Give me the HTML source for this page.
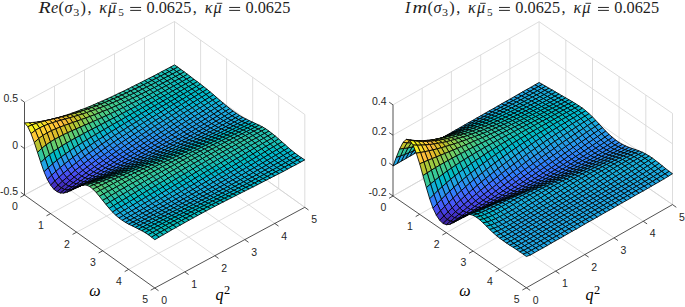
<!DOCTYPE html>
<html><head><meta charset="utf-8"><style>
html,body{margin:0;padding:0;background:#fff;}
svg{display:block;}
.t{font-family:"Liberation Sans",sans-serif;font-size:10.5px;fill:#262626;}
.m{font-family:"Liberation Serif",serif;font-size:16px;font-style:italic;fill:#000;}
.s{font-family:"Liberation Serif",serif;font-size:12.3px;fill:#000;}
.ti{font-family:"Liberation Serif",serif;font-size:16.3px;fill:#1e1e1e;}
</style></head><body>
<svg width="685" height="307" viewBox="0 0 685 307">
<rect width="685" height="307" fill="#fff"/>
<line x1="24.5" y1="195" x2="174.5" y2="114.3" stroke="#d4d4d4" stroke-width="0.8"/>
<line x1="50.6" y1="213.6" x2="200.6" y2="132.9" stroke="#d4d4d4" stroke-width="0.8"/>
<line x1="54.5" y1="178.9" x2="184.8" y2="271.9" stroke="#d4d4d4" stroke-width="0.8"/>
<line x1="76.6" y1="232.2" x2="226.6" y2="151.5" stroke="#d4d4d4" stroke-width="0.8"/>
<line x1="84.5" y1="162.7" x2="214.8" y2="255.7" stroke="#d4d4d4" stroke-width="0.8"/>
<line x1="102.7" y1="250.8" x2="252.7" y2="170.1" stroke="#d4d4d4" stroke-width="0.8"/>
<line x1="114.5" y1="146.6" x2="244.8" y2="239.6" stroke="#d4d4d4" stroke-width="0.8"/>
<line x1="128.7" y1="269.4" x2="278.7" y2="188.7" stroke="#d4d4d4" stroke-width="0.8"/>
<line x1="144.5" y1="130.4" x2="274.8" y2="223.4" stroke="#d4d4d4" stroke-width="0.8"/>
<line x1="174.5" y1="114.3" x2="304.8" y2="207.3" stroke="#d4d4d4" stroke-width="0.8"/>
<line x1="54.5" y1="178.9" x2="54.5" y2="86.1" stroke="#d4d4d4" stroke-width="0.8"/>
<line x1="84.5" y1="162.7" x2="84.5" y2="69.9" stroke="#d4d4d4" stroke-width="0.8"/>
<line x1="114.5" y1="146.6" x2="114.5" y2="53.8" stroke="#d4d4d4" stroke-width="0.8"/>
<line x1="144.5" y1="130.4" x2="144.5" y2="37.6" stroke="#d4d4d4" stroke-width="0.8"/>
<line x1="174.5" y1="114.3" x2="174.5" y2="21.5" stroke="#d4d4d4" stroke-width="0.8"/>
<line x1="24.5" y1="195" x2="174.5" y2="114.3" stroke="#d4d4d4" stroke-width="0.8"/>
<line x1="174.5" y1="114.3" x2="304.8" y2="207.3" stroke="#d4d4d4" stroke-width="0.8"/>
<line x1="24.5" y1="148.6" x2="174.5" y2="67.9" stroke="#d4d4d4" stroke-width="0.8"/>
<line x1="174.5" y1="67.9" x2="304.8" y2="160.9" stroke="#d4d4d4" stroke-width="0.8"/>
<line x1="24.5" y1="102.2" x2="174.5" y2="21.5" stroke="#d4d4d4" stroke-width="0.8"/>
<line x1="174.5" y1="21.5" x2="304.8" y2="114.5" stroke="#d4d4d4" stroke-width="0.8"/>
<line x1="200.6" y1="132.9" x2="200.6" y2="40.1" stroke="#d4d4d4" stroke-width="0.8"/>
<line x1="226.6" y1="151.5" x2="226.6" y2="58.7" stroke="#d4d4d4" stroke-width="0.8"/>
<line x1="252.7" y1="170.1" x2="252.7" y2="77.3" stroke="#d4d4d4" stroke-width="0.8"/>
<line x1="278.7" y1="188.7" x2="278.7" y2="95.9" stroke="#d4d4d4" stroke-width="0.8"/>
<line x1="304.8" y1="207.3" x2="304.8" y2="114.5" stroke="#d4d4d4" stroke-width="0.8"/>
<line x1="393" y1="196" x2="539.1" y2="112.9" stroke="#d4d4d4" stroke-width="0.8"/>
<line x1="419.7" y1="214.3" x2="565.8" y2="131.2" stroke="#d4d4d4" stroke-width="0.8"/>
<line x1="422.2" y1="179.4" x2="555.6" y2="271.1" stroke="#d4d4d4" stroke-width="0.8"/>
<line x1="446.4" y1="232.7" x2="592.5" y2="149.6" stroke="#d4d4d4" stroke-width="0.8"/>
<line x1="451.4" y1="162.8" x2="584.8" y2="254.5" stroke="#d4d4d4" stroke-width="0.8"/>
<line x1="473" y1="251.1" x2="619.1" y2="167.9" stroke="#d4d4d4" stroke-width="0.8"/>
<line x1="480.7" y1="146.1" x2="614.1" y2="237.9" stroke="#d4d4d4" stroke-width="0.8"/>
<line x1="499.7" y1="269.4" x2="645.8" y2="186.3" stroke="#d4d4d4" stroke-width="0.8"/>
<line x1="509.9" y1="129.5" x2="643.3" y2="221.3" stroke="#d4d4d4" stroke-width="0.8"/>
<line x1="539.1" y1="112.9" x2="672.5" y2="204.6" stroke="#d4d4d4" stroke-width="0.8"/>
<line x1="422.2" y1="179.4" x2="422.2" y2="88.2" stroke="#d4d4d4" stroke-width="0.8"/>
<line x1="451.4" y1="162.8" x2="451.4" y2="71.6" stroke="#d4d4d4" stroke-width="0.8"/>
<line x1="480.7" y1="146.1" x2="480.7" y2="54.9" stroke="#d4d4d4" stroke-width="0.8"/>
<line x1="509.9" y1="129.5" x2="509.9" y2="38.3" stroke="#d4d4d4" stroke-width="0.8"/>
<line x1="539.1" y1="112.9" x2="539.1" y2="21.7" stroke="#d4d4d4" stroke-width="0.8"/>
<line x1="393" y1="196" x2="539.1" y2="112.9" stroke="#d4d4d4" stroke-width="0.8"/>
<line x1="539.1" y1="112.9" x2="672.5" y2="204.6" stroke="#d4d4d4" stroke-width="0.8"/>
<line x1="393" y1="165.6" x2="539.1" y2="82.5" stroke="#d4d4d4" stroke-width="0.8"/>
<line x1="539.1" y1="82.5" x2="672.5" y2="174.2" stroke="#d4d4d4" stroke-width="0.8"/>
<line x1="393" y1="135.2" x2="539.1" y2="52.1" stroke="#d4d4d4" stroke-width="0.8"/>
<line x1="539.1" y1="52.1" x2="672.5" y2="143.8" stroke="#d4d4d4" stroke-width="0.8"/>
<line x1="393" y1="104.8" x2="539.1" y2="21.7" stroke="#d4d4d4" stroke-width="0.8"/>
<line x1="539.1" y1="21.7" x2="672.5" y2="113.4" stroke="#d4d4d4" stroke-width="0.8"/>
<line x1="565.8" y1="131.2" x2="565.8" y2="40" stroke="#d4d4d4" stroke-width="0.8"/>
<line x1="592.5" y1="149.6" x2="592.5" y2="58.4" stroke="#d4d4d4" stroke-width="0.8"/>
<line x1="619.1" y1="167.9" x2="619.1" y2="76.7" stroke="#d4d4d4" stroke-width="0.8"/>
<line x1="645.8" y1="186.3" x2="645.8" y2="95.1" stroke="#d4d4d4" stroke-width="0.8"/>
<line x1="672.5" y1="204.6" x2="672.5" y2="113.4" stroke="#d4d4d4" stroke-width="0.8"/>
<line x1="24.5" y1="195" x2="24.5" y2="102.2" stroke="#262626" stroke-width="0.8"/>
<line x1="24.5" y1="195" x2="154.8" y2="288" stroke="#262626" stroke-width="0.8"/>
<line x1="154.8" y1="288" x2="304.8" y2="207.3" stroke="#262626" stroke-width="0.8"/>
<line x1="24.5" y1="195" x2="20.8" y2="192.3" stroke="#262626" stroke-width="0.8"/>
<text x="18.1" y="195.1" text-anchor="end" class="t">-0.5</text>
<line x1="24.5" y1="148.6" x2="20.8" y2="145.9" stroke="#262626" stroke-width="0.8"/>
<text x="18.1" y="148.7" text-anchor="end" class="t">0</text>
<line x1="24.5" y1="102.2" x2="20.8" y2="99.5" stroke="#262626" stroke-width="0.8"/>
<text x="18.1" y="102.3" text-anchor="end" class="t">0.5</text>
<line x1="24.5" y1="195" x2="20.4" y2="197.2" stroke="#262626" stroke-width="0.8"/>
<text x="14.8" y="210.3" text-anchor="middle" class="t">0</text>
<line x1="154.8" y1="288" x2="158.5" y2="290.7" stroke="#262626" stroke-width="0.8"/>
<text x="164.1" y="304.1" text-anchor="middle" class="t">0</text>
<line x1="50.6" y1="213.6" x2="46.5" y2="215.8" stroke="#262626" stroke-width="0.8"/>
<text x="40.9" y="228.9" text-anchor="middle" class="t">1</text>
<line x1="184.8" y1="271.9" x2="188.5" y2="274.5" stroke="#262626" stroke-width="0.8"/>
<text x="194.1" y="288" text-anchor="middle" class="t">1</text>
<line x1="76.6" y1="232.2" x2="72.6" y2="234.4" stroke="#262626" stroke-width="0.8"/>
<text x="66.9" y="247.5" text-anchor="middle" class="t">2</text>
<line x1="214.8" y1="255.7" x2="218.5" y2="258.4" stroke="#262626" stroke-width="0.8"/>
<text x="224.1" y="271.8" text-anchor="middle" class="t">2</text>
<line x1="102.7" y1="250.8" x2="98.6" y2="253" stroke="#262626" stroke-width="0.8"/>
<text x="93" y="266.1" text-anchor="middle" class="t">3</text>
<line x1="244.8" y1="239.6" x2="248.5" y2="242.3" stroke="#262626" stroke-width="0.8"/>
<text x="254.1" y="255.7" text-anchor="middle" class="t">3</text>
<line x1="128.7" y1="269.4" x2="124.7" y2="271.6" stroke="#262626" stroke-width="0.8"/>
<text x="119" y="284.7" text-anchor="middle" class="t">4</text>
<line x1="274.8" y1="223.4" x2="278.5" y2="226.1" stroke="#262626" stroke-width="0.8"/>
<text x="284.1" y="239.5" text-anchor="middle" class="t">4</text>
<line x1="154.8" y1="288" x2="150.7" y2="290.2" stroke="#262626" stroke-width="0.8"/>
<text x="145.1" y="303.3" text-anchor="middle" class="t">5</text>
<line x1="304.8" y1="207.3" x2="308.5" y2="210" stroke="#262626" stroke-width="0.8"/>
<text x="314.1" y="223.4" text-anchor="middle" class="t">5</text>
<line x1="393" y1="196" x2="393" y2="104.8" stroke="#262626" stroke-width="0.8"/>
<line x1="393" y1="196" x2="526.4" y2="287.8" stroke="#262626" stroke-width="0.8"/>
<line x1="526.4" y1="287.8" x2="672.5" y2="204.6" stroke="#262626" stroke-width="0.8"/>
<line x1="393" y1="196" x2="389.2" y2="193.4" stroke="#262626" stroke-width="0.8"/>
<text x="386.6" y="196.1" text-anchor="end" class="t">-0.2</text>
<line x1="393" y1="165.6" x2="389.2" y2="163" stroke="#262626" stroke-width="0.8"/>
<text x="386.6" y="165.7" text-anchor="end" class="t">0</text>
<line x1="393" y1="135.2" x2="389.2" y2="132.6" stroke="#262626" stroke-width="0.8"/>
<text x="386.6" y="135.3" text-anchor="end" class="t">0.2</text>
<line x1="393" y1="104.8" x2="389.2" y2="102.2" stroke="#262626" stroke-width="0.8"/>
<text x="386.6" y="104.9" text-anchor="end" class="t">0.4</text>
<line x1="393" y1="196" x2="389" y2="198.3" stroke="#262626" stroke-width="0.8"/>
<text x="383.3" y="211.3" text-anchor="middle" class="t">0</text>
<line x1="526.4" y1="287.8" x2="530.2" y2="290.4" stroke="#262626" stroke-width="0.8"/>
<text x="535.7" y="303.9" text-anchor="middle" class="t">0</text>
<line x1="419.7" y1="214.3" x2="415.7" y2="216.6" stroke="#262626" stroke-width="0.8"/>
<text x="410" y="229.6" text-anchor="middle" class="t">1</text>
<line x1="555.6" y1="271.1" x2="559.4" y2="273.7" stroke="#262626" stroke-width="0.8"/>
<text x="564.9" y="287.2" text-anchor="middle" class="t">1</text>
<line x1="446.4" y1="232.7" x2="442.4" y2="235" stroke="#262626" stroke-width="0.8"/>
<text x="436.7" y="248" text-anchor="middle" class="t">2</text>
<line x1="584.8" y1="254.5" x2="588.6" y2="257.1" stroke="#262626" stroke-width="0.8"/>
<text x="594.1" y="270.6" text-anchor="middle" class="t">2</text>
<line x1="473" y1="251.1" x2="469" y2="253.3" stroke="#262626" stroke-width="0.8"/>
<text x="463.3" y="266.4" text-anchor="middle" class="t">3</text>
<line x1="614.1" y1="237.9" x2="617.9" y2="240.5" stroke="#262626" stroke-width="0.8"/>
<text x="623.4" y="254" text-anchor="middle" class="t">3</text>
<line x1="499.7" y1="269.4" x2="495.7" y2="271.7" stroke="#262626" stroke-width="0.8"/>
<text x="490" y="284.7" text-anchor="middle" class="t">4</text>
<line x1="643.3" y1="221.3" x2="647.1" y2="223.9" stroke="#262626" stroke-width="0.8"/>
<text x="652.6" y="237.4" text-anchor="middle" class="t">4</text>
<line x1="526.4" y1="287.8" x2="522.4" y2="290" stroke="#262626" stroke-width="0.8"/>
<text x="516.7" y="303.1" text-anchor="middle" class="t">5</text>
<line x1="672.5" y1="204.6" x2="676.3" y2="207.3" stroke="#262626" stroke-width="0.8"/>
<text x="681.8" y="220.7" text-anchor="middle" class="t">5</text>
<g stroke="#000" stroke-width="0.85" stroke-linejoin="round">
<path fill="#19bfb6" d="M170.2 67.2 174.5 64.9 177.8 67.1 173.5 69.4Z"/>
<path fill="#19bfb6" d="M165.9 69.5 170.2 67.2 173.5 69.4 169.2 71.7Z"/>
<path fill="#19bfb6" d="M173.5 69.4 177.8 67.1 181 69.5 176.7 71.7Z"/>
<path fill="#19bfb6" d="M161.6 71.7 165.9 69.5 169.2 71.7 164.9 73.9Z"/>
<path fill="#19bfb6" d="M169.2 71.7 173.5 69.4 176.7 71.7 172.4 74Z"/>
<path fill="#19bfb6" d="M176.7 71.7 181 69.5 184.3 71.9 180 74.2Z"/>
<path fill="#19bfb6" d="M157.4 74 161.6 71.7 164.9 73.9 160.6 76.1Z"/>
<path fill="#19bfb6" d="M164.9 73.9 169.2 71.7 172.4 74 168.2 76.2Z"/>
<path fill="#19bfb6" d="M172.4 74 176.7 71.7 180 74.2 175.7 76.4Z"/>
<path fill="#19bfb6" d="M180 74.2 184.3 71.9 187.5 74.3 183.2 76.7Z"/>
<path fill="#19bfb6" d="M153.1 76.2 157.4 74 160.6 76.1 156.3 78.3Z"/>
<path fill="#19bfb6" d="M160.6 76.1 164.9 73.9 168.2 76.2 163.9 78.4Z"/>
<path fill="#19bfb6" d="M168.2 76.2 172.4 74 175.7 76.4 171.4 78.7Z"/>
<path fill="#19bfb6" d="M175.7 76.4 180 74.2 183.2 76.7 179 78.9Z"/>
<path fill="#0bbdbd" d="M183.2 76.7 187.5 74.3 190.8 76.8 186.5 79.1Z"/>
<path fill="#19bfb6" d="M148.8 78.4 153.1 76.2 156.3 78.3 152 80.5Z"/>
<path fill="#19bfb6" d="M156.3 78.3 160.6 76.1 163.9 78.4 159.6 80.6Z"/>
<path fill="#19bfb6" d="M163.9 78.4 168.2 76.2 171.4 78.7 167.1 80.9Z"/>
<path fill="#19bfb6" d="M171.4 78.7 175.7 76.4 179 78.9 174.7 81.2Z"/>
<path fill="#0bbdbd" d="M179 78.9 183.2 76.7 186.5 79.1 182.2 81.5Z"/>
<path fill="#0bbdbd" d="M186.5 79.1 190.8 76.8 194 79.3 189.8 81.6Z"/>
<path fill="#19bfb6" d="M144.5 80.6 148.8 78.4 152 80.5 147.8 82.7Z"/>
<path fill="#19bfb6" d="M152 80.5 156.3 78.3 159.6 80.6 155.3 82.8Z"/>
<path fill="#19bfb6" d="M159.6 80.6 163.9 78.4 167.1 80.9 162.8 83.2Z"/>
<path fill="#19bfb6" d="M167.1 80.9 171.4 78.7 174.7 81.2 170.4 83.5Z"/>
<path fill="#0bbdbd" d="M174.7 81.2 179 78.9 182.2 81.5 177.9 83.8Z"/>
<path fill="#0bbdbd" d="M182.2 81.5 186.5 79.1 189.8 81.6 185.5 84Z"/>
<path fill="#0bbdbd" d="M189.8 81.6 194 79.3 197.3 81.7 193 84.1Z"/>
<path fill="#19bfb6" d="M140.2 82.8 144.5 80.6 147.8 82.7 143.5 84.8Z"/>
<path fill="#24c1ae" d="M147.8 82.7 152 80.5 155.3 82.8 151 85Z"/>
<path fill="#19bfb6" d="M155.3 82.8 159.6 80.6 162.8 83.2 158.6 85.4Z"/>
<path fill="#19bfb6" d="M162.8 83.2 167.1 80.9 170.4 83.5 166.1 85.8Z"/>
<path fill="#0bbdbd" d="M170.4 83.5 174.7 81.2 177.9 83.8 173.6 86.1Z"/>
<path fill="#0bbdbd" d="M177.9 83.8 182.2 81.5 185.5 84 181.2 86.4Z"/>
<path fill="#0bbdbd" d="M185.5 84 189.8 81.6 193 84.1 188.7 86.5Z"/>
<path fill="#0bbdbd" d="M193 84.1 197.3 81.7 200.6 84.2 196.3 86.6Z"/>
<path fill="#24c1ae" d="M135.9 84.9 140.2 82.8 143.5 84.8 139.2 86.9Z"/>
<path fill="#24c1ae" d="M143.5 84.8 147.8 82.7 151 85 146.7 87.1Z"/>
<path fill="#24c1ae" d="M151 85 155.3 82.8 158.6 85.4 154.3 87.6Z"/>
<path fill="#19bfb6" d="M158.6 85.4 162.8 83.2 166.1 85.8 161.8 88Z"/>
<path fill="#19bfb6" d="M166.1 85.8 170.4 83.5 173.6 86.1 169.4 88.4Z"/>
<path fill="#0bbdbd" d="M173.6 86.1 177.9 83.8 181.2 86.4 176.9 88.7Z"/>
<path fill="#0bbdbd" d="M181.2 86.4 185.5 84 188.7 86.5 184.4 88.9Z"/>
<path fill="#0bbdbd" d="M188.7 86.5 193 84.1 196.3 86.6 192 89Z"/>
<path fill="#02bac3" d="M196.3 86.6 200.6 84.2 203.8 86.7 199.5 89.2Z"/>
<path fill="#24c1ae" d="M131.6 87.1 135.9 84.9 139.2 86.9 134.9 89Z"/>
<path fill="#24c1ae" d="M139.2 86.9 143.5 84.8 146.7 87.1 142.4 89.2Z"/>
<path fill="#24c1ae" d="M146.7 87.1 151 85 154.3 87.6 150 89.7Z"/>
<path fill="#19bfb6" d="M154.3 87.6 158.6 85.4 161.8 88 157.5 90.3Z"/>
<path fill="#19bfb6" d="M161.8 88 166.1 85.8 169.4 88.4 165.1 90.8Z"/>
<path fill="#0bbdbd" d="M169.4 88.4 173.6 86.1 176.9 88.7 172.6 91.1Z"/>
<path fill="#0bbdbd" d="M176.9 88.7 181.2 86.4 184.4 88.9 180.2 91.3Z"/>
<path fill="#02bac3" d="M184.4 88.9 188.7 86.5 192 89 187.7 91.5Z"/>
<path fill="#02bac3" d="M192 89 196.3 86.6 199.5 89.2 195.2 91.6Z"/>
<path fill="#02bac3" d="M199.5 89.2 203.8 86.7 207.1 89.3 202.8 91.8Z"/>
<path fill="#24c1ae" d="M127.4 89.2 131.6 87.1 134.9 89 130.6 91Z"/>
<path fill="#24c1ae" d="M134.9 89 139.2 86.9 142.4 89.2 138.2 91.3Z"/>
<path fill="#24c1ae" d="M142.4 89.2 146.7 87.1 150 89.7 145.7 91.9Z"/>
<path fill="#19bfb6" d="M150 89.7 154.3 87.6 157.5 90.3 153.2 92.5Z"/>
<path fill="#19bfb6" d="M157.5 90.3 161.8 88 165.1 90.8 160.8 93.1Z"/>
<path fill="#0bbdbd" d="M165.1 90.8 169.4 88.4 172.6 91.1 168.3 93.5Z"/>
<path fill="#0bbdbd" d="M172.6 91.1 176.9 88.7 180.2 91.3 175.9 93.7Z"/>
<path fill="#02bac3" d="M180.2 91.3 184.4 88.9 187.7 91.5 183.4 94Z"/>
<path fill="#02bac3" d="M187.7 91.5 192 89 195.2 91.6 191 94.1Z"/>
<path fill="#02bac3" d="M195.2 91.6 199.5 89.2 202.8 91.8 198.5 94.3Z"/>
<path fill="#02bac3" d="M202.8 91.8 207.1 89.3 210.3 92 206 94.5Z"/>
<path fill="#24c1ae" d="M123.1 91.3 127.4 89.2 130.6 91 126.3 93Z"/>
<path fill="#2cc4a7" d="M130.6 91 134.9 89 138.2 91.3 133.9 93.3Z"/>
<path fill="#24c1ae" d="M138.2 91.3 142.4 89.2 145.7 91.9 141.4 94Z"/>
<path fill="#24c1ae" d="M145.7 91.9 150 89.7 153.2 92.5 149 94.7Z"/>
<path fill="#19bfb6" d="M153.2 92.5 157.5 90.3 160.8 93.1 156.5 95.4Z"/>
<path fill="#0bbdbd" d="M160.8 93.1 165.1 90.8 168.3 93.5 164 95.8Z"/>
<path fill="#0bbdbd" d="M168.3 93.5 172.6 91.1 175.9 93.7 171.6 96.2Z"/>
<path fill="#02bac3" d="M175.9 93.7 180.2 91.3 183.4 94 179.1 96.4Z"/>
<path fill="#02bac3" d="M183.4 94 187.7 91.5 191 94.1 186.7 96.6Z"/>
<path fill="#02bac3" d="M191 94.1 195.2 91.6 198.5 94.3 194.2 96.9Z"/>
<path fill="#01b8ca" d="M198.5 94.3 202.8 91.8 206 94.5 201.8 97.1Z"/>
<path fill="#01b8ca" d="M206 94.5 210.3 92 213.6 94.8 209.3 97.4Z"/>
<path fill="#2cc4a7" d="M118.8 93.3 123.1 91.3 126.3 93 122 95Z"/>
<path fill="#2cc4a7" d="M126.3 93 130.6 91 133.9 93.3 129.6 95.3Z"/>
<path fill="#2cc4a7" d="M133.9 93.3 138.2 91.3 141.4 94 137.1 96.1Z"/>
<path fill="#24c1ae" d="M141.4 94 145.7 91.9 149 94.7 144.7 96.9Z"/>
<path fill="#19bfb6" d="M149 94.7 153.2 92.5 156.5 95.4 152.2 97.7Z"/>
<path fill="#0bbdbd" d="M156.5 95.4 160.8 93.1 164 95.8 159.8 98.2Z"/>
<path fill="#02bac3" d="M164 95.8 168.3 93.5 171.6 96.2 167.3 98.6Z"/>
<path fill="#02bac3" d="M171.6 96.2 175.9 93.7 179.1 96.4 174.8 98.9Z"/>
<path fill="#02bac3" d="M179.1 96.4 183.4 94 186.7 96.6 182.4 99.2Z"/>
<path fill="#01b8ca" d="M186.7 96.6 191 94.1 194.2 96.9 189.9 99.4Z"/>
<path fill="#01b8ca" d="M194.2 96.9 198.5 94.3 201.8 97.1 197.5 99.7Z"/>
<path fill="#01b8ca" d="M201.8 97.1 206 94.5 209.3 97.4 205 100Z"/>
<path fill="#08b5d0" d="M209.3 97.4 213.6 94.8 216.8 97.6 212.6 100.2Z"/>
<path fill="#2cc4a7" d="M114.5 95.4 118.8 93.3 122 95 117.8 97Z"/>
<path fill="#31c69f" d="M122 95 126.3 93 129.6 95.3 125.3 97.3Z"/>
<path fill="#2cc4a7" d="M129.6 95.3 133.9 93.3 137.1 96.1 132.8 98.1Z"/>
<path fill="#24c1ae" d="M137.1 96.1 141.4 94 144.7 96.9 140.4 99.1Z"/>
<path fill="#19bfb6" d="M144.7 96.9 149 94.7 152.2 97.7 147.9 99.9Z"/>
<path fill="#0bbdbd" d="M152.2 97.7 156.5 95.4 159.8 98.2 155.5 100.6Z"/>
<path fill="#02bac3" d="M159.8 98.2 164 95.8 167.3 98.6 163 101Z"/>
<path fill="#02bac3" d="M167.3 98.6 171.6 96.2 174.8 98.9 170.6 101.4Z"/>
<path fill="#01b8ca" d="M174.8 98.9 179.1 96.4 182.4 99.2 178.1 101.7Z"/>
<path fill="#01b8ca" d="M182.4 99.2 186.7 96.6 189.9 99.4 185.6 102Z"/>
<path fill="#01b8ca" d="M189.9 99.4 194.2 96.9 197.5 99.7 193.2 102.3Z"/>
<path fill="#08b5d0" d="M197.5 99.7 201.8 97.1 205 100 200.7 102.6Z"/>
<path fill="#08b5d0" d="M205 100 209.3 97.4 212.6 100.2 208.3 102.8Z"/>
<path fill="#08b5d0" d="M212.6 100.2 216.8 97.6 220.1 100.5 215.8 103.1Z"/>
<path fill="#31c69f" d="M110.2 97.4 114.5 95.4 117.8 97 113.5 98.8Z"/>
<path fill="#31c69f" d="M117.8 97 122 95 125.3 97.3 121 99.2Z"/>
<path fill="#31c69f" d="M125.3 97.3 129.6 95.3 132.8 98.1 128.6 100.2Z"/>
<path fill="#2cc4a7" d="M132.8 98.1 137.1 96.1 140.4 99.1 136.1 101.3Z"/>
<path fill="#19bfb6" d="M140.4 99.1 144.7 96.9 147.9 99.9 143.6 102.2Z"/>
<path fill="#0bbdbd" d="M147.9 99.9 152.2 97.7 155.5 100.6 151.2 103Z"/>
<path fill="#02bac3" d="M155.5 100.6 159.8 98.2 163 101 158.7 103.5Z"/>
<path fill="#02bac3" d="M163 101 167.3 98.6 170.6 101.4 166.3 103.9Z"/>
<path fill="#01b8ca" d="M170.6 101.4 174.8 98.9 178.1 101.7 173.8 104.2Z"/>
<path fill="#01b8ca" d="M178.1 101.7 182.4 99.2 185.6 102 181.4 104.6Z"/>
<path fill="#08b5d0" d="M185.6 102 189.9 99.4 193.2 102.3 188.9 104.9Z"/>
<path fill="#08b5d0" d="M193.2 102.3 197.5 99.7 200.7 102.6 196.4 105.2Z"/>
<path fill="#08b5d0" d="M200.7 102.6 205 100 208.3 102.8 204 105.5Z"/>
<path fill="#12b1d6" d="M208.3 102.8 212.6 100.2 215.8 103.1 211.5 105.7Z"/>
<path fill="#12b1d6" d="M215.8 103.1 220.1 100.5 223.4 103.3 219.1 105.9Z"/>
<path fill="#31c69f" d="M105.9 99.3 110.2 97.4 113.5 98.8 109.2 100.7Z"/>
<path fill="#37c897" d="M113.5 98.8 117.8 97 121 99.2 116.7 101.1Z"/>
<path fill="#31c69f" d="M121 99.2 125.3 97.3 128.6 100.2 124.3 102.1Z"/>
<path fill="#2cc4a7" d="M128.6 100.2 132.8 98.1 136.1 101.3 131.8 103.4Z"/>
<path fill="#19bfb6" d="M136.1 101.3 140.4 99.1 143.6 102.2 139.4 104.5Z"/>
<path fill="#0bbdbd" d="M143.6 102.2 147.9 99.9 151.2 103 146.9 105.3Z"/>
<path fill="#02bac3" d="M151.2 103 155.5 100.6 158.7 103.5 154.4 106Z"/>
<path fill="#01b8ca" d="M158.7 103.5 163 101 166.3 103.9 162 106.4Z"/>
<path fill="#01b8ca" d="M166.3 103.9 170.6 101.4 173.8 104.2 169.5 106.8Z"/>
<path fill="#08b5d0" d="M173.8 104.2 178.1 101.7 181.4 104.6 177.1 107.2Z"/>
<path fill="#08b5d0" d="M181.4 104.6 185.6 102 188.9 104.9 184.6 107.5Z"/>
<path fill="#08b5d0" d="M188.9 104.9 193.2 102.3 196.4 105.2 192.2 107.8Z"/>
<path fill="#12b1d6" d="M196.4 105.2 200.7 102.6 204 105.5 199.7 108.1Z"/>
<path fill="#12b1d6" d="M204 105.5 208.3 102.8 211.5 105.7 207.2 108.4Z"/>
<path fill="#18addb" d="M211.5 105.7 215.8 103.1 219.1 105.9 214.8 108.5Z"/>
<path fill="#18addb" d="M219.1 105.9 223.4 103.3 226.6 106 222.3 108.6Z"/>
<path fill="#37c897" d="M101.6 101.3 105.9 99.3 109.2 100.7 104.9 102.5Z"/>
<path fill="#37c897" d="M109.2 100.7 113.5 98.8 116.7 101.1 112.4 102.9Z"/>
<path fill="#37c897" d="M116.7 101.1 121 99.2 124.3 102.1 120 104.1Z"/>
<path fill="#2cc4a7" d="M124.3 102.1 128.6 100.2 131.8 103.4 127.5 105.5Z"/>
<path fill="#24c1ae" d="M131.8 103.4 136.1 101.3 139.4 104.5 135.1 106.8Z"/>
<path fill="#0bbdbd" d="M139.4 104.5 143.6 102.2 146.9 105.3 142.6 107.7Z"/>
<path fill="#02bac3" d="M146.9 105.3 151.2 103 154.4 106 150.2 108.4Z"/>
<path fill="#01b8ca" d="M154.4 106 158.7 103.5 162 106.4 157.7 108.9Z"/>
<path fill="#01b8ca" d="M162 106.4 166.3 103.9 169.5 106.8 165.2 109.4Z"/>
<path fill="#08b5d0" d="M169.5 106.8 173.8 104.2 177.1 107.2 172.8 109.8Z"/>
<path fill="#08b5d0" d="M177.1 107.2 181.4 104.6 184.6 107.5 180.3 110.1Z"/>
<path fill="#12b1d6" d="M184.6 107.5 188.9 104.9 192.2 107.8 187.9 110.5Z"/>
<path fill="#12b1d6" d="M192.2 107.8 196.4 105.2 199.7 108.1 195.4 110.8Z"/>
<path fill="#18addb" d="M199.7 108.1 204 105.5 207.2 108.4 203 111Z"/>
<path fill="#18addb" d="M207.2 108.4 211.5 105.7 214.8 108.5 210.5 111.2Z"/>
<path fill="#18addb" d="M214.8 108.5 219.1 105.9 222.3 108.6 218 111.2Z"/>
<path fill="#18addb" d="M222.3 108.6 226.6 106 229.9 108.6 225.6 111.2Z"/>
<path fill="#37c897" d="M97.4 103.1 101.6 101.3 104.9 102.5 100.6 104.2Z"/>
<path fill="#3fca8e" d="M104.9 102.5 109.2 100.7 112.4 102.9 108.2 104.7Z"/>
<path fill="#3fca8e" d="M112.4 102.9 116.7 101.1 120 104.1 115.7 106Z"/>
<path fill="#31c69f" d="M120 104.1 124.3 102.1 127.5 105.5 123.2 107.6Z"/>
<path fill="#24c1ae" d="M127.5 105.5 131.8 103.4 135.1 106.8 130.8 109Z"/>
<path fill="#0bbdbd" d="M135.1 106.8 139.4 104.5 142.6 107.7 138.3 110.1Z"/>
<path fill="#02bac3" d="M142.6 107.7 146.9 105.3 150.2 108.4 145.9 110.9Z"/>
<path fill="#01b8ca" d="M150.2 108.4 154.4 106 157.7 108.9 153.4 111.5Z"/>
<path fill="#08b5d0" d="M157.7 108.9 162 106.4 165.2 109.4 161 112Z"/>
<path fill="#08b5d0" d="M165.2 109.4 169.5 106.8 172.8 109.8 168.5 112.4Z"/>
<path fill="#12b1d6" d="M172.8 109.8 177.1 107.2 180.3 110.1 176 112.8Z"/>
<path fill="#12b1d6" d="M180.3 110.1 184.6 107.5 187.9 110.5 183.6 113.1Z"/>
<path fill="#18addb" d="M187.9 110.5 192.2 107.8 195.4 110.8 191.1 113.4Z"/>
<path fill="#18addb" d="M195.4 110.8 199.7 108.1 203 111 198.7 113.7Z"/>
<path fill="#18addb" d="M203 111 207.2 108.4 210.5 111.2 206.2 113.8Z"/>
<path fill="#1ca9df" d="M210.5 111.2 214.8 108.5 218 111.2 213.8 113.9Z"/>
<path fill="#1ca9df" d="M218 111.2 222.3 108.6 225.6 111.2 221.3 113.8Z"/>
<path fill="#1ca9df" d="M225.6 111.2 229.9 108.6 233.1 111.1 228.8 113.6Z"/>
<path fill="#3fca8e" d="M93.1 105 97.4 103.1 100.6 104.2 96.3 105.9Z"/>
<path fill="#4acb84" d="M100.6 104.2 104.9 102.5 108.2 104.7 103.9 106.4Z"/>
<path fill="#3fca8e" d="M108.2 104.7 112.4 102.9 115.7 106 111.4 107.9Z"/>
<path fill="#31c69f" d="M115.7 106 120 104.1 123.2 107.6 119 109.7Z"/>
<path fill="#24c1ae" d="M123.2 107.6 127.5 105.5 130.8 109 126.5 111.3Z"/>
<path fill="#0bbdbd" d="M130.8 109 135.1 106.8 138.3 110.1 134 112.5Z"/>
<path fill="#02bac3" d="M138.3 110.1 142.6 107.7 145.9 110.9 141.6 113.4Z"/>
<path fill="#01b8ca" d="M145.9 110.9 150.2 108.4 153.4 111.5 149.1 114.1Z"/>
<path fill="#08b5d0" d="M153.4 111.5 157.7 108.9 161 112 156.7 114.6Z"/>
<path fill="#12b1d6" d="M161 112 165.2 109.4 168.5 112.4 164.2 115.1Z"/>
<path fill="#12b1d6" d="M168.5 112.4 172.8 109.8 176 112.8 171.8 115.5Z"/>
<path fill="#18addb" d="M176 112.8 180.3 110.1 183.6 113.1 179.3 115.8Z"/>
<path fill="#18addb" d="M183.6 113.1 187.9 110.5 191.1 113.4 186.8 116.1Z"/>
<path fill="#1ca9df" d="M191.1 113.4 195.4 110.8 198.7 113.7 194.4 116.3Z"/>
<path fill="#1ca9df" d="M198.7 113.7 203 111 206.2 113.8 201.9 116.4Z"/>
<path fill="#1ca9df" d="M206.2 113.8 210.5 111.2 213.8 113.9 209.5 116.5Z"/>
<path fill="#1ca9df" d="M213.8 113.9 218 111.2 221.3 113.8 217 116.4Z"/>
<path fill="#1ca9df" d="M221.3 113.8 225.6 111.2 228.8 113.6 224.6 116.2Z"/>
<path fill="#1ca9df" d="M228.8 113.6 233.1 111.1 236.4 113.4 232.1 115.9Z"/>
<path fill="#4acb84" d="M88.8 106.8 93.1 105 96.3 105.9 92 107.5Z"/>
<path fill="#57cc7a" d="M96.3 105.9 100.6 104.2 103.9 106.4 99.6 108Z"/>
<path fill="#4acb84" d="M103.9 106.4 108.2 104.7 111.4 107.9 107.1 109.7Z"/>
<path fill="#37c897" d="M111.4 107.9 115.7 106 119 109.7 114.7 111.7Z"/>
<path fill="#2cc4a7" d="M119 109.7 123.2 107.6 126.5 111.3 122.2 113.5Z"/>
<path fill="#0bbdbd" d="M126.5 111.3 130.8 109 134 112.5 129.8 114.9Z"/>
<path fill="#02bac3" d="M134 112.5 138.3 110.1 141.6 113.4 137.3 115.9Z"/>
<path fill="#08b5d0" d="M141.6 113.4 145.9 110.9 149.1 114.1 144.8 116.7Z"/>
<path fill="#08b5d0" d="M149.1 114.1 153.4 111.5 156.7 114.6 152.4 117.2Z"/>
<path fill="#12b1d6" d="M156.7 114.6 161 112 164.2 115.1 159.9 117.7Z"/>
<path fill="#18addb" d="M164.2 115.1 168.5 112.4 171.8 115.5 167.5 118.1Z"/>
<path fill="#18addb" d="M171.8 115.5 176 112.8 179.3 115.8 175 118.5Z"/>
<path fill="#1ca9df" d="M179.3 115.8 183.6 113.1 186.8 116.1 182.6 118.8Z"/>
<path fill="#1ca9df" d="M186.8 116.1 191.1 113.4 194.4 116.3 190.1 119Z"/>
<path fill="#1ca9df" d="M194.4 116.3 198.7 113.7 201.9 116.4 197.6 119.1Z"/>
<path fill="#20a5e3" d="M201.9 116.4 206.2 113.8 209.5 116.5 205.2 119.1Z"/>
<path fill="#20a5e3" d="M209.5 116.5 213.8 113.9 217 116.4 212.7 118.9Z"/>
<path fill="#1ca9df" d="M217 116.4 221.3 113.8 224.6 116.2 220.3 118.7Z"/>
<path fill="#1ca9df" d="M224.6 116.2 228.8 113.6 232.1 115.9 227.8 118.4Z"/>
<path fill="#1ca9df" d="M232.1 115.9 236.4 113.4 239.6 115.5 235.4 117.9Z"/>
<path fill="#4acb84" d="M84.5 108.5 88.8 106.8 92 107.5 87.8 109Z"/>
<path fill="#64cd6f" d="M92 107.5 96.3 105.9 99.6 108 95.3 109.6Z"/>
<path fill="#57cc7a" d="M99.6 108 103.9 106.4 107.1 109.7 102.8 111.4Z"/>
<path fill="#3fca8e" d="M107.1 109.7 111.4 107.9 114.7 111.7 110.4 113.7Z"/>
<path fill="#2cc4a7" d="M114.7 111.7 119 109.7 122.2 113.5 117.9 115.8Z"/>
<path fill="#0bbdbd" d="M122.2 113.5 126.5 111.3 129.8 114.9 125.5 117.3Z"/>
<path fill="#02bac3" d="M129.8 114.9 134 112.5 137.3 115.9 133 118.5Z"/>
<path fill="#08b5d0" d="M137.3 115.9 141.6 113.4 144.8 116.7 140.6 119.3Z"/>
<path fill="#12b1d6" d="M144.8 116.7 149.1 114.1 152.4 117.2 148.1 119.9Z"/>
<path fill="#18addb" d="M152.4 117.2 156.7 114.6 159.9 117.7 155.6 120.4Z"/>
<path fill="#18addb" d="M159.9 117.7 164.2 115.1 167.5 118.1 163.2 120.8Z"/>
<path fill="#1ca9df" d="M167.5 118.1 171.8 115.5 175 118.5 170.7 121.2Z"/>
<path fill="#1ca9df" d="M175 118.5 179.3 115.8 182.6 118.8 178.3 121.5Z"/>
<path fill="#20a5e3" d="M182.6 118.8 186.8 116.1 190.1 119 185.8 121.6Z"/>
<path fill="#20a5e3" d="M190.1 119 194.4 116.3 197.6 119.1 193.4 121.7Z"/>
<path fill="#20a5e3" d="M197.6 119.1 201.9 116.4 205.2 119.1 200.9 121.7Z"/>
<path fill="#20a5e3" d="M205.2 119.1 209.5 116.5 212.7 118.9 208.4 121.5Z"/>
<path fill="#20a5e3" d="M212.7 118.9 217 116.4 220.3 118.7 216 121.2Z"/>
<path fill="#1ca9df" d="M220.3 118.7 224.6 116.2 227.8 118.4 223.5 120.8Z"/>
<path fill="#1ca9df" d="M227.8 118.4 232.1 115.9 235.4 117.9 231.1 120.3Z"/>
<path fill="#18addb" d="M235.4 117.9 239.6 115.5 242.9 117.4 238.6 119.7Z"/>
<path fill="#57cc7a" d="M80.2 110.1 84.5 108.5 87.8 109 83.5 110.5Z"/>
<path fill="#72cd64" d="M87.8 109 92 107.5 95.3 109.6 91 111.1Z"/>
<path fill="#64cd6f" d="M95.3 109.6 99.6 108 102.8 111.4 98.6 113.2Z"/>
<path fill="#4acb84" d="M102.8 111.4 107.1 109.7 110.4 113.7 106.1 115.7Z"/>
<path fill="#2cc4a7" d="M110.4 113.7 114.7 111.7 117.9 115.8 113.6 118Z"/>
<path fill="#19bfb6" d="M117.9 115.8 122.2 113.5 125.5 117.3 121.2 119.8Z"/>
<path fill="#01b8ca" d="M125.5 117.3 129.8 114.9 133 118.5 128.7 121Z"/>
<path fill="#08b5d0" d="M133 118.5 137.3 115.9 140.6 119.3 136.3 121.9Z"/>
<path fill="#12b1d6" d="M140.6 119.3 144.8 116.7 148.1 119.9 143.8 122.6Z"/>
<path fill="#18addb" d="M148.1 119.9 152.4 117.2 155.6 120.4 151.4 123.1Z"/>
<path fill="#1ca9df" d="M155.6 120.4 159.9 117.7 163.2 120.8 158.9 123.5Z"/>
<path fill="#1ca9df" d="M163.2 120.8 167.5 118.1 170.7 121.2 166.4 123.9Z"/>
<path fill="#20a5e3" d="M170.7 121.2 175 118.5 178.3 121.5 174 124.1Z"/>
<path fill="#20a5e3" d="M178.3 121.5 182.6 118.8 185.8 121.6 181.5 124.3Z"/>
<path fill="#20a5e3" d="M185.8 121.6 190.1 119 193.4 121.7 189.1 124.3Z"/>
<path fill="#23a0e5" d="M193.4 121.7 197.6 119.1 200.9 121.7 196.6 124.3Z"/>
<path fill="#20a5e3" d="M200.9 121.7 205.2 119.1 208.4 121.5 204.2 124.1Z"/>
<path fill="#20a5e3" d="M208.4 121.5 212.7 118.9 216 121.2 211.7 123.7Z"/>
<path fill="#20a5e3" d="M216 121.2 220.3 118.7 223.5 120.8 219.2 123.3Z"/>
<path fill="#1ca9df" d="M223.5 120.8 227.8 118.4 231.1 120.3 226.8 122.7Z"/>
<path fill="#18addb" d="M231.1 120.3 235.4 117.9 238.6 119.7 234.3 122.1Z"/>
<path fill="#18addb" d="M238.6 119.7 242.9 117.4 246.2 119.1 241.9 121.4Z"/>
<path fill="#64cd6f" d="M75.9 111.7 80.2 110.1 83.5 110.5 79.2 111.9Z"/>
<path fill="#81cc59" d="M83.5 110.5 87.8 109 91 111.1 86.7 112.6Z"/>
<path fill="#72cd64" d="M91 111.1 95.3 109.6 98.6 113.2 94.3 114.8Z"/>
<path fill="#4acb84" d="M98.6 113.2 102.8 111.4 106.1 115.7 101.8 117.7Z"/>
<path fill="#31c69f" d="M106.1 115.7 110.4 113.7 113.6 118 109.4 120.2Z"/>
<path fill="#19bfb6" d="M113.6 118 117.9 115.8 121.2 119.8 116.9 122.2Z"/>
<path fill="#01b8ca" d="M121.2 119.8 125.5 117.3 128.7 121 124.4 123.6Z"/>
<path fill="#12b1d6" d="M128.7 121 133 118.5 136.3 121.9 132 124.6Z"/>
<path fill="#18addb" d="M136.3 121.9 140.6 119.3 143.8 122.6 139.5 125.3Z"/>
<path fill="#1ca9df" d="M143.8 122.6 148.1 119.9 151.4 123.1 147.1 125.8Z"/>
<path fill="#1ca9df" d="M151.4 123.1 155.6 120.4 158.9 123.5 154.6 126.3Z"/>
<path fill="#20a5e3" d="M158.9 123.5 163.2 120.8 166.4 123.9 162.2 126.6Z"/>
<path fill="#20a5e3" d="M166.4 123.9 170.7 121.2 174 124.1 169.7 126.9Z"/>
<path fill="#23a0e5" d="M174 124.1 178.3 121.5 181.5 124.3 177.2 127Z"/>
<path fill="#23a0e5" d="M181.5 124.3 185.8 121.6 189.1 124.3 184.8 127Z"/>
<path fill="#23a0e5" d="M189.1 124.3 193.4 121.7 196.6 124.3 192.3 126.9Z"/>
<path fill="#23a0e5" d="M196.6 124.3 200.9 121.7 204.2 124.1 199.9 126.6Z"/>
<path fill="#23a0e5" d="M204.2 124.1 208.4 121.5 211.7 123.7 207.4 126.2Z"/>
<path fill="#20a5e3" d="M211.7 123.7 216 121.2 219.2 123.3 215 125.7Z"/>
<path fill="#1ca9df" d="M219.2 123.3 223.5 120.8 226.8 122.7 222.5 125.1Z"/>
<path fill="#1ca9df" d="M226.8 122.7 231.1 120.3 234.3 122.1 230.1 124.4Z"/>
<path fill="#18addb" d="M234.3 122.1 238.6 119.7 241.9 121.4 237.6 123.7Z"/>
<path fill="#12b1d6" d="M241.9 121.4 246.2 119.1 249.4 120.7 245.1 122.9Z"/>
<path fill="#72cd64" d="M71.6 113.3 75.9 111.7 79.2 111.9 74.9 113.2Z"/>
<path fill="#8fcb4e" d="M79.2 111.9 83.5 110.5 86.7 112.6 82.4 114Z"/>
<path fill="#81cc59" d="M86.7 112.6 91 111.1 94.3 114.8 90 116.4Z"/>
<path fill="#57cc7a" d="M94.3 114.8 98.6 113.2 101.8 117.7 97.5 119.6Z"/>
<path fill="#31c69f" d="M101.8 117.7 106.1 115.7 109.4 120.2 105.1 122.4Z"/>
<path fill="#19bfb6" d="M109.4 120.2 113.6 118 116.9 122.2 112.6 124.6Z"/>
<path fill="#01b8ca" d="M116.9 122.2 121.2 119.8 124.4 123.6 120.2 126.2Z"/>
<path fill="#12b1d6" d="M124.4 123.6 128.7 121 132 124.6 127.7 127.2Z"/>
<path fill="#18addb" d="M132 124.6 136.3 121.9 139.5 125.3 135.2 128Z"/>
<path fill="#1ca9df" d="M139.5 125.3 143.8 122.6 147.1 125.8 142.8 128.6Z"/>
<path fill="#20a5e3" d="M147.1 125.8 151.4 123.1 154.6 126.3 150.3 129Z"/>
<path fill="#23a0e5" d="M154.6 126.3 158.9 123.5 162.2 126.6 157.9 129.3Z"/>
<path fill="#23a0e5" d="M162.2 126.6 166.4 123.9 169.7 126.9 165.4 129.6Z"/>
<path fill="#23a0e5" d="M169.7 126.9 174 124.1 177.2 127 173 129.7Z"/>
<path fill="#23a0e5" d="M177.2 127 181.5 124.3 184.8 127 180.5 129.6Z"/>
<path fill="#23a0e5" d="M184.8 127 189.1 124.3 192.3 126.9 188 129.5Z"/>
<path fill="#23a0e5" d="M192.3 126.9 196.6 124.3 199.9 126.6 195.6 129.1Z"/>
<path fill="#23a0e5" d="M199.9 126.6 204.2 124.1 207.4 126.2 203.1 128.7Z"/>
<path fill="#20a5e3" d="M207.4 126.2 211.7 123.7 215 125.7 210.7 128.1Z"/>
<path fill="#20a5e3" d="M215 125.7 219.2 123.3 222.5 125.1 218.2 127.5Z"/>
<path fill="#1ca9df" d="M222.5 125.1 226.8 122.7 230.1 124.4 225.8 126.7Z"/>
<path fill="#18addb" d="M230.1 124.4 234.3 122.1 237.6 123.7 233.3 125.9Z"/>
<path fill="#12b1d6" d="M237.6 123.7 241.9 121.4 245.1 122.9 240.9 125.1Z"/>
<path fill="#08b5d0" d="M245.1 122.9 249.4 120.7 252.7 122.2 248.4 124.4Z"/>
<path fill="#8fcb4e" d="M67.4 114.7 71.6 113.3 74.9 113.2 70.6 114.5Z"/>
<path fill="#abc739" d="M74.9 113.2 79.2 111.9 82.4 114 78.2 115.3Z"/>
<path fill="#9dc943" d="M82.4 114 86.7 112.6 90 116.4 85.7 118Z"/>
<path fill="#64cd6f" d="M90 116.4 94.3 114.8 97.5 119.6 93.2 121.5Z"/>
<path fill="#37c897" d="M97.5 119.6 101.8 117.7 105.1 122.4 100.8 124.7Z"/>
<path fill="#19bfb6" d="M105.1 122.4 109.4 120.2 112.6 124.6 108.3 127.1Z"/>
<path fill="#01b8ca" d="M112.6 124.6 116.9 122.2 120.2 126.2 115.9 128.8Z"/>
<path fill="#12b1d6" d="M120.2 126.2 124.4 123.6 127.7 127.2 123.4 130Z"/>
<path fill="#1ca9df" d="M127.7 127.2 132 124.6 135.2 128 131 130.8Z"/>
<path fill="#20a5e3" d="M135.2 128 139.5 125.3 142.8 128.6 138.5 131.4Z"/>
<path fill="#23a0e5" d="M142.8 128.6 147.1 125.8 150.3 129 146 131.8Z"/>
<path fill="#23a0e5" d="M150.3 129 154.6 126.3 157.9 129.3 153.6 132.1Z"/>
<path fill="#259be8" d="M157.9 129.3 162.2 126.6 165.4 129.6 161.1 132.3Z"/>
<path fill="#259be8" d="M165.4 129.6 169.7 126.9 173 129.7 168.7 132.3Z"/>
<path fill="#259be8" d="M173 129.7 177.2 127 180.5 129.6 176.2 132.3Z"/>
<path fill="#259be8" d="M180.5 129.6 184.8 127 188 129.5 183.8 132Z"/>
<path fill="#259be8" d="M188 129.5 192.3 126.9 195.6 129.1 191.3 131.7Z"/>
<path fill="#23a0e5" d="M195.6 129.1 199.9 126.6 203.1 128.7 198.8 131.2Z"/>
<path fill="#23a0e5" d="M203.1 128.7 207.4 126.2 210.7 128.1 206.4 130.5Z"/>
<path fill="#20a5e3" d="M210.7 128.1 215 125.7 218.2 127.5 213.9 129.8Z"/>
<path fill="#1ca9df" d="M218.2 127.5 222.5 125.1 225.8 126.7 221.5 129Z"/>
<path fill="#18addb" d="M225.8 126.7 230.1 124.4 233.3 125.9 229 128.2Z"/>
<path fill="#12b1d6" d="M233.3 125.9 237.6 123.7 240.9 125.1 236.6 127.3Z"/>
<path fill="#01b8ca" d="M240.9 125.1 245.1 122.9 248.4 124.4 244.1 126.6Z"/>
<path fill="#02bac3" d="M248.4 124.4 252.7 122.2 255.9 123.7 251.7 125.8Z"/>
<path fill="#9dc943" d="M63.1 116.1 67.4 114.7 70.6 114.5 66.3 115.7Z"/>
<path fill="#b9c431" d="M70.6 114.5 74.9 113.2 78.2 115.3 73.9 116.6Z"/>
<path fill="#abc739" d="M78.2 115.3 82.4 114 85.7 118 81.4 119.5Z"/>
<path fill="#72cd64" d="M85.7 118 90 116.4 93.2 121.5 89 123.4Z"/>
<path fill="#37c897" d="M93.2 121.5 97.5 119.6 100.8 124.7 96.5 126.9Z"/>
<path fill="#19bfb6" d="M100.8 124.7 105.1 122.4 108.3 127.1 104 129.6Z"/>
<path fill="#01b8ca" d="M108.3 127.1 112.6 124.6 115.9 128.8 111.6 131.5Z"/>
<path fill="#18addb" d="M115.9 128.8 120.2 126.2 123.4 130 119.1 132.7Z"/>
<path fill="#1ca9df" d="M123.4 130 127.7 127.2 131 130.8 126.7 133.6Z"/>
<path fill="#20a5e3" d="M131 130.8 135.2 128 138.5 131.4 134.2 134.2Z"/>
<path fill="#23a0e5" d="M138.5 131.4 142.8 128.6 146 131.8 141.8 134.6Z"/>
<path fill="#259be8" d="M146 131.8 150.3 129 153.6 132.1 149.3 134.9Z"/>
<path fill="#259be8" d="M153.6 132.1 157.9 129.3 161.1 132.3 156.8 135Z"/>
<path fill="#259be8" d="M161.1 132.3 165.4 129.6 168.7 132.3 164.4 135Z"/>
<path fill="#2797eb" d="M168.7 132.3 173 129.7 176.2 132.3 171.9 134.9Z"/>
<path fill="#259be8" d="M176.2 132.3 180.5 129.6 183.8 132 179.5 134.6Z"/>
<path fill="#259be8" d="M183.8 132 188 129.5 191.3 131.7 187 134.2Z"/>
<path fill="#23a0e5" d="M191.3 131.7 195.6 129.1 198.8 131.2 194.6 133.6Z"/>
<path fill="#23a0e5" d="M198.8 131.2 203.1 128.7 206.4 130.5 202.1 132.9Z"/>
<path fill="#20a5e3" d="M206.4 130.5 210.7 128.1 213.9 129.8 209.6 132.1Z"/>
<path fill="#1ca9df" d="M213.9 129.8 218.2 127.5 221.5 129 217.2 131.3Z"/>
<path fill="#18addb" d="M221.5 129 225.8 126.7 229 128.2 224.7 130.4Z"/>
<path fill="#08b5d0" d="M229 128.2 233.3 125.9 236.6 127.3 232.3 129.5Z"/>
<path fill="#01b8ca" d="M236.6 127.3 240.9 125.1 244.1 126.6 239.8 128.7Z"/>
<path fill="#02bac3" d="M244.1 126.6 248.4 124.4 251.7 125.8 247.4 128Z"/>
<path fill="#0bbdbd" d="M251.7 125.8 255.9 123.7 259.2 125.2 254.9 127.4Z"/>
<path fill="#abc739" d="M58.8 117.4 63.1 116.1 66.3 115.7 62 116.8Z"/>
<path fill="#d1bf27" d="M66.3 115.7 70.6 114.5 73.9 116.6 69.6 117.8Z"/>
<path fill="#c5c22a" d="M73.9 116.6 78.2 115.3 81.4 119.5 77.1 121Z"/>
<path fill="#81cc59" d="M81.4 119.5 85.7 118 89 123.4 84.7 125.2Z"/>
<path fill="#3fca8e" d="M89 123.4 93.2 121.5 96.5 126.9 92.2 129.1Z"/>
<path fill="#19bfb6" d="M96.5 126.9 100.8 124.7 104 129.6 99.8 132.1Z"/>
<path fill="#08b5d0" d="M104 129.6 108.3 127.1 111.6 131.5 107.3 134.1Z"/>
<path fill="#18addb" d="M111.6 131.5 115.9 128.8 119.1 132.7 114.8 135.5Z"/>
<path fill="#20a5e3" d="M119.1 132.7 123.4 130 126.7 133.6 122.4 136.4Z"/>
<path fill="#23a0e5" d="M126.7 133.6 131 130.8 134.2 134.2 129.9 137Z"/>
<path fill="#259be8" d="M134.2 134.2 138.5 131.4 141.8 134.6 137.5 137.4Z"/>
<path fill="#2797eb" d="M141.8 134.6 146 131.8 149.3 134.9 145 137.6Z"/>
<path fill="#2797eb" d="M149.3 134.9 153.6 132.1 156.8 135 152.6 137.7Z"/>
<path fill="#2797eb" d="M156.8 135 161.1 132.3 164.4 135 160.1 137.7Z"/>
<path fill="#2797eb" d="M164.4 135 168.7 132.3 171.9 134.9 167.6 137.5Z"/>
<path fill="#2797eb" d="M171.9 134.9 176.2 132.3 179.5 134.6 175.2 137.2Z"/>
<path fill="#259be8" d="M179.5 134.6 183.8 132 187 134.2 182.7 136.7Z"/>
<path fill="#259be8" d="M187 134.2 191.3 131.7 194.6 133.6 190.3 136Z"/>
<path fill="#23a0e5" d="M194.6 133.6 198.8 131.2 202.1 132.9 197.8 135.3Z"/>
<path fill="#20a5e3" d="M202.1 132.9 206.4 130.5 209.6 132.1 205.4 134.4Z"/>
<path fill="#1ca9df" d="M209.6 132.1 213.9 129.8 217.2 131.3 212.9 133.5Z"/>
<path fill="#18addb" d="M217.2 131.3 221.5 129 224.7 130.4 220.5 132.6Z"/>
<path fill="#08b5d0" d="M224.7 130.4 229 128.2 232.3 129.5 228 131.7Z"/>
<path fill="#01b8ca" d="M232.3 129.5 236.6 127.3 239.8 128.7 235.5 130.8Z"/>
<path fill="#02bac3" d="M239.8 128.7 244.1 126.6 247.4 128 243.1 130.1Z"/>
<path fill="#0bbdbd" d="M247.4 128 251.7 125.8 254.9 127.4 250.6 129.5Z"/>
<path fill="#19bfb6" d="M254.9 127.4 259.2 125.2 262.5 126.9 258.2 129.1Z"/>
<path fill="#c5c22a" d="M54.5 118.5 58.8 117.4 62 116.8 57.8 117.9Z"/>
<path fill="#dcbd29" d="M62 116.8 66.3 115.7 69.6 117.8 65.3 119Z"/>
<path fill="#d1bf27" d="M69.6 117.8 73.9 116.6 77.1 121 72.8 122.5Z"/>
<path fill="#9dc943" d="M77.1 121 81.4 119.5 84.7 125.2 80.4 127.1Z"/>
<path fill="#4acb84" d="M84.7 125.2 89 123.4 92.2 129.1 87.9 131.3Z"/>
<path fill="#19bfb6" d="M92.2 129.1 96.5 126.9 99.8 132.1 95.5 134.6Z"/>
<path fill="#08b5d0" d="M99.8 132.1 104 129.6 107.3 134.1 103 136.9Z"/>
<path fill="#1ca9df" d="M107.3 134.1 111.6 131.5 114.8 135.5 110.6 138.3Z"/>
<path fill="#23a0e5" d="M114.8 135.5 119.1 132.7 122.4 136.4 118.1 139.2Z"/>
<path fill="#259be8" d="M122.4 136.4 126.7 133.6 129.9 137 125.6 139.8Z"/>
<path fill="#2797eb" d="M129.9 137 134.2 134.2 137.5 137.4 133.2 140.2Z"/>
<path fill="#2797eb" d="M137.5 137.4 141.8 134.6 145 137.6 140.7 140.4Z"/>
<path fill="#2b91ef" d="M145 137.6 149.3 134.9 152.6 137.7 148.3 140.5Z"/>
<path fill="#2b91ef" d="M152.6 137.7 156.8 135 160.1 137.7 155.8 140.4Z"/>
<path fill="#2b91ef" d="M160.1 137.7 164.4 135 167.6 137.5 163.4 140.1Z"/>
<path fill="#2797eb" d="M167.6 137.5 171.9 134.9 175.2 137.2 170.9 139.7Z"/>
<path fill="#2797eb" d="M175.2 137.2 179.5 134.6 182.7 136.7 178.4 139.1Z"/>
<path fill="#259be8" d="M182.7 136.7 187 134.2 190.3 136 186 138.4Z"/>
<path fill="#23a0e5" d="M190.3 136 194.6 133.6 197.8 135.3 193.5 137.6Z"/>
<path fill="#20a5e3" d="M197.8 135.3 202.1 132.9 205.4 134.4 201.1 136.7Z"/>
<path fill="#1ca9df" d="M205.4 134.4 209.6 132.1 212.9 133.5 208.6 135.7Z"/>
<path fill="#12b1d6" d="M212.9 133.5 217.2 131.3 220.5 132.6 216.2 134.7Z"/>
<path fill="#08b5d0" d="M220.5 132.6 224.7 130.4 228 131.7 223.7 133.8Z"/>
<path fill="#01b8ca" d="M228 131.7 232.3 129.5 235.5 130.8 231.3 133Z"/>
<path fill="#02bac3" d="M235.5 130.8 239.8 128.7 243.1 130.1 238.8 132.2Z"/>
<path fill="#0bbdbd" d="M243.1 130.1 247.4 128 250.6 129.5 246.3 131.6Z"/>
<path fill="#19bfb6" d="M250.6 129.5 254.9 127.4 258.2 129.1 253.9 131.2Z"/>
<path fill="#24c1ae" d="M258.2 129.1 262.5 126.9 265.7 128.8 261.4 131.1Z"/>
<path fill="#dcbd29" d="M50.2 119.6 54.5 118.5 57.8 117.9 53.5 118.9Z"/>
<path fill="#f0ba36" d="M57.8 117.9 62 116.8 65.3 119 61 120.2Z"/>
<path fill="#e6bb2d" d="M65.3 119 69.6 117.8 72.8 122.5 68.6 124Z"/>
<path fill="#abc739" d="M72.8 122.5 77.1 121 80.4 127.1 76.1 128.9Z"/>
<path fill="#4acb84" d="M80.4 127.1 84.7 125.2 87.9 131.3 83.6 133.6Z"/>
<path fill="#19bfb6" d="M87.9 131.3 92.2 129.1 95.5 134.6 91.2 137.2Z"/>
<path fill="#08b5d0" d="M95.5 134.6 99.8 132.1 103 136.9 98.7 139.6Z"/>
<path fill="#1ca9df" d="M103 136.9 107.3 134.1 110.6 138.3 106.3 141.2Z"/>
<path fill="#23a0e5" d="M110.6 138.3 114.8 135.5 118.1 139.2 113.8 142.1Z"/>
<path fill="#2797eb" d="M118.1 139.2 122.4 136.4 125.6 139.8 121.4 142.7Z"/>
<path fill="#2797eb" d="M125.6 139.8 129.9 137 133.2 140.2 128.9 143.1Z"/>
<path fill="#2b91ef" d="M133.2 140.2 137.5 137.4 140.7 140.4 136.4 143.2Z"/>
<path fill="#2b91ef" d="M140.7 140.4 145 137.6 148.3 140.5 144 143.2Z"/>
<path fill="#2b91ef" d="M148.3 140.5 152.6 137.7 155.8 140.4 151.5 143Z"/>
<path fill="#2b91ef" d="M155.8 140.4 160.1 137.7 163.4 140.1 159.1 142.7Z"/>
<path fill="#2b91ef" d="M163.4 140.1 167.6 137.5 170.9 139.7 166.6 142.2Z"/>
<path fill="#2797eb" d="M170.9 139.7 175.2 137.2 178.4 139.1 174.2 141.6Z"/>
<path fill="#259be8" d="M178.4 139.1 182.7 136.7 186 138.4 181.7 140.8Z"/>
<path fill="#23a0e5" d="M186 138.4 190.3 136 193.5 137.6 189.2 139.9Z"/>
<path fill="#20a5e3" d="M193.5 137.6 197.8 135.3 201.1 136.7 196.8 138.9Z"/>
<path fill="#1ca9df" d="M201.1 136.7 205.4 134.4 208.6 135.7 204.3 137.9Z"/>
<path fill="#12b1d6" d="M208.6 135.7 212.9 133.5 216.2 134.7 211.9 136.9Z"/>
<path fill="#08b5d0" d="M216.2 134.7 220.5 132.6 223.7 133.8 219.4 135.9Z"/>
<path fill="#01b8ca" d="M223.7 133.8 228 131.7 231.3 133 227 135.1Z"/>
<path fill="#0bbdbd" d="M231.3 133 235.5 130.8 238.8 132.2 234.5 134.3Z"/>
<path fill="#19bfb6" d="M238.8 132.2 243.1 130.1 246.3 131.6 242.1 133.8Z"/>
<path fill="#19bfb6" d="M246.3 131.6 250.6 129.5 253.9 131.2 249.6 133.4Z"/>
<path fill="#24c1ae" d="M253.9 131.2 258.2 129.1 261.4 131.1 257.1 133.3Z"/>
<path fill="#24c1ae" d="M261.4 131.1 265.7 128.8 269 131.1 264.7 133.4Z"/>
<path fill="#f0ba36" d="M45.9 120.5 50.2 119.6 53.5 118.9 49.2 119.9Z"/>
<path fill="#febe3c" d="M53.5 118.9 57.8 117.9 61 120.2 56.7 121.4Z"/>
<path fill="#f0ba36" d="M61 120.2 65.3 119 68.6 124 64.3 125.5Z"/>
<path fill="#b9c431" d="M68.6 124 72.8 122.5 76.1 128.9 71.8 130.8Z"/>
<path fill="#57cc7a" d="M76.1 128.9 80.4 127.1 83.6 133.6 79.4 135.9Z"/>
<path fill="#19bfb6" d="M83.6 133.6 87.9 131.3 91.2 137.2 86.9 139.8Z"/>
<path fill="#12b1d6" d="M91.2 137.2 95.5 134.6 98.7 139.6 94.4 142.4Z"/>
<path fill="#20a5e3" d="M98.7 139.6 103 136.9 106.3 141.2 102 144.1Z"/>
<path fill="#259be8" d="M106.3 141.2 110.6 138.3 113.8 142.1 109.5 145.1Z"/>
<path fill="#2797eb" d="M113.8 142.1 118.1 139.2 121.4 142.7 117.1 145.6Z"/>
<path fill="#2b91ef" d="M121.4 142.7 125.6 139.8 128.9 143.1 124.6 145.9Z"/>
<path fill="#2d8cf3" d="M128.9 143.1 133.2 140.2 136.4 143.2 132.2 146Z"/>
<path fill="#2d8cf3" d="M136.4 143.2 140.7 140.4 144 143.2 139.7 146Z"/>
<path fill="#2d8cf3" d="M144 143.2 148.3 140.5 151.5 143 147.2 145.7Z"/>
<path fill="#2d8cf3" d="M151.5 143 155.8 140.4 159.1 142.7 154.8 145.3Z"/>
<path fill="#2b91ef" d="M159.1 142.7 163.4 140.1 166.6 142.2 162.3 144.7Z"/>
<path fill="#2797eb" d="M166.6 142.2 170.9 139.7 174.2 141.6 169.9 144Z"/>
<path fill="#259be8" d="M174.2 141.6 178.4 139.1 181.7 140.8 177.4 143.1Z"/>
<path fill="#23a0e5" d="M181.7 140.8 186 138.4 189.2 139.9 185 142.1Z"/>
<path fill="#20a5e3" d="M189.2 139.9 193.5 137.6 196.8 138.9 192.5 141.1Z"/>
<path fill="#1ca9df" d="M196.8 138.9 201.1 136.7 204.3 137.9 200.1 140Z"/>
<path fill="#12b1d6" d="M204.3 137.9 208.6 135.7 211.9 136.9 207.6 139Z"/>
<path fill="#08b5d0" d="M211.9 136.9 216.2 134.7 219.4 135.9 215.1 138Z"/>
<path fill="#02bac3" d="M219.4 135.9 223.7 133.8 227 135.1 222.7 137.2Z"/>
<path fill="#0bbdbd" d="M227 135.1 231.3 133 234.5 134.3 230.2 136.4Z"/>
<path fill="#19bfb6" d="M234.5 134.3 238.8 132.2 242.1 133.8 237.8 135.9Z"/>
<path fill="#24c1ae" d="M242.1 133.8 246.3 131.6 249.6 133.4 245.3 135.6Z"/>
<path fill="#24c1ae" d="M249.6 133.4 253.9 131.2 257.1 133.3 252.9 135.6Z"/>
<path fill="#24c1ae" d="M257.1 133.3 261.4 131.1 264.7 133.4 260.4 135.7Z"/>
<path fill="#24c1ae" d="M264.7 133.4 269 131.1 272.2 133.6 267.9 135.9Z"/>
<path fill="#febe3c" d="M41.6 121.3 45.9 120.5 49.2 119.9 44.9 121Z"/>
<path fill="#fec934" d="M49.2 119.9 53.5 118.9 56.7 121.4 52.4 122.7Z"/>
<path fill="#febe3c" d="M56.7 121.4 61 120.2 64.3 125.5 60 127.1Z"/>
<path fill="#c5c22a" d="M64.3 125.5 68.6 124 71.8 130.8 67.5 132.8Z"/>
<path fill="#57cc7a" d="M71.8 130.8 76.1 128.9 79.4 135.9 75.1 138.2Z"/>
<path fill="#19bfb6" d="M79.4 135.9 83.6 133.6 86.9 139.8 82.6 142.5Z"/>
<path fill="#12b1d6" d="M86.9 139.8 91.2 137.2 94.4 142.4 90.2 145.3Z"/>
<path fill="#23a0e5" d="M94.4 142.4 98.7 139.6 102 144.1 97.7 147Z"/>
<path fill="#2797eb" d="M102 144.1 106.3 141.2 109.5 145.1 105.2 148Z"/>
<path fill="#2b91ef" d="M109.5 145.1 113.8 142.1 117.1 145.6 112.8 148.6Z"/>
<path fill="#2d8cf3" d="M117.1 145.6 121.4 142.7 124.6 145.9 120.3 148.8Z"/>
<path fill="#2d8cf3" d="M124.6 145.9 128.9 143.1 132.2 146 127.9 148.9Z"/>
<path fill="#2e87f7" d="M132.2 146 136.4 143.2 139.7 146 135.4 148.7Z"/>
<path fill="#2d8cf3" d="M139.7 146 144 143.2 147.2 145.7 143 148.4Z"/>
<path fill="#2d8cf3" d="M147.2 145.7 151.5 143 154.8 145.3 150.5 147.9Z"/>
<path fill="#2b91ef" d="M154.8 145.3 159.1 142.7 162.3 144.7 158 147.2Z"/>
<path fill="#2b91ef" d="M162.3 144.7 166.6 142.2 169.9 144 165.6 146.4Z"/>
<path fill="#2797eb" d="M169.9 144 174.2 141.6 177.4 143.1 173.1 145.4Z"/>
<path fill="#23a0e5" d="M177.4 143.1 181.7 140.8 185 142.1 180.7 144.4Z"/>
<path fill="#20a5e3" d="M185 142.1 189.2 139.9 192.5 141.1 188.2 143.3Z"/>
<path fill="#18addb" d="M192.5 141.1 196.8 138.9 200.1 140 195.8 142.2Z"/>
<path fill="#12b1d6" d="M200.1 140 204.3 137.9 207.6 139 203.3 141.1Z"/>
<path fill="#01b8ca" d="M207.6 139 211.9 136.9 215.1 138 210.9 140.1Z"/>
<path fill="#02bac3" d="M215.1 138 219.4 135.9 222.7 137.2 218.4 139.2Z"/>
<path fill="#0bbdbd" d="M222.7 137.2 227 135.1 230.2 136.4 225.9 138.5Z"/>
<path fill="#19bfb6" d="M230.2 136.4 234.5 134.3 237.8 135.9 233.5 138Z"/>
<path fill="#24c1ae" d="M237.8 135.9 242.1 133.8 245.3 135.6 241 137.8Z"/>
<path fill="#24c1ae" d="M245.3 135.6 249.6 133.4 252.9 135.6 248.6 137.9Z"/>
<path fill="#24c1ae" d="M252.9 135.6 257.1 133.3 260.4 135.7 256.1 138Z"/>
<path fill="#24c1ae" d="M260.4 135.7 264.7 133.4 267.9 135.9 263.7 138.3Z"/>
<path fill="#24c1ae" d="M267.9 135.9 272.2 133.6 275.5 136.2 271.2 138.7Z"/>
<path fill="#fec934" d="M37.4 121.9 41.6 121.3 44.9 121 40.6 122.1Z"/>
<path fill="#fccf30" d="M44.9 121 49.2 119.9 52.4 122.7 48.2 124.2Z"/>
<path fill="#fec338" d="M52.4 122.7 56.7 121.4 60 127.1 55.7 128.8Z"/>
<path fill="#d1bf27" d="M60 127.1 64.3 125.5 67.5 132.8 63.2 134.8Z"/>
<path fill="#64cd6f" d="M67.5 132.8 71.8 130.8 75.1 138.2 70.8 140.6Z"/>
<path fill="#19bfb6" d="M75.1 138.2 79.4 135.9 82.6 142.5 78.3 145.2Z"/>
<path fill="#18addb" d="M82.6 142.5 86.9 139.8 90.2 145.3 85.9 148.2Z"/>
<path fill="#23a0e5" d="M90.2 145.3 94.4 142.4 97.7 147 93.4 150Z"/>
<path fill="#2b91ef" d="M97.7 147 102 144.1 105.2 148 101 151Z"/>
<path fill="#2d8cf3" d="M105.2 148 109.5 145.1 112.8 148.6 108.5 151.6Z"/>
<path fill="#2e87f7" d="M112.8 148.6 117.1 145.6 120.3 148.8 116 151.7Z"/>
<path fill="#2e87f7" d="M120.3 148.8 124.6 145.9 127.9 148.9 123.6 151.7Z"/>
<path fill="#2e87f7" d="M127.9 148.9 132.2 146 135.4 148.7 131.1 151.5Z"/>
<path fill="#2e87f7" d="M135.4 148.7 139.7 146 143 148.4 138.7 151Z"/>
<path fill="#2e87f7" d="M143 148.4 147.2 145.7 150.5 147.9 146.2 150.4Z"/>
<path fill="#2d8cf3" d="M150.5 147.9 154.8 145.3 158 147.2 153.8 149.7Z"/>
<path fill="#2b91ef" d="M158 147.2 162.3 144.7 165.6 146.4 161.3 148.7Z"/>
<path fill="#2797eb" d="M165.6 146.4 169.9 144 173.1 145.4 168.8 147.7Z"/>
<path fill="#23a0e5" d="M173.1 145.4 177.4 143.1 180.7 144.4 176.4 146.6Z"/>
<path fill="#20a5e3" d="M180.7 144.4 185 142.1 188.2 143.3 183.9 145.4Z"/>
<path fill="#18addb" d="M188.2 143.3 192.5 141.1 195.8 142.2 191.5 144.3Z"/>
<path fill="#12b1d6" d="M195.8 142.2 200.1 140 203.3 141.1 199 143.2Z"/>
<path fill="#01b8ca" d="M203.3 141.1 207.6 139 210.9 140.1 206.6 142.2Z"/>
<path fill="#02bac3" d="M210.9 140.1 215.1 138 218.4 139.2 214.1 141.3Z"/>
<path fill="#0bbdbd" d="M218.4 139.2 222.7 137.2 225.9 138.5 221.7 140.6Z"/>
<path fill="#24c1ae" d="M225.9 138.5 230.2 136.4 233.5 138 229.2 140.2Z"/>
<path fill="#24c1ae" d="M233.5 138 237.8 135.9 241 137.8 236.7 140.1Z"/>
<path fill="#2cc4a7" d="M241 137.8 245.3 135.6 248.6 137.9 244.3 140.2Z"/>
<path fill="#2cc4a7" d="M248.6 137.9 252.9 135.6 256.1 138 251.8 140.4Z"/>
<path fill="#24c1ae" d="M256.1 138 260.4 135.7 263.7 138.3 259.4 140.7Z"/>
<path fill="#24c1ae" d="M263.7 138.3 267.9 135.9 271.2 138.7 266.9 141.1Z"/>
<path fill="#19bfb6" d="M271.2 138.7 275.5 136.2 278.7 139 274.5 141.5Z"/>
<path fill="#f7dc2a" d="M33.1 122.4 37.4 121.9 40.6 122.1 36.3 123.4Z"/>
<path fill="#f7dc2a" d="M40.6 122.1 44.9 121 48.2 124.2 43.9 125.9Z"/>
<path fill="#fec934" d="M48.2 124.2 52.4 122.7 55.7 128.8 51.4 130.7Z"/>
<path fill="#dcbd29" d="M55.7 128.8 60 127.1 63.2 134.8 59 137Z"/>
<path fill="#64cd6f" d="M63.2 134.8 67.5 132.8 70.8 140.6 66.5 143.1Z"/>
<path fill="#19bfb6" d="M70.8 140.6 75.1 138.2 78.3 145.2 74 148Z"/>
<path fill="#18addb" d="M78.3 145.2 82.6 142.5 85.9 148.2 81.6 151.2Z"/>
<path fill="#259be8" d="M85.9 148.2 90.2 145.3 93.4 150 89.1 153.1Z"/>
<path fill="#2d8cf3" d="M93.4 150 97.7 147 101 151 96.7 154.1Z"/>
<path fill="#2e87f7" d="M101 151 105.2 148 108.5 151.6 104.2 154.6Z"/>
<path fill="#2f81fa" d="M108.5 151.6 112.8 148.6 116 151.7 111.8 154.7Z"/>
<path fill="#2f81fa" d="M116 151.7 120.3 148.8 123.6 151.7 119.3 154.5Z"/>
<path fill="#2f81fa" d="M123.6 151.7 127.9 148.9 131.1 151.5 126.8 154.2Z"/>
<path fill="#2f81fa" d="M131.1 151.5 135.4 148.7 138.7 151 134.4 153.7Z"/>
<path fill="#2e87f7" d="M138.7 151 143 148.4 146.2 150.4 141.9 153Z"/>
<path fill="#2d8cf3" d="M146.2 150.4 150.5 147.9 153.8 149.7 149.5 152.1Z"/>
<path fill="#2b91ef" d="M153.8 149.7 158 147.2 161.3 148.7 157 151.1Z"/>
<path fill="#2797eb" d="M161.3 148.7 165.6 146.4 168.8 147.7 164.6 149.9Z"/>
<path fill="#23a0e5" d="M168.8 147.7 173.1 145.4 176.4 146.6 172.1 148.8Z"/>
<path fill="#20a5e3" d="M176.4 146.6 180.7 144.4 183.9 145.4 179.6 147.5Z"/>
<path fill="#18addb" d="M183.9 145.4 188.2 143.3 191.5 144.3 187.2 146.3Z"/>
<path fill="#08b5d0" d="M191.5 144.3 195.8 142.2 199 143.2 194.7 145.2Z"/>
<path fill="#01b8ca" d="M199 143.2 203.3 141.1 206.6 142.2 202.3 144.2Z"/>
<path fill="#0bbdbd" d="M206.6 142.2 210.9 140.1 214.1 141.3 209.8 143.3Z"/>
<path fill="#19bfb6" d="M214.1 141.3 218.4 139.2 221.7 140.6 217.4 142.7Z"/>
<path fill="#24c1ae" d="M221.7 140.6 225.9 138.5 229.2 140.2 224.9 142.4Z"/>
<path fill="#24c1ae" d="M229.2 140.2 233.5 138 236.7 140.1 232.5 142.3Z"/>
<path fill="#2cc4a7" d="M236.7 140.1 241 137.8 244.3 140.2 240 142.5Z"/>
<path fill="#2cc4a7" d="M244.3 140.2 248.6 137.9 251.8 140.4 247.5 142.7Z"/>
<path fill="#24c1ae" d="M251.8 140.4 256.1 138 259.4 140.7 255.1 143.1Z"/>
<path fill="#24c1ae" d="M259.4 140.7 263.7 138.3 266.9 141.1 262.6 143.5Z"/>
<path fill="#19bfb6" d="M266.9 141.1 271.2 138.7 274.5 141.5 270.2 144Z"/>
<path fill="#19bfb6" d="M274.5 141.5 278.7 139 282 141.9 277.7 144.4Z"/>
<path fill="#f5e924" d="M28.8 122.7 33.1 122.4 36.3 123.4 32 124.9Z"/>
<path fill="#f5e924" d="M36.3 123.4 40.6 122.1 43.9 125.9 39.6 127.9Z"/>
<path fill="#fccf30" d="M43.9 125.9 48.2 124.2 51.4 130.7 47.1 132.9Z"/>
<path fill="#dcbd29" d="M51.4 130.7 55.7 128.8 59 137 54.7 139.3Z"/>
<path fill="#72cd64" d="M59 137 63.2 134.8 66.5 143.1 62.2 145.7Z"/>
<path fill="#19bfb6" d="M66.5 143.1 70.8 140.6 74 148 69.8 150.9Z"/>
<path fill="#1ca9df" d="M74 148 78.3 145.2 81.6 151.2 77.3 154.3Z"/>
<path fill="#2797eb" d="M81.6 151.2 85.9 148.2 89.1 153.1 84.8 156.2Z"/>
<path fill="#2e87f7" d="M89.1 153.1 93.4 150 96.7 154.1 92.4 157.2Z"/>
<path fill="#2f81fa" d="M96.7 154.1 101 151 104.2 154.6 99.9 157.6Z"/>
<path fill="#327cfc" d="M104.2 154.6 108.5 151.6 111.8 154.7 107.5 157.7Z"/>
<path fill="#327cfc" d="M111.8 154.7 116 151.7 119.3 154.5 115 157.4Z"/>
<path fill="#327cfc" d="M119.3 154.5 123.6 151.7 126.8 154.2 122.6 157Z"/>
<path fill="#2f81fa" d="M126.8 154.2 131.1 151.5 134.4 153.7 130.1 156.3Z"/>
<path fill="#2f81fa" d="M134.4 153.7 138.7 151 141.9 153 137.6 155.5Z"/>
<path fill="#2e87f7" d="M141.9 153 146.2 150.4 149.5 152.1 145.2 154.5Z"/>
<path fill="#2b91ef" d="M149.5 152.1 153.8 149.7 157 151.1 152.7 153.4Z"/>
<path fill="#2797eb" d="M157 151.1 161.3 148.7 164.6 149.9 160.3 152.2Z"/>
<path fill="#23a0e5" d="M164.6 149.9 168.8 147.7 172.1 148.8 167.8 150.9Z"/>
<path fill="#20a5e3" d="M172.1 148.8 176.4 146.6 179.6 147.5 175.4 149.6Z"/>
<path fill="#18addb" d="M179.6 147.5 183.9 145.4 187.2 146.3 182.9 148.4Z"/>
<path fill="#08b5d0" d="M187.2 146.3 191.5 144.3 194.7 145.2 190.5 147.2Z"/>
<path fill="#02bac3" d="M194.7 145.2 199 143.2 202.3 144.2 198 146.2Z"/>
<path fill="#0bbdbd" d="M202.3 144.2 206.6 142.2 209.8 143.3 205.5 145.4Z"/>
<path fill="#19bfb6" d="M209.8 143.3 214.1 141.3 217.4 142.7 213.1 144.8Z"/>
<path fill="#24c1ae" d="M217.4 142.7 221.7 140.6 224.9 142.4 220.6 144.6Z"/>
<path fill="#2cc4a7" d="M224.9 142.4 229.2 140.2 232.5 142.3 228.2 144.6Z"/>
<path fill="#2cc4a7" d="M232.5 142.3 236.7 140.1 240 142.5 235.7 144.8Z"/>
<path fill="#2cc4a7" d="M240 142.5 244.3 140.2 247.5 142.7 243.3 145.1Z"/>
<path fill="#24c1ae" d="M247.5 142.7 251.8 140.4 255.1 143.1 250.8 145.5Z"/>
<path fill="#24c1ae" d="M255.1 143.1 259.4 140.7 262.6 143.5 258.3 146Z"/>
<path fill="#19bfb6" d="M262.6 143.5 266.9 141.1 270.2 144 265.9 146.4Z"/>
<path fill="#19bfb6" d="M270.2 144 274.5 141.5 277.7 144.4 273.4 146.9Z"/>
<path fill="#0bbdbd" d="M277.7 144.4 282 141.9 285.3 144.8 281 147.4Z"/>
<path fill="#f9fb15" d="M24.5 122.9 28.8 122.7 32 124.9 27.8 126.7Z"/>
<path fill="#f6ef20" d="M32 124.9 36.3 123.4 39.6 127.9 35.3 130.4Z"/>
<path fill="#fccf30" d="M39.6 127.9 43.9 125.9 47.1 132.9 42.8 135.5Z"/>
<path fill="#e6bb2d" d="M47.1 132.9 51.4 130.7 54.7 139.3 50.4 141.9Z"/>
<path fill="#72cd64" d="M54.7 139.3 59 137 62.2 145.7 57.9 148.5Z"/>
<path fill="#19bfb6" d="M62.2 145.7 66.5 143.1 69.8 150.9 65.5 153.9Z"/>
<path fill="#20a5e3" d="M69.8 150.9 74 148 77.3 154.3 73 157.4Z"/>
<path fill="#2b91ef" d="M77.3 154.3 81.6 151.2 84.8 156.2 80.6 159.5Z"/>
<path fill="#2f81fa" d="M84.8 156.2 89.1 153.1 92.4 157.2 88.1 160.4Z"/>
<path fill="#327cfc" d="M92.4 157.2 96.7 154.1 99.9 157.6 95.6 160.8Z"/>
<path fill="#3875fe" d="M99.9 157.6 104.2 154.6 107.5 157.7 103.2 160.7Z"/>
<path fill="#3875fe" d="M107.5 157.7 111.8 154.7 115 157.4 110.7 160.3Z"/>
<path fill="#3875fe" d="M115 157.4 119.3 154.5 122.6 157 118.3 159.7Z"/>
<path fill="#327cfc" d="M122.6 157 126.8 154.2 130.1 156.3 125.8 158.9Z"/>
<path fill="#2f81fa" d="M130.1 156.3 134.4 153.7 137.6 155.5 133.4 158Z"/>
<path fill="#2e87f7" d="M137.6 155.5 141.9 153 145.2 154.5 140.9 156.9Z"/>
<path fill="#2b91ef" d="M145.2 154.5 149.5 152.1 152.7 153.4 148.4 155.6Z"/>
<path fill="#2797eb" d="M152.7 153.4 157 151.1 160.3 152.2 156 154.3Z"/>
<path fill="#23a0e5" d="M160.3 152.2 164.6 149.9 167.8 150.9 163.5 153Z"/>
<path fill="#1ca9df" d="M167.8 150.9 172.1 148.8 175.4 149.6 171.1 151.7Z"/>
<path fill="#12b1d6" d="M175.4 149.6 179.6 147.5 182.9 148.4 178.6 150.4Z"/>
<path fill="#08b5d0" d="M182.9 148.4 187.2 146.3 190.5 147.2 186.2 149.2Z"/>
<path fill="#02bac3" d="M190.5 147.2 194.7 145.2 198 146.2 193.7 148.2Z"/>
<path fill="#0bbdbd" d="M198 146.2 202.3 144.2 205.5 145.4 201.3 147.4Z"/>
<path fill="#24c1ae" d="M205.5 145.4 209.8 143.3 213.1 144.8 208.8 146.9Z"/>
<path fill="#24c1ae" d="M213.1 144.8 217.4 142.7 220.6 144.6 216.3 146.8Z"/>
<path fill="#2cc4a7" d="M220.6 144.6 224.9 142.4 228.2 144.6 223.9 146.9Z"/>
<path fill="#2cc4a7" d="M228.2 144.6 232.5 142.3 235.7 144.8 231.4 147.1Z"/>
<path fill="#2cc4a7" d="M235.7 144.8 240 142.5 243.3 145.1 239 147.5Z"/>
<path fill="#24c1ae" d="M243.3 145.1 247.5 142.7 250.8 145.5 246.5 147.9Z"/>
<path fill="#24c1ae" d="M250.8 145.5 255.1 143.1 258.3 146 254.1 148.4Z"/>
<path fill="#19bfb6" d="M258.3 146 262.6 143.5 265.9 146.4 261.6 148.9Z"/>
<path fill="#0bbdbd" d="M265.9 146.4 270.2 144 273.4 146.9 269.1 149.4Z"/>
<path fill="#0bbdbd" d="M273.4 146.9 277.7 144.4 281 147.4 276.7 149.9Z"/>
<path fill="#02bac3" d="M281 147.4 285.3 144.8 288.5 147.8 284.2 150.3Z"/>
<path fill="#f6ef20" d="M27.8 126.7 32 124.9 35.3 130.4 31 133.6Z"/>
<path fill="#fccf30" d="M35.3 130.4 39.6 127.9 42.8 135.5 38.6 138.6Z"/>
<path fill="#dcbd29" d="M42.8 135.5 47.1 132.9 50.4 141.9 46.1 144.9Z"/>
<path fill="#64cd6f" d="M50.4 141.9 54.7 139.3 57.9 148.5 53.6 151.5Z"/>
<path fill="#0bbdbd" d="M57.9 148.5 62.2 145.7 65.5 153.9 61.2 157Z"/>
<path fill="#23a0e5" d="M65.5 153.9 69.8 150.9 73 157.4 68.7 160.7Z"/>
<path fill="#2e87f7" d="M73 157.4 77.3 154.3 80.6 159.5 76.3 162.8Z"/>
<path fill="#327cfc" d="M80.6 159.5 84.8 156.2 88.1 160.4 83.8 163.7Z"/>
<path fill="#3e6fff" d="M88.1 160.4 92.4 157.2 95.6 160.8 91.4 163.9Z"/>
<path fill="#3e6fff" d="M95.6 160.8 99.9 157.6 103.2 160.7 98.9 163.7Z"/>
<path fill="#3e6fff" d="M103.2 160.7 107.5 157.7 110.7 160.3 106.4 163.2Z"/>
<path fill="#3875fe" d="M110.7 160.3 115 157.4 118.3 159.7 114 162.4Z"/>
<path fill="#3875fe" d="M118.3 159.7 122.6 157 125.8 158.9 121.5 161.5Z"/>
<path fill="#2f81fa" d="M125.8 158.9 130.1 156.3 133.4 158 129.1 160.4Z"/>
<path fill="#2e87f7" d="M133.4 158 137.6 155.5 140.9 156.9 136.6 159.2Z"/>
<path fill="#2d8cf3" d="M140.9 156.9 145.2 154.5 148.4 155.6 144.2 157.9Z"/>
<path fill="#2797eb" d="M148.4 155.6 152.7 153.4 156 154.3 151.7 156.5Z"/>
<path fill="#23a0e5" d="M156 154.3 160.3 152.2 163.5 153 159.2 155.1Z"/>
<path fill="#1ca9df" d="M163.5 153 167.8 150.9 171.1 151.7 166.8 153.7Z"/>
<path fill="#12b1d6" d="M171.1 151.7 175.4 149.6 178.6 150.4 174.3 152.4Z"/>
<path fill="#01b8ca" d="M178.6 150.4 182.9 148.4 186.2 149.2 181.9 151.2Z"/>
<path fill="#02bac3" d="M186.2 149.2 190.5 147.2 193.7 148.2 189.4 150.2Z"/>
<path fill="#19bfb6" d="M193.7 148.2 198 146.2 201.3 147.4 197 149.5Z"/>
<path fill="#24c1ae" d="M201.3 147.4 205.5 145.4 208.8 146.9 204.5 149.1Z"/>
<path fill="#2cc4a7" d="M208.8 146.9 213.1 144.8 216.3 146.8 212.1 149Z"/>
<path fill="#2cc4a7" d="M216.3 146.8 220.6 144.6 223.9 146.9 219.6 149.2Z"/>
<path fill="#2cc4a7" d="M223.9 146.9 228.2 144.6 231.4 147.1 227.1 149.5Z"/>
<path fill="#24c1ae" d="M231.4 147.1 235.7 144.8 239 147.5 234.7 149.9Z"/>
<path fill="#24c1ae" d="M239 147.5 243.3 145.1 246.5 147.9 242.2 150.4Z"/>
<path fill="#19bfb6" d="M246.5 147.9 250.8 145.5 254.1 148.4 249.8 150.9Z"/>
<path fill="#19bfb6" d="M254.1 148.4 258.3 146 261.6 148.9 257.3 151.4Z"/>
<path fill="#0bbdbd" d="M261.6 148.9 265.9 146.4 269.1 149.4 264.9 151.9Z"/>
<path fill="#02bac3" d="M269.1 149.4 273.4 146.9 276.7 149.9 272.4 152.4Z"/>
<path fill="#02bac3" d="M276.7 149.9 281 147.4 284.2 150.3 279.9 152.8Z"/>
<path fill="#01b8ca" d="M284.2 150.3 288.5 147.8 291.8 150.5 287.5 153Z"/>
<path fill="#fec934" d="M31 133.6 35.3 130.4 38.6 138.6 34.3 142.5Z"/>
<path fill="#d1bf27" d="M38.6 138.6 42.8 135.5 46.1 144.9 41.8 148.3Z"/>
<path fill="#57cc7a" d="M46.1 144.9 50.4 141.9 53.6 151.5 49.4 154.8Z"/>
<path fill="#02bac3" d="M53.6 151.5 57.9 148.5 61.2 157 56.9 160.3Z"/>
<path fill="#259be8" d="M61.2 157 65.5 153.9 68.7 160.7 64.4 164.1Z"/>
<path fill="#2f81fa" d="M68.7 160.7 73 157.4 76.3 162.8 72 166.2Z"/>
<path fill="#3e6fff" d="M76.3 162.8 80.6 159.5 83.8 163.7 79.5 167Z"/>
<path fill="#4269fe" d="M83.8 163.7 88.1 160.4 91.4 163.9 87.1 167.1Z"/>
<path fill="#4269fe" d="M91.4 163.9 95.6 160.8 98.9 163.7 94.6 166.8Z"/>
<path fill="#4269fe" d="M98.9 163.7 103.2 160.7 106.4 163.2 102.2 166.1Z"/>
<path fill="#3e6fff" d="M106.4 163.2 110.7 160.3 114 162.4 109.7 165.2Z"/>
<path fill="#3875fe" d="M114 162.4 118.3 159.7 121.5 161.5 117.2 164.1Z"/>
<path fill="#327cfc" d="M121.5 161.5 125.8 158.9 129.1 160.4 124.8 162.9Z"/>
<path fill="#2e87f7" d="M129.1 160.4 133.4 158 136.6 159.2 132.3 161.5Z"/>
<path fill="#2d8cf3" d="M136.6 159.2 140.9 156.9 144.2 157.9 139.9 160.1Z"/>
<path fill="#2797eb" d="M144.2 157.9 148.4 155.6 151.7 156.5 147.4 158.6Z"/>
<path fill="#23a0e5" d="M151.7 156.5 156 154.3 159.2 155.1 155 157.1Z"/>
<path fill="#1ca9df" d="M159.2 155.1 163.5 153 166.8 153.7 162.5 155.7Z"/>
<path fill="#12b1d6" d="M166.8 153.7 171.1 151.7 174.3 152.4 170.1 154.4Z"/>
<path fill="#01b8ca" d="M174.3 152.4 178.6 150.4 181.9 151.2 177.6 153.2Z"/>
<path fill="#0bbdbd" d="M181.9 151.2 186.2 149.2 189.4 150.2 185.1 152.2Z"/>
<path fill="#19bfb6" d="M189.4 150.2 193.7 148.2 197 149.5 192.7 151.6Z"/>
<path fill="#24c1ae" d="M197 149.5 201.3 147.4 204.5 149.1 200.2 151.2Z"/>
<path fill="#2cc4a7" d="M204.5 149.1 208.8 146.9 212.1 149 207.8 151.2Z"/>
<path fill="#2cc4a7" d="M212.1 149 216.3 146.8 219.6 149.2 215.3 151.5Z"/>
<path fill="#2cc4a7" d="M219.6 149.2 223.9 146.9 227.1 149.5 222.9 151.8Z"/>
<path fill="#24c1ae" d="M227.1 149.5 231.4 147.1 234.7 149.9 230.4 152.3Z"/>
<path fill="#24c1ae" d="M234.7 149.9 239 147.5 242.2 150.4 237.9 152.8Z"/>
<path fill="#19bfb6" d="M242.2 150.4 246.5 147.9 249.8 150.9 245.5 153.4Z"/>
<path fill="#0bbdbd" d="M249.8 150.9 254.1 148.4 257.3 151.4 253 153.9Z"/>
<path fill="#0bbdbd" d="M257.3 151.4 261.6 148.9 264.9 151.9 260.6 154.5Z"/>
<path fill="#02bac3" d="M264.9 151.9 269.1 149.4 272.4 152.4 268.1 154.9Z"/>
<path fill="#01b8ca" d="M272.4 152.4 276.7 149.9 279.9 152.8 275.7 155.3Z"/>
<path fill="#01b8ca" d="M279.9 152.8 284.2 150.3 287.5 153 283.2 155.5Z"/>
<path fill="#01b8ca" d="M287.5 153 291.8 150.5 295 153.1 290.7 155.6Z"/>
<path fill="#b9c431" d="M34.3 142.5 38.6 138.6 41.8 148.3 37.5 152.4Z"/>
<path fill="#4acb84" d="M41.8 148.3 46.1 144.9 49.4 154.8 45.1 158.4Z"/>
<path fill="#01b8ca" d="M49.4 154.8 53.6 151.5 56.9 160.3 52.6 163.9Z"/>
<path fill="#2797eb" d="M56.9 160.3 61.2 157 64.4 164.1 60.2 167.6Z"/>
<path fill="#327cfc" d="M64.4 164.1 68.7 160.7 72 166.2 67.7 169.7Z"/>
<path fill="#4269fe" d="M72 166.2 76.3 162.8 79.5 167 75.2 170.4Z"/>
<path fill="#4563fd" d="M79.5 167 83.8 163.7 87.1 167.1 82.8 170.4Z"/>
<path fill="#465efb" d="M87.1 167.1 91.4 163.9 94.6 166.8 90.3 169.9Z"/>
<path fill="#4563fd" d="M94.6 166.8 98.9 163.7 102.2 166.1 97.9 169Z"/>
<path fill="#4269fe" d="M102.2 166.1 106.4 163.2 109.7 165.2 105.4 167.9Z"/>
<path fill="#3e6fff" d="M109.7 165.2 114 162.4 117.2 164.1 113 166.7Z"/>
<path fill="#327cfc" d="M117.2 164.1 121.5 161.5 124.8 162.9 120.5 165.3Z"/>
<path fill="#2f81fa" d="M124.8 162.9 129.1 160.4 132.3 161.5 128 163.8Z"/>
<path fill="#2d8cf3" d="M132.3 161.5 136.6 159.2 139.9 160.1 135.6 162.2Z"/>
<path fill="#2797eb" d="M139.9 160.1 144.2 157.9 147.4 158.6 143.1 160.7Z"/>
<path fill="#20a5e3" d="M147.4 158.6 151.7 156.5 155 157.1 150.7 159.1Z"/>
<path fill="#18addb" d="M155 157.1 159.2 155.1 162.5 155.7 158.2 157.6Z"/>
<path fill="#08b5d0" d="M162.5 155.7 166.8 153.7 170.1 154.4 165.8 156.3Z"/>
<path fill="#02bac3" d="M170.1 154.4 174.3 152.4 177.6 153.2 173.3 155.1Z"/>
<path fill="#0bbdbd" d="M177.6 153.2 181.9 151.2 185.1 152.2 180.9 154.2Z"/>
<path fill="#24c1ae" d="M185.1 152.2 189.4 150.2 192.7 151.6 188.4 153.6Z"/>
<path fill="#2cc4a7" d="M192.7 151.6 197 149.5 200.2 151.2 195.9 153.4Z"/>
<path fill="#2cc4a7" d="M200.2 151.2 204.5 149.1 207.8 151.2 203.5 153.5Z"/>
<path fill="#2cc4a7" d="M207.8 151.2 212.1 149 215.3 151.5 211 153.8Z"/>
<path fill="#2cc4a7" d="M215.3 151.5 219.6 149.2 222.9 151.8 218.6 154.2Z"/>
<path fill="#24c1ae" d="M222.9 151.8 227.1 149.5 230.4 152.3 226.1 154.7Z"/>
<path fill="#24c1ae" d="M230.4 152.3 234.7 149.9 237.9 152.8 233.7 155.3Z"/>
<path fill="#19bfb6" d="M237.9 152.8 242.2 150.4 245.5 153.4 241.2 155.9Z"/>
<path fill="#0bbdbd" d="M245.5 153.4 249.8 150.9 253 153.9 248.7 156.5Z"/>
<path fill="#02bac3" d="M253 153.9 257.3 151.4 260.6 154.5 256.3 157Z"/>
<path fill="#02bac3" d="M260.6 154.5 264.9 151.9 268.1 154.9 263.8 157.5Z"/>
<path fill="#01b8ca" d="M268.1 154.9 272.4 152.4 275.7 155.3 271.4 157.8Z"/>
<path fill="#01b8ca" d="M275.7 155.3 279.9 152.8 283.2 155.5 278.9 158Z"/>
<path fill="#08b5d0" d="M283.2 155.5 287.5 153 290.7 155.6 286.5 158.1Z"/>
<path fill="#08b5d0" d="M290.7 155.6 295 153.1 298.3 155.6 294 158Z"/>
<path fill="#31c69f" d="M37.5 152.4 41.8 148.3 45.1 158.4 40.8 162.5Z"/>
<path fill="#12b1d6" d="M45.1 158.4 49.4 154.8 52.6 163.9 48.3 167.7Z"/>
<path fill="#2d8cf3" d="M52.6 163.9 56.9 160.3 60.2 167.6 55.9 171.3Z"/>
<path fill="#3e6fff" d="M60.2 167.6 64.4 164.1 67.7 169.7 63.4 173.3Z"/>
<path fill="#465efb" d="M67.7 169.7 72 166.2 75.2 170.4 71 174Z"/>
<path fill="#4758f8" d="M75.2 170.4 79.5 167 82.8 170.4 78.5 173.8Z"/>
<path fill="#4758f8" d="M82.8 170.4 87.1 167.1 90.3 169.9 86 173Z"/>
<path fill="#465efb" d="M90.3 169.9 94.6 166.8 97.9 169 93.6 172Z"/>
<path fill="#4563fd" d="M97.9 169 102.2 166.1 105.4 167.9 101.1 170.7Z"/>
<path fill="#3e6fff" d="M105.4 167.9 109.7 165.2 113 166.7 108.7 169.2Z"/>
<path fill="#3875fe" d="M113 166.7 117.2 164.1 120.5 165.3 116.2 167.7Z"/>
<path fill="#2f81fa" d="M120.5 165.3 124.8 162.9 128 163.8 123.8 166Z"/>
<path fill="#2d8cf3" d="M128 163.8 132.3 161.5 135.6 162.2 131.3 164.3Z"/>
<path fill="#259be8" d="M135.6 162.2 139.9 160.1 143.1 160.7 138.8 162.7Z"/>
<path fill="#20a5e3" d="M143.1 160.7 147.4 158.6 150.7 159.1 146.4 161.1Z"/>
<path fill="#18addb" d="M150.7 159.1 155 157.1 158.2 157.6 153.9 159.6Z"/>
<path fill="#08b5d0" d="M158.2 157.6 162.5 155.7 165.8 156.3 161.5 158.2Z"/>
<path fill="#02bac3" d="M165.8 156.3 170.1 154.4 173.3 155.1 169 157.1Z"/>
<path fill="#19bfb6" d="M173.3 155.1 177.6 153.2 180.9 154.2 176.6 156.2Z"/>
<path fill="#24c1ae" d="M180.9 154.2 185.1 152.2 188.4 153.6 184.1 155.7Z"/>
<path fill="#2cc4a7" d="M188.4 153.6 192.7 151.6 195.9 153.4 191.7 155.6Z"/>
<path fill="#2cc4a7" d="M195.9 153.4 200.2 151.2 203.5 153.5 199.2 155.8Z"/>
<path fill="#2cc4a7" d="M203.5 153.5 207.8 151.2 211 153.8 206.7 156.2Z"/>
<path fill="#2cc4a7" d="M211 153.8 215.3 151.5 218.6 154.2 214.3 156.6Z"/>
<path fill="#24c1ae" d="M218.6 154.2 222.9 151.8 226.1 154.7 221.8 157.2Z"/>
<path fill="#24c1ae" d="M226.1 154.7 230.4 152.3 233.7 155.3 229.4 157.8Z"/>
<path fill="#19bfb6" d="M233.7 155.3 237.9 152.8 241.2 155.9 236.9 158.4Z"/>
<path fill="#0bbdbd" d="M241.2 155.9 245.5 153.4 248.7 156.5 244.5 159Z"/>
<path fill="#02bac3" d="M248.7 156.5 253 153.9 256.3 157 252 159.6Z"/>
<path fill="#01b8ca" d="M256.3 157 260.6 154.5 263.8 157.5 259.5 160Z"/>
<path fill="#01b8ca" d="M263.8 157.5 268.1 154.9 271.4 157.8 267.1 160.3Z"/>
<path fill="#08b5d0" d="M271.4 157.8 275.7 155.3 278.9 158 274.6 160.5Z"/>
<path fill="#08b5d0" d="M278.9 158 283.2 155.5 286.5 158.1 282.2 160.5Z"/>
<path fill="#08b5d0" d="M286.5 158.1 290.7 155.6 294 158 289.7 160.4Z"/>
<path fill="#08b5d0" d="M294 158 298.3 155.6 301.5 157.8 297.3 160.2Z"/>
<path fill="#20a5e3" d="M40.8 162.5 45.1 158.4 48.3 167.7 44 171.8Z"/>
<path fill="#2f81fa" d="M48.3 167.7 52.6 163.9 55.9 171.3 51.6 175.2Z"/>
<path fill="#4563fd" d="M55.9 171.3 60.2 167.6 63.4 173.3 59.1 177.1Z"/>
<path fill="#4852f4" d="M63.4 173.3 67.7 169.7 71 174 66.7 177.6Z"/>
<path fill="#484df0" d="M71 174 75.2 170.4 78.5 173.8 74.2 177.2Z"/>
<path fill="#4852f4" d="M78.5 173.8 82.8 170.4 86 173 81.8 176.2Z"/>
<path fill="#4758f8" d="M86 173 90.3 169.9 93.6 172 89.3 174.9Z"/>
<path fill="#465efb" d="M93.6 172 97.9 169 101.1 170.7 96.8 173.4Z"/>
<path fill="#4269fe" d="M101.1 170.7 105.4 167.9 108.7 169.2 104.4 171.8Z"/>
<path fill="#3875fe" d="M108.7 169.2 113 166.7 116.2 167.7 111.9 170Z"/>
<path fill="#2f81fa" d="M116.2 167.7 120.5 165.3 123.8 166 119.5 168.2Z"/>
<path fill="#2b91ef" d="M123.8 166 128 163.8 131.3 164.3 127 166.4Z"/>
<path fill="#259be8" d="M131.3 164.3 135.6 162.2 138.8 162.7 134.6 164.7Z"/>
<path fill="#20a5e3" d="M138.8 162.7 143.1 160.7 146.4 161.1 142.1 163Z"/>
<path fill="#12b1d6" d="M146.4 161.1 150.7 159.1 153.9 159.6 149.6 161.5Z"/>
<path fill="#01b8ca" d="M153.9 159.6 158.2 157.6 161.5 158.2 157.2 160.1Z"/>
<path fill="#0bbdbd" d="M161.5 158.2 165.8 156.3 169 157.1 164.7 159Z"/>
<path fill="#19bfb6" d="M169 157.1 173.3 155.1 176.6 156.2 172.3 158.3Z"/>
<path fill="#24c1ae" d="M176.6 156.2 180.9 154.2 184.1 155.7 179.8 157.9Z"/>
<path fill="#2cc4a7" d="M184.1 155.7 188.4 153.6 191.7 155.6 187.4 157.8Z"/>
<path fill="#2cc4a7" d="M191.7 155.6 195.9 153.4 199.2 155.8 194.9 158.1Z"/>
<path fill="#2cc4a7" d="M199.2 155.8 203.5 153.5 206.7 156.2 202.5 158.5Z"/>
<path fill="#2cc4a7" d="M206.7 156.2 211 153.8 214.3 156.6 210 159Z"/>
<path fill="#24c1ae" d="M214.3 156.6 218.6 154.2 221.8 157.2 217.5 159.6Z"/>
<path fill="#19bfb6" d="M221.8 157.2 226.1 154.7 229.4 157.8 225.1 160.3Z"/>
<path fill="#19bfb6" d="M229.4 157.8 233.7 155.3 236.9 158.4 232.6 160.9Z"/>
<path fill="#0bbdbd" d="M236.9 158.4 241.2 155.9 244.5 159 240.2 161.6Z"/>
<path fill="#02bac3" d="M244.5 159 248.7 156.5 252 159.6 247.7 162.1Z"/>
<path fill="#01b8ca" d="M252 159.6 256.3 157 259.5 160 255.3 162.5Z"/>
<path fill="#01b8ca" d="M259.5 160 263.8 157.5 267.1 160.3 262.8 162.8Z"/>
<path fill="#08b5d0" d="M267.1 160.3 271.4 157.8 274.6 160.5 270.3 162.9Z"/>
<path fill="#08b5d0" d="M274.6 160.5 278.9 158 282.2 160.5 277.9 162.9Z"/>
<path fill="#08b5d0" d="M282.2 160.5 286.5 158.1 289.7 160.4 285.4 162.8Z"/>
<path fill="#08b5d0" d="M289.7 160.4 294 158 297.3 160.2 293 162.6Z"/>
<path fill="#08b5d0" d="M297.3 160.2 301.5 157.8 304.8 159.9 300.5 162.2Z"/>
<path fill="#3e6fff" d="M44 171.8 48.3 167.7 51.6 175.2 47.3 179.4Z"/>
<path fill="#4758f8" d="M51.6 175.2 55.9 171.3 59.1 177.1 54.8 181Z"/>
<path fill="#4747eb" d="M59.1 177.1 63.4 173.3 66.7 177.6 62.4 181.3Z"/>
<path fill="#4741e5" d="M66.7 177.6 71 174 74.2 177.2 69.9 180.7Z"/>
<path fill="#4747eb" d="M74.2 177.2 78.5 173.8 81.8 176.2 77.5 179.5Z"/>
<path fill="#484df0" d="M81.8 176.2 86 173 89.3 174.9 85 177.9Z"/>
<path fill="#4758f8" d="M89.3 174.9 93.6 172 96.8 173.4 92.6 176.1Z"/>
<path fill="#4563fd" d="M96.8 173.4 101.1 170.7 104.4 171.8 100.1 174.3Z"/>
<path fill="#3875fe" d="M104.4 171.8 108.7 169.2 111.9 170 107.6 172.3Z"/>
<path fill="#2f81fa" d="M111.9 170 116.2 167.7 119.5 168.2 115.2 170.4Z"/>
<path fill="#2b91ef" d="M119.5 168.2 123.8 166 127 166.4 122.7 168.5Z"/>
<path fill="#259be8" d="M127 166.4 131.3 164.3 134.6 164.7 130.3 166.6Z"/>
<path fill="#1ca9df" d="M134.6 164.7 138.8 162.7 142.1 163 137.8 164.9Z"/>
<path fill="#12b1d6" d="M142.1 163 146.4 161.1 149.6 161.5 145.4 163.4Z"/>
<path fill="#01b8ca" d="M149.6 161.5 153.9 159.6 157.2 160.1 152.9 162Z"/>
<path fill="#0bbdbd" d="M157.2 160.1 161.5 158.2 164.7 159 160.5 161Z"/>
<path fill="#24c1ae" d="M164.7 159 169 157.1 172.3 158.3 168 160.3Z"/>
<path fill="#2cc4a7" d="M172.3 158.3 176.6 156.2 179.8 157.9 175.5 160Z"/>
<path fill="#2cc4a7" d="M179.8 157.9 184.1 155.7 187.4 157.8 183.1 160.1Z"/>
<path fill="#31c69f" d="M187.4 157.8 191.7 155.6 194.9 158.1 190.6 160.4Z"/>
<path fill="#2cc4a7" d="M194.9 158.1 199.2 155.8 202.5 158.5 198.2 160.9Z"/>
<path fill="#2cc4a7" d="M202.5 158.5 206.7 156.2 210 159 205.7 161.5Z"/>
<path fill="#24c1ae" d="M210 159 214.3 156.6 217.5 159.6 213.3 162.1Z"/>
<path fill="#19bfb6" d="M217.5 159.6 221.8 157.2 225.1 160.3 220.8 162.8Z"/>
<path fill="#0bbdbd" d="M225.1 160.3 229.4 157.8 232.6 160.9 228.3 163.5Z"/>
<path fill="#02bac3" d="M232.6 160.9 236.9 158.4 240.2 161.6 235.9 164.1Z"/>
<path fill="#02bac3" d="M240.2 161.6 244.5 159 247.7 162.1 243.4 164.6Z"/>
<path fill="#01b8ca" d="M247.7 162.1 252 159.6 255.3 162.5 251 165Z"/>
<path fill="#08b5d0" d="M255.3 162.5 259.5 160 262.8 162.8 258.5 165.3Z"/>
<path fill="#08b5d0" d="M262.8 162.8 267.1 160.3 270.3 162.9 266.1 165.4Z"/>
<path fill="#08b5d0" d="M270.3 162.9 274.6 160.5 277.9 162.9 273.6 165.3Z"/>
<path fill="#08b5d0" d="M277.9 162.9 282.2 160.5 285.4 162.8 281.1 165.2Z"/>
<path fill="#08b5d0" d="M285.4 162.8 289.7 160.4 293 162.6 288.7 164.9Z"/>
<path fill="#08b5d0" d="M293 162.6 297.3 160.2 300.5 162.2 296.2 164.6Z"/>
<path fill="#4747eb" d="M47.3 179.4 51.6 175.2 54.8 181 50.6 185.1Z"/>
<path fill="#463cde" d="M54.8 181 59.1 177.1 62.4 181.3 58.1 185.2Z"/>
<path fill="#4537d5" d="M62.4 181.3 66.7 177.6 69.9 180.7 65.6 184.3Z"/>
<path fill="#463cde" d="M69.9 180.7 74.2 177.2 77.5 179.5 73.2 182.7Z"/>
<path fill="#4747eb" d="M77.5 179.5 81.8 176.2 85 177.9 80.7 180.9Z"/>
<path fill="#4852f4" d="M85 177.9 89.3 174.9 92.6 176.1 88.3 178.9Z"/>
<path fill="#4563fd" d="M92.6 176.1 96.8 173.4 100.1 174.3 95.8 176.7Z"/>
<path fill="#3e6fff" d="M100.1 174.3 104.4 171.8 107.6 172.3 103.4 174.6Z"/>
<path fill="#2f81fa" d="M107.6 172.3 111.9 170 115.2 170.4 110.9 172.5Z"/>
<path fill="#2b91ef" d="M115.2 170.4 119.5 168.2 122.7 168.5 118.4 170.4Z"/>
<path fill="#23a0e5" d="M122.7 168.5 127 166.4 130.3 166.6 126 168.5Z"/>
<path fill="#1ca9df" d="M130.3 166.6 134.6 164.7 137.8 164.9 133.5 166.8Z"/>
<path fill="#08b5d0" d="M137.8 164.9 142.1 163 145.4 163.4 141.1 165.2Z"/>
<path fill="#02bac3" d="M145.4 163.4 149.6 161.5 152.9 162 148.6 163.9Z"/>
<path fill="#19bfb6" d="M152.9 162 157.2 160.1 160.5 161 156.2 162.9Z"/>
<path fill="#24c1ae" d="M160.5 161 164.7 159 168 160.3 163.7 162.3Z"/>
<path fill="#2cc4a7" d="M168 160.3 172.3 158.3 175.5 160 171.3 162.2Z"/>
<path fill="#31c69f" d="M175.5 160 179.8 157.9 183.1 160.1 178.8 162.4Z"/>
<path fill="#31c69f" d="M183.1 160.1 187.4 157.8 190.6 160.4 186.3 162.8Z"/>
<path fill="#2cc4a7" d="M190.6 160.4 194.9 158.1 198.2 160.9 193.9 163.3Z"/>
<path fill="#24c1ae" d="M198.2 160.9 202.5 158.5 205.7 161.5 201.4 164Z"/>
<path fill="#24c1ae" d="M205.7 161.5 210 159 213.3 162.1 209 164.6Z"/>
<path fill="#19bfb6" d="M213.3 162.1 217.5 159.6 220.8 162.8 216.5 165.3Z"/>
<path fill="#0bbdbd" d="M220.8 162.8 225.1 160.3 228.3 163.5 224.1 166Z"/>
<path fill="#02bac3" d="M228.3 163.5 232.6 160.9 235.9 164.1 231.6 166.7Z"/>
<path fill="#01b8ca" d="M235.9 164.1 240.2 161.6 243.4 164.6 239.1 167.2Z"/>
<path fill="#08b5d0" d="M243.4 164.6 247.7 162.1 251 165 246.7 167.5Z"/>
<path fill="#08b5d0" d="M251 165 255.3 162.5 258.5 165.3 254.2 167.8Z"/>
<path fill="#08b5d0" d="M258.5 165.3 262.8 162.8 266.1 165.4 261.8 167.8Z"/>
<path fill="#12b1d6" d="M266.1 165.4 270.3 162.9 273.6 165.3 269.3 167.7Z"/>
<path fill="#08b5d0" d="M273.6 165.3 277.9 162.9 281.1 165.2 276.9 167.6Z"/>
<path fill="#08b5d0" d="M281.1 165.2 285.4 162.8 288.7 164.9 284.4 167.2Z"/>
<path fill="#08b5d0" d="M288.7 164.9 293 162.6 296.2 164.6 291.9 166.8Z"/>
<path fill="#422ec0" d="M50.6 185.1 54.8 181 58.1 185.2 53.8 189.2Z"/>
<path fill="#422ec0" d="M58.1 185.2 62.4 181.3 65.6 184.3 61.4 187.9Z"/>
<path fill="#4537d5" d="M65.6 184.3 69.9 180.7 73.2 182.7 68.9 186.1Z"/>
<path fill="#4741e5" d="M73.2 182.7 77.5 179.5 80.7 180.9 76.4 183.9Z"/>
<path fill="#484df0" d="M80.7 180.9 85 177.9 88.3 178.9 84 181.6Z"/>
<path fill="#465efb" d="M88.3 178.9 92.6 176.1 95.8 176.7 91.5 179.2Z"/>
<path fill="#3e6fff" d="M95.8 176.7 100.1 174.3 103.4 174.6 99.1 176.8Z"/>
<path fill="#2f81fa" d="M103.4 174.6 107.6 172.3 110.9 172.5 106.6 174.5Z"/>
<path fill="#2b91ef" d="M110.9 172.5 115.2 170.4 118.4 170.4 114.2 172.4Z"/>
<path fill="#23a0e5" d="M118.4 170.4 122.7 168.5 126 168.5 121.7 170.4Z"/>
<path fill="#18addb" d="M126 168.5 130.3 166.6 133.5 166.8 129.2 168.6Z"/>
<path fill="#08b5d0" d="M133.5 166.8 137.8 164.9 141.1 165.2 136.8 167Z"/>
<path fill="#0bbdbd" d="M141.1 165.2 145.4 163.4 148.6 163.9 144.3 165.8Z"/>
<path fill="#19bfb6" d="M148.6 163.9 152.9 162 156.2 162.9 151.9 164.9Z"/>
<path fill="#2cc4a7" d="M156.2 162.9 160.5 161 163.7 162.3 159.4 164.4Z"/>
<path fill="#31c69f" d="M163.7 162.3 168 160.3 171.3 162.2 167 164.4Z"/>
<path fill="#31c69f" d="M171.3 162.2 175.5 160 178.8 162.4 174.5 164.7Z"/>
<path fill="#31c69f" d="M178.8 162.4 183.1 160.1 186.3 162.8 182.1 165.2Z"/>
<path fill="#2cc4a7" d="M186.3 162.8 190.6 160.4 193.9 163.3 189.6 165.8Z"/>
<path fill="#24c1ae" d="M193.9 163.3 198.2 160.9 201.4 164 197.1 166.4Z"/>
<path fill="#19bfb6" d="M201.4 164 205.7 161.5 209 164.6 204.7 167.2Z"/>
<path fill="#19bfb6" d="M209 164.6 213.3 162.1 216.5 165.3 212.2 167.9Z"/>
<path fill="#0bbdbd" d="M216.5 165.3 220.8 162.8 224.1 166 219.8 168.6Z"/>
<path fill="#02bac3" d="M224.1 166 228.3 163.5 231.6 166.7 227.3 169.2Z"/>
<path fill="#01b8ca" d="M231.6 166.7 235.9 164.1 239.1 167.2 234.9 169.7Z"/>
<path fill="#08b5d0" d="M239.1 167.2 243.4 164.6 246.7 167.5 242.4 170Z"/>
<path fill="#08b5d0" d="M246.7 167.5 251 165 254.2 167.8 249.9 170.2Z"/>
<path fill="#12b1d6" d="M254.2 167.8 258.5 165.3 261.8 167.8 257.5 170.2Z"/>
<path fill="#12b1d6" d="M261.8 167.8 266.1 165.4 269.3 167.7 265 170.1Z"/>
<path fill="#12b1d6" d="M269.3 167.7 273.6 165.3 276.9 167.6 272.6 169.9Z"/>
<path fill="#08b5d0" d="M276.9 167.6 281.1 165.2 284.4 167.2 280.1 169.6Z"/>
<path fill="#08b5d0" d="M284.4 167.2 288.7 164.9 291.9 166.8 287.7 169.1Z"/>
<path fill="#3e26a8" d="M53.8 189.2 58.1 185.2 61.4 187.9 57.1 191.7Z"/>
<path fill="#422ec0" d="M61.4 187.9 65.6 184.3 68.9 186.1 64.6 189.5Z"/>
<path fill="#4537d5" d="M68.9 186.1 73.2 182.7 76.4 183.9 72.2 187Z"/>
<path fill="#4747eb" d="M76.4 183.9 80.7 180.9 84 181.6 79.7 184.3Z"/>
<path fill="#465efb" d="M84 181.6 88.3 178.9 91.5 179.2 87.2 181.6Z"/>
<path fill="#3e6fff" d="M91.5 179.2 95.8 176.7 99.1 176.8 94.8 179Z"/>
<path fill="#2f81fa" d="M99.1 176.8 103.4 174.6 106.6 174.5 102.3 176.6Z"/>
<path fill="#2797eb" d="M106.6 174.5 110.9 172.5 114.2 172.4 109.9 174.3Z"/>
<path fill="#20a5e3" d="M114.2 172.4 118.4 170.4 121.7 170.4 117.4 172.2Z"/>
<path fill="#18addb" d="M121.7 170.4 126 168.5 129.2 168.6 125 170.4Z"/>
<path fill="#01b8ca" d="M129.2 168.6 133.5 166.8 136.8 167 132.5 168.9Z"/>
<path fill="#0bbdbd" d="M136.8 167 141.1 165.2 144.3 165.8 140.1 167.7Z"/>
<path fill="#24c1ae" d="M144.3 165.8 148.6 163.9 151.9 164.9 147.6 166.9Z"/>
<path fill="#2cc4a7" d="M151.9 164.9 156.2 162.9 159.4 164.4 155.1 166.5Z"/>
<path fill="#31c69f" d="M159.4 164.4 163.7 162.3 167 164.4 162.7 166.6Z"/>
<path fill="#31c69f" d="M167 164.4 171.3 162.2 174.5 164.7 170.2 167Z"/>
<path fill="#31c69f" d="M174.5 164.7 178.8 162.4 182.1 165.2 177.8 167.6Z"/>
<path fill="#2cc4a7" d="M182.1 165.2 186.3 162.8 189.6 165.8 185.3 168.2Z"/>
<path fill="#24c1ae" d="M189.6 165.8 193.9 163.3 197.1 166.4 192.9 168.9Z"/>
<path fill="#19bfb6" d="M197.1 166.4 201.4 164 204.7 167.2 200.4 169.7Z"/>
<path fill="#0bbdbd" d="M204.7 167.2 209 164.6 212.2 167.9 207.9 170.5Z"/>
<path fill="#02bac3" d="M212.2 167.9 216.5 165.3 219.8 168.6 215.5 171.2Z"/>
<path fill="#01b8ca" d="M219.8 168.6 224.1 166 227.3 169.2 223 171.8Z"/>
<path fill="#08b5d0" d="M227.3 169.2 231.6 166.7 234.9 169.7 230.6 172.2Z"/>
<path fill="#08b5d0" d="M234.9 169.7 239.1 167.2 242.4 170 238.1 172.5Z"/>
<path fill="#12b1d6" d="M242.4 170 246.7 167.5 249.9 170.2 245.7 172.7Z"/>
<path fill="#12b1d6" d="M249.9 170.2 254.2 167.8 257.5 170.2 253.2 172.7Z"/>
<path fill="#12b1d6" d="M257.5 170.2 261.8 167.8 265 170.1 260.7 172.5Z"/>
<path fill="#12b1d6" d="M265 170.1 269.3 167.7 272.6 169.9 268.3 172.2Z"/>
<path fill="#08b5d0" d="M272.6 169.9 276.9 167.6 280.1 169.6 275.8 171.8Z"/>
<path fill="#08b5d0" d="M280.1 169.6 284.4 167.2 287.7 169.1 283.4 171.4Z"/>
<path fill="#3e26a8" d="M57.1 191.7 61.4 187.9 64.6 189.5 60.3 193Z"/>
<path fill="#4332cb" d="M64.6 189.5 68.9 186.1 72.2 187 67.9 190Z"/>
<path fill="#4741e5" d="M72.2 187 76.4 183.9 79.7 184.3 75.4 187Z"/>
<path fill="#4758f8" d="M79.7 184.3 84 181.6 87.2 181.6 83 184Z"/>
<path fill="#3e6fff" d="M87.2 181.6 91.5 179.2 94.8 179 90.5 181.2Z"/>
<path fill="#2f81fa" d="M94.8 179 99.1 176.8 102.3 176.6 98 178.5Z"/>
<path fill="#2797eb" d="M102.3 176.6 106.6 174.5 109.9 174.3 105.6 176.1Z"/>
<path fill="#20a5e3" d="M109.9 174.3 114.2 172.4 117.4 172.2 113.1 174Z"/>
<path fill="#12b1d6" d="M117.4 172.2 121.7 170.4 125 170.4 120.7 172.2Z"/>
<path fill="#02bac3" d="M125 170.4 129.2 168.6 132.5 168.9 128.2 170.7Z"/>
<path fill="#19bfb6" d="M132.5 168.9 136.8 167 140.1 167.7 135.8 169.5Z"/>
<path fill="#2cc4a7" d="M140.1 167.7 144.3 165.8 147.6 166.9 143.3 168.9Z"/>
<path fill="#31c69f" d="M147.6 166.9 151.9 164.9 155.1 166.5 150.9 168.7Z"/>
<path fill="#31c69f" d="M155.1 166.5 159.4 164.4 162.7 166.6 158.4 168.9Z"/>
<path fill="#31c69f" d="M162.7 166.6 167 164.4 170.2 167 165.9 169.4Z"/>
<path fill="#31c69f" d="M170.2 167 174.5 164.7 177.8 167.6 173.5 170Z"/>
<path fill="#2cc4a7" d="M177.8 167.6 182.1 165.2 185.3 168.2 181 170.7Z"/>
<path fill="#24c1ae" d="M185.3 168.2 189.6 165.8 192.9 168.9 188.6 171.5Z"/>
<path fill="#19bfb6" d="M192.9 168.9 197.1 166.4 200.4 169.7 196.1 172.2Z"/>
<path fill="#0bbdbd" d="M200.4 169.7 204.7 167.2 207.9 170.5 203.7 173Z"/>
<path fill="#02bac3" d="M207.9 170.5 212.2 167.9 215.5 171.2 211.2 173.7Z"/>
<path fill="#01b8ca" d="M215.5 171.2 219.8 168.6 223 171.8 218.7 174.3Z"/>
<path fill="#08b5d0" d="M223 171.8 227.3 169.2 230.6 172.2 226.3 174.8Z"/>
<path fill="#12b1d6" d="M230.6 172.2 234.9 169.7 238.1 172.5 233.8 175Z"/>
<path fill="#12b1d6" d="M238.1 172.5 242.4 170 245.7 172.7 241.4 175.1Z"/>
<path fill="#12b1d6" d="M245.7 172.7 249.9 170.2 253.2 172.7 248.9 175.1Z"/>
<path fill="#12b1d6" d="M253.2 172.7 257.5 170.2 260.7 172.5 256.5 174.9Z"/>
<path fill="#12b1d6" d="M260.7 172.5 265 170.1 268.3 172.2 264 174.5Z"/>
<path fill="#08b5d0" d="M268.3 172.2 272.6 169.9 275.8 171.8 271.5 174.1Z"/>
<path fill="#08b5d0" d="M275.8 171.8 280.1 169.6 283.4 171.4 279.1 173.6Z"/>
<path fill="#402ab4" d="M60.3 193 64.6 189.5 67.9 190 63.6 193.1Z"/>
<path fill="#463cde" d="M67.9 190 72.2 187 75.4 187 71.1 189.7Z"/>
<path fill="#4852f4" d="M75.4 187 79.7 184.3 83 184 78.7 186.3Z"/>
<path fill="#3e6fff" d="M83 184 87.2 181.6 90.5 181.2 86.2 183.2Z"/>
<path fill="#2e87f7" d="M90.5 181.2 94.8 179 98 178.5 93.8 180.4Z"/>
<path fill="#2797eb" d="M98 178.5 102.3 176.6 105.6 176.1 101.3 177.9Z"/>
<path fill="#1ca9df" d="M105.6 176.1 109.9 174.3 113.1 174 108.8 175.7Z"/>
<path fill="#08b5d0" d="M113.1 174 117.4 172.2 120.7 172.2 116.4 173.9Z"/>
<path fill="#02bac3" d="M120.7 172.2 125 170.4 128.2 170.7 123.9 172.4Z"/>
<path fill="#24c1ae" d="M128.2 170.7 132.5 168.9 135.8 169.5 131.5 171.4Z"/>
<path fill="#2cc4a7" d="M135.8 169.5 140.1 167.7 143.3 168.9 139 170.9Z"/>
<path fill="#31c69f" d="M143.3 168.9 147.6 166.9 150.9 168.7 146.6 170.9Z"/>
<path fill="#31c69f" d="M150.9 168.7 155.1 166.5 158.4 168.9 154.1 171.2Z"/>
<path fill="#31c69f" d="M158.4 168.9 162.7 166.6 165.9 169.4 161.7 171.7Z"/>
<path fill="#31c69f" d="M165.9 169.4 170.2 167 173.5 170 169.2 172.4Z"/>
<path fill="#2cc4a7" d="M173.5 170 177.8 167.6 181 170.7 176.7 173.2Z"/>
<path fill="#24c1ae" d="M181 170.7 185.3 168.2 188.6 171.5 184.3 174Z"/>
<path fill="#19bfb6" d="M188.6 171.5 192.9 168.9 196.1 172.2 191.8 174.8Z"/>
<path fill="#0bbdbd" d="M196.1 172.2 200.4 169.7 203.7 173 199.4 175.6Z"/>
<path fill="#02bac3" d="M203.7 173 207.9 170.5 211.2 173.7 206.9 176.3Z"/>
<path fill="#01b8ca" d="M211.2 173.7 215.5 171.2 218.7 174.3 214.5 176.9Z"/>
<path fill="#08b5d0" d="M218.7 174.3 223 171.8 226.3 174.8 222 177.3Z"/>
<path fill="#12b1d6" d="M226.3 174.8 230.6 172.2 233.8 175 229.5 177.5Z"/>
<path fill="#12b1d6" d="M233.8 175 238.1 172.5 241.4 175.1 237.1 177.5Z"/>
<path fill="#12b1d6" d="M241.4 175.1 245.7 172.7 248.9 175.1 244.6 177.4Z"/>
<path fill="#12b1d6" d="M248.9 175.1 253.2 172.7 256.5 174.9 252.2 177.2Z"/>
<path fill="#12b1d6" d="M256.5 174.9 260.7 172.5 264 174.5 259.7 176.8Z"/>
<path fill="#08b5d0" d="M264 174.5 268.3 172.2 271.5 174.1 267.3 176.4Z"/>
<path fill="#08b5d0" d="M271.5 174.1 275.8 171.8 279.1 173.6 274.8 175.8Z"/>
<path fill="#4537d5" d="M63.6 193.1 67.9 190 71.1 189.7 66.8 192.3Z"/>
<path fill="#4852f4" d="M71.1 189.7 75.4 187 78.7 186.3 74.4 188.6Z"/>
<path fill="#3e6fff" d="M78.7 186.3 83 184 86.2 183.2 81.9 185.3Z"/>
<path fill="#2e87f7" d="M86.2 183.2 90.5 181.2 93.8 180.4 89.5 182.3Z"/>
<path fill="#259be8" d="M93.8 180.4 98 178.5 101.3 177.9 97 179.6Z"/>
<path fill="#18addb" d="M101.3 177.9 105.6 176.1 108.8 175.7 104.6 177.4Z"/>
<path fill="#01b8ca" d="M108.8 175.7 113.1 174 116.4 173.9 112.1 175.6Z"/>
<path fill="#0bbdbd" d="M116.4 173.9 120.7 172.2 123.9 172.4 119.6 174.2Z"/>
<path fill="#24c1ae" d="M123.9 172.4 128.2 170.7 131.5 171.4 127.2 173.3Z"/>
<path fill="#31c69f" d="M131.5 171.4 135.8 169.5 139 170.9 134.7 172.9Z"/>
<path fill="#37c897" d="M139 170.9 143.3 168.9 146.6 170.9 142.3 173.1Z"/>
<path fill="#37c897" d="M146.6 170.9 150.9 168.7 154.1 171.2 149.8 173.5Z"/>
<path fill="#31c69f" d="M154.1 171.2 158.4 168.9 161.7 171.7 157.4 174.1Z"/>
<path fill="#2cc4a7" d="M161.7 171.7 165.9 169.4 169.2 172.4 164.9 174.9Z"/>
<path fill="#2cc4a7" d="M169.2 172.4 173.5 170 176.7 173.2 172.5 175.7Z"/>
<path fill="#19bfb6" d="M176.7 173.2 181 170.7 184.3 174 180 176.5Z"/>
<path fill="#0bbdbd" d="M184.3 174 188.6 171.5 191.8 174.8 187.5 177.4Z"/>
<path fill="#02bac3" d="M191.8 174.8 196.1 172.2 199.4 175.6 195.1 178.2Z"/>
<path fill="#01b8ca" d="M199.4 175.6 203.7 173 206.9 176.3 202.6 178.9Z"/>
<path fill="#08b5d0" d="M206.9 176.3 211.2 173.7 214.5 176.9 210.2 179.4Z"/>
<path fill="#12b1d6" d="M214.5 176.9 218.7 174.3 222 177.3 217.7 179.7Z"/>
<path fill="#12b1d6" d="M222 177.3 226.3 174.8 229.5 177.5 225.3 179.9Z"/>
<path fill="#12b1d6" d="M229.5 177.5 233.8 175 237.1 177.5 232.8 179.9Z"/>
<path fill="#12b1d6" d="M237.1 177.5 241.4 175.1 244.6 177.4 240.3 179.8Z"/>
<path fill="#12b1d6" d="M244.6 177.4 248.9 175.1 252.2 177.2 247.9 179.5Z"/>
<path fill="#12b1d6" d="M252.2 177.2 256.5 174.9 259.7 176.8 255.4 179.1Z"/>
<path fill="#08b5d0" d="M259.7 176.8 264 174.5 267.3 176.4 263 178.6Z"/>
<path fill="#08b5d0" d="M267.3 176.4 271.5 174.1 274.8 175.8 270.5 178Z"/>
<path fill="#484df0" d="M66.8 192.3 71.1 189.7 74.4 188.6 70.1 190.9Z"/>
<path fill="#3e6fff" d="M74.4 188.6 78.7 186.3 81.9 185.3 77.6 187.2Z"/>
<path fill="#2e87f7" d="M81.9 185.3 86.2 183.2 89.5 182.3 85.2 184Z"/>
<path fill="#23a0e5" d="M89.5 182.3 93.8 180.4 97 179.6 92.7 181.3Z"/>
<path fill="#18addb" d="M97 179.6 101.3 177.9 104.6 177.4 100.3 179Z"/>
<path fill="#02bac3" d="M104.6 177.4 108.8 175.7 112.1 175.6 107.8 177.3Z"/>
<path fill="#19bfb6" d="M112.1 175.6 116.4 173.9 119.6 174.2 115.4 176Z"/>
<path fill="#2cc4a7" d="M119.6 174.2 123.9 172.4 127.2 173.3 122.9 175.2Z"/>
<path fill="#31c69f" d="M127.2 173.3 131.5 171.4 134.7 172.9 130.5 175Z"/>
<path fill="#37c897" d="M134.7 172.9 139 170.9 142.3 173.1 138 175.3Z"/>
<path fill="#37c897" d="M142.3 173.1 146.6 170.9 149.8 173.5 145.5 175.9Z"/>
<path fill="#31c69f" d="M149.8 173.5 154.1 171.2 157.4 174.1 153.1 176.6Z"/>
<path fill="#2cc4a7" d="M157.4 174.1 161.7 171.7 164.9 174.9 160.6 177.4Z"/>
<path fill="#24c1ae" d="M164.9 174.9 169.2 172.4 172.5 175.7 168.2 178.2Z"/>
<path fill="#19bfb6" d="M172.5 175.7 176.7 173.2 180 176.5 175.7 179.1Z"/>
<path fill="#0bbdbd" d="M180 176.5 184.3 174 187.5 177.4 183.3 180Z"/>
<path fill="#02bac3" d="M187.5 177.4 191.8 174.8 195.1 178.2 190.8 180.8Z"/>
<path fill="#01b8ca" d="M195.1 178.2 199.4 175.6 202.6 178.9 198.3 181.4Z"/>
<path fill="#08b5d0" d="M202.6 178.9 206.9 176.3 210.2 179.4 205.9 181.9Z"/>
<path fill="#12b1d6" d="M210.2 179.4 214.5 176.9 217.7 179.7 213.4 182.2Z"/>
<path fill="#12b1d6" d="M217.7 179.7 222 177.3 225.3 179.9 221 182.3Z"/>
<path fill="#18addb" d="M225.3 179.9 229.5 177.5 232.8 179.9 228.5 182.3Z"/>
<path fill="#18addb" d="M232.8 179.9 237.1 177.5 240.3 179.8 236.1 182.1Z"/>
<path fill="#12b1d6" d="M240.3 179.8 244.6 177.4 247.9 179.5 243.6 181.8Z"/>
<path fill="#12b1d6" d="M247.9 179.5 252.2 177.2 255.4 179.1 251.1 181.4Z"/>
<path fill="#08b5d0" d="M255.4 179.1 259.7 176.8 263 178.6 258.7 180.9Z"/>
<path fill="#08b5d0" d="M263 178.6 267.3 176.4 270.5 178 266.2 180.2Z"/>
<path fill="#3e6fff" d="M70.1 190.9 74.4 188.6 77.6 187.2 73.4 189.1Z"/>
<path fill="#2d8cf3" d="M77.6 187.2 81.9 185.3 85.2 184 80.9 185.7Z"/>
<path fill="#23a0e5" d="M85.2 184 89.5 182.3 92.7 181.3 88.4 182.9Z"/>
<path fill="#12b1d6" d="M92.7 181.3 97 179.6 100.3 179 96 180.6Z"/>
<path fill="#02bac3" d="M100.3 179 104.6 177.4 107.8 177.3 103.5 178.9Z"/>
<path fill="#24c1ae" d="M107.8 177.3 112.1 175.6 115.4 176 111.1 177.7Z"/>
<path fill="#31c69f" d="M115.4 176 119.6 174.2 122.9 175.2 118.6 177.1Z"/>
<path fill="#37c897" d="M122.9 175.2 127.2 173.3 130.5 175 126.2 177.1Z"/>
<path fill="#37c897" d="M130.5 175 134.7 172.9 138 175.3 133.7 177.6Z"/>
<path fill="#37c897" d="M138 175.3 142.3 173.1 145.5 175.9 141.3 178.2Z"/>
<path fill="#31c69f" d="M145.5 175.9 149.8 173.5 153.1 176.6 148.8 179Z"/>
<path fill="#2cc4a7" d="M153.1 176.6 157.4 174.1 160.6 177.4 156.3 179.9Z"/>
<path fill="#24c1ae" d="M160.6 177.4 164.9 174.9 168.2 178.2 163.9 180.8Z"/>
<path fill="#19bfb6" d="M168.2 178.2 172.5 175.7 175.7 179.1 171.4 181.7Z"/>
<path fill="#0bbdbd" d="M175.7 179.1 180 176.5 183.3 180 179 182.6Z"/>
<path fill="#01b8ca" d="M183.3 180 187.5 177.4 190.8 180.8 186.5 183.3Z"/>
<path fill="#08b5d0" d="M190.8 180.8 195.1 178.2 198.3 181.4 194.1 184Z"/>
<path fill="#12b1d6" d="M198.3 181.4 202.6 178.9 205.9 181.9 201.6 184.4Z"/>
<path fill="#12b1d6" d="M205.9 181.9 210.2 179.4 213.4 182.2 209.1 184.7Z"/>
<path fill="#18addb" d="M213.4 182.2 217.7 179.7 221 182.3 216.7 184.8Z"/>
<path fill="#18addb" d="M221 182.3 225.3 179.9 228.5 182.3 224.2 184.7Z"/>
<path fill="#18addb" d="M228.5 182.3 232.8 179.9 236.1 182.1 231.8 184.5Z"/>
<path fill="#12b1d6" d="M236.1 182.1 240.3 179.8 243.6 181.8 239.3 184.1Z"/>
<path fill="#12b1d6" d="M243.6 181.8 247.9 179.5 251.1 181.4 246.9 183.6Z"/>
<path fill="#08b5d0" d="M251.1 181.4 255.4 179.1 258.7 180.9 254.4 183.1Z"/>
<path fill="#08b5d0" d="M258.7 180.9 263 178.6 266.2 180.2 261.9 182.4Z"/>
<path fill="#2b91ef" d="M73.4 189.1 77.6 187.2 80.9 185.7 76.6 187.3Z"/>
<path fill="#20a5e3" d="M80.9 185.7 85.2 184 88.4 182.9 84.2 184.4Z"/>
<path fill="#08b5d0" d="M88.4 182.9 92.7 181.3 96 180.6 91.7 182.2Z"/>
<path fill="#0bbdbd" d="M96 180.6 100.3 179 103.5 178.9 99.2 180.5Z"/>
<path fill="#2cc4a7" d="M103.5 178.9 107.8 177.3 111.1 177.7 106.8 179.5Z"/>
<path fill="#37c897" d="M111.1 177.7 115.4 176 118.6 177.1 114.3 179.1Z"/>
<path fill="#37c897" d="M118.6 177.1 122.9 175.2 126.2 177.1 121.9 179.3Z"/>
<path fill="#37c897" d="M126.2 177.1 130.5 175 133.7 177.6 129.4 179.8Z"/>
<path fill="#37c897" d="M133.7 177.6 138 175.3 141.3 178.2 137 180.6Z"/>
<path fill="#31c69f" d="M141.3 178.2 145.5 175.9 148.8 179 144.5 181.5Z"/>
<path fill="#2cc4a7" d="M148.8 179 153.1 176.6 156.3 179.9 152.1 182.4Z"/>
<path fill="#24c1ae" d="M156.3 179.9 160.6 177.4 163.9 180.8 159.6 183.3Z"/>
<path fill="#19bfb6" d="M163.9 180.8 168.2 178.2 171.4 181.7 167.1 184.3Z"/>
<path fill="#02bac3" d="M171.4 181.7 175.7 179.1 179 182.6 174.7 185.2Z"/>
<path fill="#01b8ca" d="M179 182.6 183.3 180 186.5 183.3 182.2 185.9Z"/>
<path fill="#08b5d0" d="M186.5 183.3 190.8 180.8 194.1 184 189.8 186.5Z"/>
<path fill="#12b1d6" d="M194.1 184 198.3 181.4 201.6 184.4 197.3 186.9Z"/>
<path fill="#12b1d6" d="M201.6 184.4 205.9 181.9 209.1 184.7 204.9 187.1Z"/>
<path fill="#18addb" d="M209.1 184.7 213.4 182.2 216.7 184.8 212.4 187.2Z"/>
<path fill="#18addb" d="M216.7 184.8 221 182.3 224.2 184.7 219.9 187Z"/>
<path fill="#18addb" d="M224.2 184.7 228.5 182.3 231.8 184.5 227.5 186.8Z"/>
<path fill="#12b1d6" d="M231.8 184.5 236.1 182.1 239.3 184.1 235 186.4Z"/>
<path fill="#12b1d6" d="M239.3 184.1 243.6 181.8 246.9 183.6 242.6 185.9Z"/>
<path fill="#08b5d0" d="M246.9 183.6 251.1 181.4 254.4 183.1 250.1 185.3Z"/>
<path fill="#01b8ca" d="M254.4 183.1 258.7 180.9 261.9 182.4 257.7 184.6Z"/>
<path fill="#1ca9df" d="M76.6 187.3 80.9 185.7 84.2 184.4 79.9 185.9Z"/>
<path fill="#01b8ca" d="M84.2 184.4 88.4 182.9 91.7 182.2 87.4 183.6Z"/>
<path fill="#24c1ae" d="M91.7 182.2 96 180.6 99.2 180.5 95 182.1Z"/>
<path fill="#31c69f" d="M99.2 180.5 103.5 178.9 106.8 179.5 102.5 181.2Z"/>
<path fill="#37c897" d="M106.8 179.5 111.1 177.7 114.3 179.1 110.1 181Z"/>
<path fill="#3fca8e" d="M114.3 179.1 118.6 177.1 121.9 179.3 117.6 181.4Z"/>
<path fill="#3fca8e" d="M121.9 179.3 126.2 177.1 129.4 179.8 125.1 182.1Z"/>
<path fill="#37c897" d="M129.4 179.8 133.7 177.6 137 180.6 132.7 183Z"/>
<path fill="#31c69f" d="M137 180.6 141.3 178.2 144.5 181.5 140.2 183.9Z"/>
<path fill="#2cc4a7" d="M144.5 181.5 148.8 179 152.1 182.4 147.8 184.9Z"/>
<path fill="#19bfb6" d="M152.1 182.4 156.3 179.9 159.6 183.3 155.3 185.9Z"/>
<path fill="#0bbdbd" d="M159.6 183.3 163.9 180.8 167.1 184.3 162.9 186.9Z"/>
<path fill="#02bac3" d="M167.1 184.3 171.4 181.7 174.7 185.2 170.4 187.8Z"/>
<path fill="#01b8ca" d="M174.7 185.2 179 182.6 182.2 185.9 177.9 188.5Z"/>
<path fill="#08b5d0" d="M182.2 185.9 186.5 183.3 189.8 186.5 185.5 189Z"/>
<path fill="#12b1d6" d="M189.8 186.5 194.1 184 197.3 186.9 193 189.4Z"/>
<path fill="#18addb" d="M197.3 186.9 201.6 184.4 204.9 187.1 200.6 189.5Z"/>
<path fill="#18addb" d="M204.9 187.1 209.1 184.7 212.4 187.2 208.1 189.5Z"/>
<path fill="#18addb" d="M212.4 187.2 216.7 184.8 219.9 187 215.7 189.4Z"/>
<path fill="#18addb" d="M219.9 187 224.2 184.7 227.5 186.8 223.2 189.1Z"/>
<path fill="#12b1d6" d="M227.5 186.8 231.8 184.5 235 186.4 230.7 188.6Z"/>
<path fill="#12b1d6" d="M235 186.4 239.3 184.1 242.6 185.9 238.3 188.1Z"/>
<path fill="#08b5d0" d="M242.6 185.9 246.9 183.6 250.1 185.3 245.8 187.4Z"/>
<path fill="#01b8ca" d="M250.1 185.3 254.4 183.1 257.7 184.6 253.4 186.8Z"/>
<path fill="#0bbdbd" d="M79.9 185.9 84.2 184.4 87.4 183.6 83.1 185Z"/>
<path fill="#2cc4a7" d="M87.4 183.6 91.7 182.2 95 182.1 90.7 183.6Z"/>
<path fill="#37c897" d="M95 182.1 99.2 180.5 102.5 181.2 98.2 183Z"/>
<path fill="#3fca8e" d="M102.5 181.2 106.8 179.5 110.1 181 105.8 183Z"/>
<path fill="#3fca8e" d="M110.1 181 114.3 179.1 117.6 181.4 113.3 183.6Z"/>
<path fill="#3fca8e" d="M117.6 181.4 121.9 179.3 125.1 182.1 120.9 184.5Z"/>
<path fill="#37c897" d="M125.1 182.1 129.4 179.8 132.7 183 128.4 185.4Z"/>
<path fill="#31c69f" d="M132.7 183 137 180.6 140.2 183.9 135.9 186.4Z"/>
<path fill="#24c1ae" d="M140.2 183.9 144.5 181.5 147.8 184.9 143.5 187.5Z"/>
<path fill="#19bfb6" d="M147.8 184.9 152.1 182.4 155.3 185.9 151 188.5Z"/>
<path fill="#0bbdbd" d="M155.3 185.9 159.6 183.3 162.9 186.9 158.6 189.5Z"/>
<path fill="#01b8ca" d="M162.9 186.9 167.1 184.3 170.4 187.8 166.1 190.4Z"/>
<path fill="#08b5d0" d="M170.4 187.8 174.7 185.2 177.9 188.5 173.7 191.1Z"/>
<path fill="#12b1d6" d="M177.9 188.5 182.2 185.9 185.5 189 181.2 191.6Z"/>
<path fill="#18addb" d="M185.5 189 189.8 186.5 193 189.4 188.7 191.8Z"/>
<path fill="#18addb" d="M193 189.4 197.3 186.9 200.6 189.5 196.3 191.9Z"/>
<path fill="#18addb" d="M200.6 189.5 204.9 187.1 208.1 189.5 203.8 191.9Z"/>
<path fill="#18addb" d="M208.1 189.5 212.4 187.2 215.7 189.4 211.4 191.7Z"/>
<path fill="#18addb" d="M215.7 189.4 219.9 187 223.2 189.1 218.9 191.3Z"/>
<path fill="#12b1d6" d="M223.2 189.1 227.5 186.8 230.7 188.6 226.5 190.8Z"/>
<path fill="#12b1d6" d="M230.7 188.6 235 186.4 238.3 188.1 234 190.3Z"/>
<path fill="#08b5d0" d="M238.3 188.1 242.6 185.9 245.8 187.4 241.5 189.6Z"/>
<path fill="#01b8ca" d="M245.8 187.4 250.1 185.3 253.4 186.8 249.1 188.9Z"/>
<path fill="#31c69f" d="M83.1 185 87.4 183.6 90.7 183.6 86.4 185.1Z"/>
<path fill="#3fca8e" d="M90.7 183.6 95 182.1 98.2 183 93.9 184.7Z"/>
<path fill="#4acb84" d="M98.2 183 102.5 181.2 105.8 183 101.5 185.1Z"/>
<path fill="#4acb84" d="M105.8 183 110.1 181 113.3 183.6 109 185.8Z"/>
<path fill="#3fca8e" d="M113.3 183.6 117.6 181.4 120.9 184.5 116.6 186.8Z"/>
<path fill="#37c897" d="M120.9 184.5 125.1 182.1 128.4 185.4 124.1 187.9Z"/>
<path fill="#31c69f" d="M128.4 185.4 132.7 183 135.9 186.4 131.7 189Z"/>
<path fill="#24c1ae" d="M135.9 186.4 140.2 183.9 143.5 187.5 139.2 190.1Z"/>
<path fill="#19bfb6" d="M143.5 187.5 147.8 184.9 151 188.5 146.7 191.1Z"/>
<path fill="#02bac3" d="M151 188.5 155.3 185.9 158.6 189.5 154.3 192.1Z"/>
<path fill="#01b8ca" d="M158.6 189.5 162.9 186.9 166.1 190.4 161.8 192.9Z"/>
<path fill="#08b5d0" d="M166.1 190.4 170.4 187.8 173.7 191.1 169.4 193.6Z"/>
<path fill="#12b1d6" d="M173.7 191.1 177.9 188.5 181.2 191.6 176.9 194Z"/>
<path fill="#18addb" d="M181.2 191.6 185.5 189 188.7 191.8 184.5 194.3Z"/>
<path fill="#18addb" d="M188.7 191.8 193 189.4 196.3 191.9 192 194.3Z"/>
<path fill="#18addb" d="M196.3 191.9 200.6 189.5 203.8 191.9 199.5 194.2Z"/>
<path fill="#18addb" d="M203.8 191.9 208.1 189.5 211.4 191.7 207.1 194Z"/>
<path fill="#18addb" d="M211.4 191.7 215.7 189.4 218.9 191.3 214.6 193.6Z"/>
<path fill="#12b1d6" d="M218.9 191.3 223.2 189.1 226.5 190.8 222.2 193.1Z"/>
<path fill="#12b1d6" d="M226.5 190.8 230.7 188.6 234 190.3 229.7 192.5Z"/>
<path fill="#08b5d0" d="M234 190.3 238.3 188.1 241.5 189.6 237.3 191.8Z"/>
<path fill="#01b8ca" d="M241.5 189.6 245.8 187.4 249.1 188.9 244.8 191.1Z"/>
<path fill="#4acb84" d="M86.4 185.1 90.7 183.6 93.9 184.7 89.6 186.5Z"/>
<path fill="#57cc7a" d="M93.9 184.7 98.2 183 101.5 185.1 97.2 187.1Z"/>
<path fill="#4acb84" d="M101.5 185.1 105.8 183 109 185.8 104.7 188.1Z"/>
<path fill="#3fca8e" d="M109 185.8 113.3 183.6 116.6 186.8 112.3 189.2Z"/>
<path fill="#37c897" d="M116.6 186.8 120.9 184.5 124.1 187.9 119.8 190.3Z"/>
<path fill="#2cc4a7" d="M124.1 187.9 128.4 185.4 131.7 189 127.4 191.5Z"/>
<path fill="#24c1ae" d="M131.7 189 135.9 186.4 139.2 190.1 134.9 192.7Z"/>
<path fill="#0bbdbd" d="M139.2 190.1 143.5 187.5 146.7 191.1 142.5 193.7Z"/>
<path fill="#02bac3" d="M146.7 191.1 151 188.5 154.3 192.1 150 194.7Z"/>
<path fill="#01b8ca" d="M154.3 192.1 158.6 189.5 161.8 192.9 157.5 195.5Z"/>
<path fill="#12b1d6" d="M161.8 192.9 166.1 190.4 169.4 193.6 165.1 196.1Z"/>
<path fill="#12b1d6" d="M169.4 193.6 173.7 191.1 176.9 194 172.6 196.5Z"/>
<path fill="#18addb" d="M176.9 194 181.2 191.6 184.5 194.3 180.2 196.7Z"/>
<path fill="#18addb" d="M184.5 194.3 188.7 191.8 192 194.3 187.7 196.7Z"/>
<path fill="#18addb" d="M192 194.3 196.3 191.9 199.5 194.2 195.3 196.5Z"/>
<path fill="#18addb" d="M199.5 194.2 203.8 191.9 207.1 194 202.8 196.2Z"/>
<path fill="#18addb" d="M207.1 194 211.4 191.7 214.6 193.6 210.3 195.8Z"/>
<path fill="#12b1d6" d="M214.6 193.6 218.9 191.3 222.2 193.1 217.9 195.3Z"/>
<path fill="#12b1d6" d="M222.2 193.1 226.5 190.8 229.7 192.5 225.4 194.6Z"/>
<path fill="#08b5d0" d="M229.7 192.5 234 190.3 237.3 191.8 233 194Z"/>
<path fill="#01b8ca" d="M237.3 191.8 241.5 189.6 244.8 191.1 240.5 193.2Z"/>
<path fill="#57cc7a" d="M89.6 186.5 93.9 184.7 97.2 187.1 92.9 189.1Z"/>
<path fill="#57cc7a" d="M97.2 187.1 101.5 185.1 104.7 188.1 100.5 190.3Z"/>
<path fill="#3fca8e" d="M104.7 188.1 109 185.8 112.3 189.2 108 191.5Z"/>
<path fill="#37c897" d="M112.3 189.2 116.6 186.8 119.8 190.3 115.5 192.8Z"/>
<path fill="#2cc4a7" d="M119.8 190.3 124.1 187.9 127.4 191.5 123.1 194.1Z"/>
<path fill="#24c1ae" d="M127.4 191.5 131.7 189 134.9 192.7 130.6 195.3Z"/>
<path fill="#0bbdbd" d="M134.9 192.7 139.2 190.1 142.5 193.7 138.2 196.4Z"/>
<path fill="#02bac3" d="M142.5 193.7 146.7 191.1 150 194.7 145.7 197.3Z"/>
<path fill="#08b5d0" d="M150 194.7 154.3 192.1 157.5 195.5 153.3 198.1Z"/>
<path fill="#12b1d6" d="M157.5 195.5 161.8 192.9 165.1 196.1 160.8 198.6Z"/>
<path fill="#18addb" d="M165.1 196.1 169.4 193.6 172.6 196.5 168.3 199Z"/>
<path fill="#18addb" d="M172.6 196.5 176.9 194 180.2 196.7 175.9 199.1Z"/>
<path fill="#1ca9df" d="M180.2 196.7 184.5 194.3 187.7 196.7 183.4 199Z"/>
<path fill="#18addb" d="M187.7 196.7 192 194.3 195.3 196.5 191 198.8Z"/>
<path fill="#18addb" d="M195.3 196.5 199.5 194.2 202.8 196.2 198.5 198.5Z"/>
<path fill="#18addb" d="M202.8 196.2 207.1 194 210.3 195.8 206.1 198Z"/>
<path fill="#12b1d6" d="M210.3 195.8 214.6 193.6 217.9 195.3 213.6 197.5Z"/>
<path fill="#08b5d0" d="M217.9 195.3 222.2 193.1 225.4 194.6 221.1 196.8Z"/>
<path fill="#01b8ca" d="M225.4 194.6 229.7 192.5 233 194 228.7 196.1Z"/>
<path fill="#02bac3" d="M233 194 237.3 191.8 240.5 193.2 236.2 195.4Z"/>
<path fill="#57cc7a" d="M92.9 189.1 97.2 187.1 100.5 190.3 96.2 192.5Z"/>
<path fill="#3fca8e" d="M100.5 190.3 104.7 188.1 108 191.5 103.7 193.9Z"/>
<path fill="#37c897" d="M108 191.5 112.3 189.2 115.5 192.8 111.3 195.3Z"/>
<path fill="#2cc4a7" d="M115.5 192.8 119.8 190.3 123.1 194.1 118.8 196.6Z"/>
<path fill="#19bfb6" d="M123.1 194.1 127.4 191.5 130.6 195.3 126.3 197.9Z"/>
<path fill="#0bbdbd" d="M130.6 195.3 134.9 192.7 138.2 196.4 133.9 199Z"/>
<path fill="#01b8ca" d="M138.2 196.4 142.5 193.7 145.7 197.3 141.4 199.9Z"/>
<path fill="#08b5d0" d="M145.7 197.3 150 194.7 153.3 198.1 149 200.6Z"/>
<path fill="#12b1d6" d="M153.3 198.1 157.5 195.5 160.8 198.6 156.5 201.1Z"/>
<path fill="#18addb" d="M160.8 198.6 165.1 196.1 168.3 199 164.1 201.4Z"/>
<path fill="#18addb" d="M168.3 199 172.6 196.5 175.9 199.1 171.6 201.5Z"/>
<path fill="#1ca9df" d="M175.9 199.1 180.2 196.7 183.4 199 179.1 201.4Z"/>
<path fill="#1ca9df" d="M183.4 199 187.7 196.7 191 198.8 186.7 201.1Z"/>
<path fill="#18addb" d="M191 198.8 195.3 196.5 198.5 198.5 194.2 200.7Z"/>
<path fill="#18addb" d="M198.5 198.5 202.8 196.2 206.1 198 201.8 200.2Z"/>
<path fill="#12b1d6" d="M206.1 198 210.3 195.8 213.6 197.5 209.3 199.6Z"/>
<path fill="#08b5d0" d="M213.6 197.5 217.9 195.3 221.1 196.8 216.9 199Z"/>
<path fill="#01b8ca" d="M221.1 196.8 225.4 194.6 228.7 196.1 224.4 198.3Z"/>
<path fill="#02bac3" d="M228.7 196.1 233 194 236.2 195.4 231.9 197.6Z"/>
<path fill="#4acb84" d="M96.2 192.5 100.5 190.3 103.7 193.9 99.4 196.3Z"/>
<path fill="#37c897" d="M103.7 193.9 108 191.5 111.3 195.3 107 197.8Z"/>
<path fill="#2cc4a7" d="M111.3 195.3 115.5 192.8 118.8 196.6 114.5 199.2Z"/>
<path fill="#19bfb6" d="M118.8 196.6 123.1 194.1 126.3 197.9 122.1 200.5Z"/>
<path fill="#02bac3" d="M126.3 197.9 130.6 195.3 133.9 199 129.6 201.6Z"/>
<path fill="#01b8ca" d="M133.9 199 138.2 196.4 141.4 199.9 137.1 202.5Z"/>
<path fill="#12b1d6" d="M141.4 199.9 145.7 197.3 149 200.6 144.7 203.2Z"/>
<path fill="#18addb" d="M149 200.6 153.3 198.1 156.5 201.1 152.2 203.6Z"/>
<path fill="#18addb" d="M156.5 201.1 160.8 198.6 164.1 201.4 159.8 203.8Z"/>
<path fill="#1ca9df" d="M164.1 201.4 168.3 199 171.6 201.5 167.3 203.8Z"/>
<path fill="#1ca9df" d="M171.6 201.5 175.9 199.1 179.1 201.4 174.9 203.7Z"/>
<path fill="#1ca9df" d="M179.1 201.4 183.4 199 186.7 201.1 182.4 203.4Z"/>
<path fill="#18addb" d="M186.7 201.1 191 198.8 194.2 200.7 189.9 203Z"/>
<path fill="#18addb" d="M194.2 200.7 198.5 198.5 201.8 200.2 197.5 202.4Z"/>
<path fill="#12b1d6" d="M201.8 200.2 206.1 198 209.3 199.6 205 201.8Z"/>
<path fill="#08b5d0" d="M209.3 199.6 213.6 197.5 216.9 199 212.6 201.1Z"/>
<path fill="#01b8ca" d="M216.9 199 221.1 196.8 224.4 198.3 220.1 200.4Z"/>
<path fill="#02bac3" d="M224.4 198.3 228.7 196.1 231.9 197.6 227.7 199.7Z"/>
<path fill="#31c69f" d="M99.4 196.3 103.7 193.9 107 197.8 102.7 200.4Z"/>
<path fill="#24c1ae" d="M107 197.8 111.3 195.3 114.5 199.2 110.2 201.8Z"/>
<path fill="#0bbdbd" d="M114.5 199.2 118.8 196.6 122.1 200.5 117.8 203.1Z"/>
<path fill="#02bac3" d="M122.1 200.5 126.3 197.9 129.6 201.6 125.3 204.2Z"/>
<path fill="#08b5d0" d="M129.6 201.6 133.9 199 137.1 202.5 132.9 205.1Z"/>
<path fill="#12b1d6" d="M137.1 202.5 141.4 199.9 144.7 203.2 140.4 205.7Z"/>
<path fill="#18addb" d="M144.7 203.2 149 200.6 152.2 203.6 147.9 206.1Z"/>
<path fill="#1ca9df" d="M152.2 203.6 156.5 201.1 159.8 203.8 155.5 206.2Z"/>
<path fill="#1ca9df" d="M159.8 203.8 164.1 201.4 167.3 203.8 163 206.2Z"/>
<path fill="#1ca9df" d="M167.3 203.8 171.6 201.5 174.9 203.7 170.6 206Z"/>
<path fill="#1ca9df" d="M174.9 203.7 179.1 201.4 182.4 203.4 178.1 205.6Z"/>
<path fill="#18addb" d="M182.4 203.4 186.7 201.1 189.9 203 185.7 205.2Z"/>
<path fill="#18addb" d="M189.9 203 194.2 200.7 197.5 202.4 193.2 204.6Z"/>
<path fill="#12b1d6" d="M197.5 202.4 201.8 200.2 205 201.8 200.7 204Z"/>
<path fill="#08b5d0" d="M205 201.8 209.3 199.6 212.6 201.1 208.3 203.3Z"/>
<path fill="#01b8ca" d="M212.6 201.1 216.9 199 220.1 200.4 215.8 202.6Z"/>
<path fill="#02bac3" d="M220.1 200.4 224.4 198.3 227.7 199.7 223.4 201.9Z"/>
<path fill="#24c1ae" d="M102.7 200.4 107 197.8 110.2 201.8 105.9 204.4Z"/>
<path fill="#0bbdbd" d="M110.2 201.8 114.5 199.2 117.8 203.1 113.5 205.7Z"/>
<path fill="#01b8ca" d="M117.8 203.1 122.1 200.5 125.3 204.2 121 206.8Z"/>
<path fill="#08b5d0" d="M125.3 204.2 129.6 201.6 132.9 205.1 128.6 207.6Z"/>
<path fill="#12b1d6" d="M132.9 205.1 137.1 202.5 140.4 205.7 136.1 208.2Z"/>
<path fill="#18addb" d="M140.4 205.7 144.7 203.2 147.9 206.1 143.7 208.5Z"/>
<path fill="#1ca9df" d="M147.9 206.1 152.2 203.6 155.5 206.2 151.2 208.6Z"/>
<path fill="#1ca9df" d="M155.5 206.2 159.8 203.8 163 206.2 158.7 208.5Z"/>
<path fill="#1ca9df" d="M163 206.2 167.3 203.8 170.6 206 166.3 208.2Z"/>
<path fill="#1ca9df" d="M170.6 206 174.9 203.7 178.1 205.6 173.8 207.9Z"/>
<path fill="#18addb" d="M178.1 205.6 182.4 203.4 185.7 205.2 181.4 207.4Z"/>
<path fill="#12b1d6" d="M185.7 205.2 189.9 203 193.2 204.6 188.9 206.8Z"/>
<path fill="#12b1d6" d="M193.2 204.6 197.5 202.4 200.7 204 196.5 206.2Z"/>
<path fill="#08b5d0" d="M200.7 204 205 201.8 208.3 203.3 204 205.5Z"/>
<path fill="#01b8ca" d="M208.3 203.3 212.6 201.1 215.8 202.6 211.5 204.8Z"/>
<path fill="#02bac3" d="M215.8 202.6 220.1 200.4 223.4 201.9 219.1 204.1Z"/>
<path fill="#0bbdbd" d="M105.9 204.4 110.2 201.8 113.5 205.7 109.2 208.4Z"/>
<path fill="#01b8ca" d="M113.5 205.7 117.8 203.1 121 206.8 116.7 209.4Z"/>
<path fill="#12b1d6" d="M121 206.8 125.3 204.2 128.6 207.6 124.3 210.2Z"/>
<path fill="#18addb" d="M128.6 207.6 132.9 205.1 136.1 208.2 131.8 210.7Z"/>
<path fill="#1ca9df" d="M136.1 208.2 140.4 205.7 143.7 208.5 139.4 210.9Z"/>
<path fill="#1ca9df" d="M143.7 208.5 147.9 206.1 151.2 208.6 146.9 210.9Z"/>
<path fill="#1ca9df" d="M151.2 208.6 155.5 206.2 158.7 208.5 154.5 210.8Z"/>
<path fill="#1ca9df" d="M158.7 208.5 163 206.2 166.3 208.2 162 210.5Z"/>
<path fill="#18addb" d="M166.3 208.2 170.6 206 173.8 207.9 169.5 210.1Z"/>
<path fill="#18addb" d="M173.8 207.9 178.1 205.6 181.4 207.4 177.1 209.6Z"/>
<path fill="#12b1d6" d="M181.4 207.4 185.7 205.2 188.9 206.8 184.6 209Z"/>
<path fill="#08b5d0" d="M188.9 206.8 193.2 204.6 196.5 206.2 192.2 208.3Z"/>
<path fill="#01b8ca" d="M196.5 206.2 200.7 204 204 205.5 199.7 207.6Z"/>
<path fill="#02bac3" d="M204 205.5 208.3 203.3 211.5 204.8 207.3 207Z"/>
<path fill="#02bac3" d="M211.5 204.8 215.8 202.6 219.1 204.1 214.8 206.4Z"/>
<path fill="#08b5d0" d="M109.2 208.4 113.5 205.7 116.7 209.4 112.5 212Z"/>
<path fill="#12b1d6" d="M116.7 209.4 121 206.8 124.3 210.2 120 212.7Z"/>
<path fill="#18addb" d="M124.3 210.2 128.6 207.6 131.8 210.7 127.5 213.1Z"/>
<path fill="#1ca9df" d="M131.8 210.7 136.1 208.2 139.4 210.9 135.1 213.3Z"/>
<path fill="#1ca9df" d="M139.4 210.9 143.7 208.5 146.9 210.9 142.6 213.2Z"/>
<path fill="#1ca9df" d="M146.9 210.9 151.2 208.6 154.5 210.8 150.2 213.1Z"/>
<path fill="#1ca9df" d="M154.5 210.8 158.7 208.5 162 210.5 157.7 212.7Z"/>
<path fill="#18addb" d="M162 210.5 166.3 208.2 169.5 210.1 165.3 212.3Z"/>
<path fill="#18addb" d="M169.5 210.1 173.8 207.9 177.1 209.6 172.8 211.7Z"/>
<path fill="#12b1d6" d="M177.1 209.6 181.4 207.4 184.6 209 180.3 211.1Z"/>
<path fill="#08b5d0" d="M184.6 209 188.9 206.8 192.2 208.3 187.9 210.5Z"/>
<path fill="#01b8ca" d="M192.2 208.3 196.5 206.2 199.7 207.6 195.4 209.8Z"/>
<path fill="#02bac3" d="M199.7 207.6 204 205.5 207.3 207 203 209.2Z"/>
<path fill="#0bbdbd" d="M207.3 207 211.5 204.8 214.8 206.4 210.5 208.6Z"/>
<path fill="#18addb" d="M112.5 212 116.7 209.4 120 212.7 115.7 215.2Z"/>
<path fill="#18addb" d="M120 212.7 124.3 210.2 127.5 213.1 123.3 215.6Z"/>
<path fill="#1ca9df" d="M127.5 213.1 131.8 210.7 135.1 213.3 130.8 215.7Z"/>
<path fill="#1ca9df" d="M135.1 213.3 139.4 210.9 142.6 213.2 138.3 215.6Z"/>
<path fill="#1ca9df" d="M142.6 213.2 146.9 210.9 150.2 213.1 145.9 215.3Z"/>
<path fill="#1ca9df" d="M150.2 213.1 154.5 210.8 157.7 212.7 153.4 214.9Z"/>
<path fill="#18addb" d="M157.7 212.7 162 210.5 165.3 212.3 161 214.5Z"/>
<path fill="#18addb" d="M165.3 212.3 169.5 210.1 172.8 211.7 168.5 213.9Z"/>
<path fill="#12b1d6" d="M172.8 211.7 177.1 209.6 180.3 211.1 176.1 213.3Z"/>
<path fill="#08b5d0" d="M180.3 211.1 184.6 209 187.9 210.5 183.6 212.7Z"/>
<path fill="#01b8ca" d="M187.9 210.5 192.2 208.3 195.4 209.8 191.1 212Z"/>
<path fill="#02bac3" d="M195.4 209.8 199.7 207.6 203 209.2 198.7 211.4Z"/>
<path fill="#0bbdbd" d="M203 209.2 207.3 207 210.5 208.6 206.2 210.9Z"/>
<path fill="#1ca9df" d="M115.7 215.2 120 212.7 123.3 215.6 119 218Z"/>
<path fill="#1ca9df" d="M123.3 215.6 127.5 213.1 130.8 215.7 126.5 218Z"/>
<path fill="#1ca9df" d="M130.8 215.7 135.1 213.3 138.3 215.6 134.1 217.9Z"/>
<path fill="#1ca9df" d="M138.3 215.6 142.6 213.2 145.9 215.3 141.6 217.6Z"/>
<path fill="#1ca9df" d="M145.9 215.3 150.2 213.1 153.4 214.9 149.1 217.1Z"/>
<path fill="#18addb" d="M153.4 214.9 157.7 212.7 161 214.5 156.7 216.6Z"/>
<path fill="#18addb" d="M161 214.5 165.3 212.3 168.5 213.9 164.2 216.1Z"/>
<path fill="#12b1d6" d="M168.5 213.9 172.8 211.7 176.1 213.3 171.8 215.5Z"/>
<path fill="#08b5d0" d="M176.1 213.3 180.3 211.1 183.6 212.7 179.3 214.8Z"/>
<path fill="#01b8ca" d="M183.6 212.7 187.9 210.5 191.1 212 186.9 214.2Z"/>
<path fill="#02bac3" d="M191.1 212 195.4 209.8 198.7 211.4 194.4 213.6Z"/>
<path fill="#0bbdbd" d="M198.7 211.4 203 209.2 206.2 210.9 201.9 213.2Z"/>
<path fill="#1ca9df" d="M119 218 123.3 215.6 126.5 218 122.2 220.3Z"/>
<path fill="#1ca9df" d="M126.5 218 130.8 215.7 134.1 217.9 129.8 220.1Z"/>
<path fill="#1ca9df" d="M134.1 217.9 138.3 215.6 141.6 217.6 137.3 219.8Z"/>
<path fill="#1ca9df" d="M141.6 217.6 145.9 215.3 149.1 217.1 144.9 219.3Z"/>
<path fill="#18addb" d="M149.1 217.1 153.4 214.9 156.7 216.6 152.4 218.8Z"/>
<path fill="#12b1d6" d="M156.7 216.6 161 214.5 164.2 216.1 159.9 218.2Z"/>
<path fill="#12b1d6" d="M164.2 216.1 168.5 213.9 171.8 215.5 167.5 217.6Z"/>
<path fill="#08b5d0" d="M171.8 215.5 176.1 213.3 179.3 214.8 175 217Z"/>
<path fill="#01b8ca" d="M179.3 214.8 183.6 212.7 186.9 214.2 182.6 216.4Z"/>
<path fill="#02bac3" d="M186.9 214.2 191.1 212 194.4 213.6 190.1 215.9Z"/>
<path fill="#0bbdbd" d="M194.4 213.6 198.7 211.4 201.9 213.2 197.7 215.5Z"/>
<path fill="#1ca9df" d="M122.2 220.3 126.5 218 129.8 220.1 125.5 222.4Z"/>
<path fill="#1ca9df" d="M129.8 220.1 134.1 217.9 137.3 219.8 133 222Z"/>
<path fill="#1ca9df" d="M137.3 219.8 141.6 217.6 144.9 219.3 140.6 221.5Z"/>
<path fill="#18addb" d="M144.9 219.3 149.1 217.1 152.4 218.8 148.1 221Z"/>
<path fill="#12b1d6" d="M152.4 218.8 156.7 216.6 159.9 218.2 155.7 220.4Z"/>
<path fill="#08b5d0" d="M159.9 218.2 164.2 216.1 167.5 217.6 163.2 219.8Z"/>
<path fill="#01b8ca" d="M167.5 217.6 171.8 215.5 175 217 170.7 219.2Z"/>
<path fill="#01b8ca" d="M175 217 179.3 214.8 182.6 216.4 178.3 218.7Z"/>
<path fill="#02bac3" d="M182.6 216.4 186.9 214.2 190.1 215.9 185.8 218.2Z"/>
<path fill="#0bbdbd" d="M190.1 215.9 194.4 213.6 197.7 215.5 193.4 217.8Z"/>
<path fill="#1ca9df" d="M125.5 222.4 129.8 220.1 133 222 128.7 224.2Z"/>
<path fill="#18addb" d="M133 222 137.3 219.8 140.6 221.5 136.3 223.7Z"/>
<path fill="#18addb" d="M140.6 221.5 144.9 219.3 148.1 221 143.8 223.1Z"/>
<path fill="#12b1d6" d="M148.1 221 152.4 218.8 155.7 220.4 151.4 222.6Z"/>
<path fill="#08b5d0" d="M155.7 220.4 159.9 218.2 163.2 219.8 158.9 222Z"/>
<path fill="#01b8ca" d="M163.2 219.8 167.5 217.6 170.7 219.2 166.5 221.4Z"/>
<path fill="#02bac3" d="M170.7 219.2 175 217 178.3 218.7 174 220.9Z"/>
<path fill="#02bac3" d="M178.3 218.7 182.6 216.4 185.8 218.2 181.5 220.5Z"/>
<path fill="#0bbdbd" d="M185.8 218.2 190.1 215.9 193.4 217.8 189.1 220.2Z"/>
<path fill="#18addb" d="M128.7 224.2 133 222 136.3 223.7 132 225.8Z"/>
<path fill="#18addb" d="M136.3 223.7 140.6 221.5 143.8 223.1 139.5 225.3Z"/>
<path fill="#12b1d6" d="M143.8 223.1 148.1 221 151.4 222.6 147.1 224.7Z"/>
<path fill="#08b5d0" d="M151.4 222.6 155.7 220.4 158.9 222 154.6 224.2Z"/>
<path fill="#01b8ca" d="M158.9 222 163.2 219.8 166.5 221.4 162.2 223.6Z"/>
<path fill="#02bac3" d="M166.5 221.4 170.7 219.2 174 220.9 169.7 223.2Z"/>
<path fill="#0bbdbd" d="M174 220.9 178.3 218.7 181.5 220.5 177.3 222.8Z"/>
<path fill="#0bbdbd" d="M181.5 220.5 185.8 218.2 189.1 220.2 184.8 222.6Z"/>
<path fill="#12b1d6" d="M132 225.8 136.3 223.7 139.5 225.3 135.3 227.4Z"/>
<path fill="#12b1d6" d="M139.5 225.3 143.8 223.1 147.1 224.7 142.8 226.9Z"/>
<path fill="#08b5d0" d="M147.1 224.7 151.4 222.6 154.6 224.2 150.3 226.3Z"/>
<path fill="#01b8ca" d="M154.6 224.2 158.9 222 162.2 223.6 157.9 225.9Z"/>
<path fill="#02bac3" d="M162.2 223.6 166.5 221.4 169.7 223.2 165.4 225.4Z"/>
<path fill="#0bbdbd" d="M169.7 223.2 174 220.9 177.3 222.8 173 225.1Z"/>
<path fill="#0bbdbd" d="M177.3 222.8 181.5 220.5 184.8 222.6 180.5 225Z"/>
<path fill="#08b5d0" d="M135.3 227.4 139.5 225.3 142.8 226.9 138.5 229Z"/>
<path fill="#08b5d0" d="M142.8 226.9 147.1 224.7 150.3 226.3 146.1 228.5Z"/>
<path fill="#01b8ca" d="M150.3 226.3 154.6 224.2 157.9 225.9 153.6 228.1Z"/>
<path fill="#02bac3" d="M157.9 225.9 162.2 223.6 165.4 225.4 161.1 227.7Z"/>
<path fill="#0bbdbd" d="M165.4 225.4 169.7 223.2 173 225.1 168.7 227.5Z"/>
<path fill="#0bbdbd" d="M173 225.1 177.3 222.8 180.5 225 176.2 227.4Z"/>
<path fill="#01b8ca" d="M138.5 229 142.8 226.9 146.1 228.5 141.8 230.7Z"/>
<path fill="#01b8ca" d="M146.1 228.5 150.3 226.3 153.6 228.1 149.3 230.3Z"/>
<path fill="#02bac3" d="M153.6 228.1 157.9 225.9 161.1 227.7 156.9 230.1Z"/>
<path fill="#0bbdbd" d="M161.1 227.7 165.4 225.4 168.7 227.5 164.4 229.9Z"/>
<path fill="#0bbdbd" d="M168.7 227.5 173 225.1 176.2 227.4 171.9 229.8Z"/>
<path fill="#02bac3" d="M141.8 230.7 146.1 228.5 149.3 230.3 145 232.6Z"/>
<path fill="#02bac3" d="M149.3 230.3 153.6 228.1 156.9 230.1 152.6 232.4Z"/>
<path fill="#0bbdbd" d="M156.9 230.1 161.1 227.7 164.4 229.9 160.1 232.3Z"/>
<path fill="#0bbdbd" d="M164.4 229.9 168.7 227.5 171.9 229.8 167.7 232.3Z"/>
<path fill="#02bac3" d="M145 232.6 149.3 230.3 152.6 232.4 148.3 234.7Z"/>
<path fill="#0bbdbd" d="M152.6 232.4 156.9 230.1 160.1 232.3 155.8 234.7Z"/>
<path fill="#0bbdbd" d="M160.1 232.3 164.4 229.9 167.7 232.3 163.4 234.7Z"/>
<path fill="#0bbdbd" d="M148.3 234.7 152.6 232.4 155.8 234.7 151.5 237.1Z"/>
<path fill="#0bbdbd" d="M155.8 234.7 160.1 232.3 163.4 234.7 159.1 237.2Z"/>
<path fill="#02bac3" d="M151.5 237.1 155.8 234.7 159.1 237.2 154.8 239.7Z"/>
<path fill="#20a5e3" d="M534.9 84.9 539.1 82.5 542.4 84.4 538.3 86.7Z"/>
<path fill="#20a5e3" d="M530.8 87.3 534.9 84.9 538.3 86.7 534.1 89Z"/>
<path fill="#1ca9df" d="M538.3 86.7 542.4 84.4 545.8 86.3 541.6 88.5Z"/>
<path fill="#20a5e3" d="M526.6 89.6 530.8 87.3 534.1 89 529.9 91.4Z"/>
<path fill="#1ca9df" d="M534.1 89 538.3 86.7 541.6 88.5 537.4 90.8Z"/>
<path fill="#1ca9df" d="M541.6 88.5 545.8 86.3 549.1 88.2 544.9 90.4Z"/>
<path fill="#20a5e3" d="M522.4 92 526.6 89.6 529.9 91.4 525.7 93.7Z"/>
<path fill="#1ca9df" d="M529.9 91.4 534.1 89 537.4 90.8 533.2 93.1Z"/>
<path fill="#1ca9df" d="M537.4 90.8 541.6 88.5 544.9 90.4 540.8 92.7Z"/>
<path fill="#18addb" d="M544.9 90.4 549.1 88.2 552.4 90.1 548.3 92.3Z"/>
<path fill="#20a5e3" d="M518.2 94.4 522.4 92 525.7 93.7 521.6 96Z"/>
<path fill="#1ca9df" d="M525.7 93.7 529.9 91.4 533.2 93.1 529.1 95.4Z"/>
<path fill="#18addb" d="M533.2 93.1 537.4 90.8 540.8 92.7 536.6 94.9Z"/>
<path fill="#18addb" d="M540.8 92.7 544.9 90.4 548.3 92.3 544.1 94.6Z"/>
<path fill="#18addb" d="M548.3 92.3 552.4 90.1 555.8 92.1 551.6 94.3Z"/>
<path fill="#20a5e3" d="M514.1 96.8 518.2 94.4 521.6 96 517.4 98.3Z"/>
<path fill="#1ca9df" d="M521.6 96 525.7 93.7 529.1 95.4 524.9 97.6Z"/>
<path fill="#18addb" d="M529.1 95.4 533.2 93.1 536.6 94.9 532.4 97.1Z"/>
<path fill="#18addb" d="M536.6 94.9 540.8 92.7 544.1 94.6 539.9 96.8Z"/>
<path fill="#18addb" d="M544.1 94.6 548.3 92.3 551.6 94.3 547.4 96.5Z"/>
<path fill="#12b1d6" d="M551.6 94.3 555.8 92.1 559.1 94 554.9 96.2Z"/>
<path fill="#20a5e3" d="M509.9 99.2 514.1 96.8 517.4 98.3 513.2 100.6Z"/>
<path fill="#1ca9df" d="M517.4 98.3 521.6 96 524.9 97.6 520.7 99.9Z"/>
<path fill="#18addb" d="M524.9 97.6 529.1 95.4 532.4 97.1 528.2 99.3Z"/>
<path fill="#18addb" d="M532.4 97.1 536.6 94.9 539.9 96.8 535.7 98.9Z"/>
<path fill="#12b1d6" d="M539.9 96.8 544.1 94.6 547.4 96.5 543.3 98.6Z"/>
<path fill="#12b1d6" d="M547.4 96.5 551.6 94.3 554.9 96.2 550.8 98.4Z"/>
<path fill="#12b1d6" d="M554.9 96.2 559.1 94 562.4 96 558.3 98.1Z"/>
<path fill="#20a5e3" d="M505.7 101.5 509.9 99.2 513.2 100.6 509 102.9Z"/>
<path fill="#1ca9df" d="M513.2 100.6 517.4 98.3 520.7 99.9 516.5 102.1Z"/>
<path fill="#18addb" d="M520.7 99.9 524.9 97.6 528.2 99.3 524.1 101.5Z"/>
<path fill="#18addb" d="M528.2 99.3 532.4 97.1 535.7 98.9 531.6 101.1Z"/>
<path fill="#12b1d6" d="M535.7 98.9 539.9 96.8 543.3 98.6 539.1 100.8Z"/>
<path fill="#12b1d6" d="M543.3 98.6 547.4 96.5 550.8 98.4 546.6 100.5Z"/>
<path fill="#12b1d6" d="M550.8 98.4 554.9 96.2 558.3 98.1 554.1 100.3Z"/>
<path fill="#12b1d6" d="M558.3 98.1 562.4 96 565.8 97.9 561.6 100Z"/>
<path fill="#20a5e3" d="M501.5 103.9 505.7 101.5 509 102.9 504.9 105.2Z"/>
<path fill="#1ca9df" d="M509 102.9 513.2 100.6 516.5 102.1 512.4 104.3Z"/>
<path fill="#18addb" d="M516.5 102.1 520.7 99.9 524.1 101.5 519.9 103.7Z"/>
<path fill="#12b1d6" d="M524.1 101.5 528.2 99.3 531.6 101.1 527.4 103.3Z"/>
<path fill="#12b1d6" d="M531.6 101.1 535.7 98.9 539.1 100.8 534.9 102.9Z"/>
<path fill="#12b1d6" d="M539.1 100.8 543.3 98.6 546.6 100.5 542.4 102.6Z"/>
<path fill="#12b1d6" d="M546.6 100.5 550.8 98.4 554.1 100.3 549.9 102.4Z"/>
<path fill="#08b5d0" d="M554.1 100.3 558.3 98.1 561.6 100 557.4 102.1Z"/>
<path fill="#08b5d0" d="M561.6 100 565.8 97.9 569.1 99.8 564.9 101.9Z"/>
<path fill="#20a5e3" d="M497.4 106.3 501.5 103.9 504.9 105.2 500.7 107.5Z"/>
<path fill="#1ca9df" d="M504.9 105.2 509 102.9 512.4 104.3 508.2 106.5Z"/>
<path fill="#18addb" d="M512.4 104.3 516.5 102.1 519.9 103.7 515.7 105.9Z"/>
<path fill="#12b1d6" d="M519.9 103.7 524.1 101.5 527.4 103.3 523.2 105.4Z"/>
<path fill="#12b1d6" d="M527.4 103.3 531.6 101.1 534.9 102.9 530.7 105Z"/>
<path fill="#08b5d0" d="M534.9 102.9 539.1 100.8 542.4 102.6 538.2 104.7Z"/>
<path fill="#08b5d0" d="M542.4 102.6 546.6 100.5 549.9 102.4 545.7 104.5Z"/>
<path fill="#08b5d0" d="M549.9 102.4 554.1 100.3 557.4 102.1 553.3 104.3Z"/>
<path fill="#08b5d0" d="M557.4 102.1 561.6 100 564.9 101.9 560.8 104.1Z"/>
<path fill="#08b5d0" d="M564.9 101.9 569.1 99.8 572.5 101.8 568.3 103.9Z"/>
<path fill="#20a5e3" d="M493.2 108.7 497.4 106.3 500.7 107.5 496.5 109.7Z"/>
<path fill="#18addb" d="M500.7 107.5 504.9 105.2 508.2 106.5 504 108.7Z"/>
<path fill="#18addb" d="M508.2 106.5 512.4 104.3 515.7 105.9 511.5 108Z"/>
<path fill="#12b1d6" d="M515.7 105.9 519.9 103.7 523.2 105.4 519 107.5Z"/>
<path fill="#12b1d6" d="M523.2 105.4 527.4 103.3 530.7 105 526.6 107.1Z"/>
<path fill="#08b5d0" d="M530.7 105 534.9 102.9 538.2 104.7 534.1 106.8Z"/>
<path fill="#08b5d0" d="M538.2 104.7 542.4 102.6 545.7 104.5 541.6 106.6Z"/>
<path fill="#08b5d0" d="M545.7 104.5 549.9 102.4 553.3 104.3 549.1 106.4Z"/>
<path fill="#08b5d0" d="M553.3 104.3 557.4 102.1 560.8 104.1 556.6 106.2Z"/>
<path fill="#08b5d0" d="M560.8 104.1 564.9 101.9 568.3 103.9 564.1 106Z"/>
<path fill="#01b8ca" d="M568.3 103.9 572.5 101.8 575.8 103.8 571.6 105.9Z"/>
<path fill="#20a5e3" d="M489 111 493.2 108.7 496.5 109.7 492.3 112Z"/>
<path fill="#18addb" d="M496.5 109.7 500.7 107.5 504 108.7 499.9 110.9Z"/>
<path fill="#12b1d6" d="M504 108.7 508.2 106.5 511.5 108 507.4 110.1Z"/>
<path fill="#12b1d6" d="M511.5 108 515.7 105.9 519 107.5 514.9 109.6Z"/>
<path fill="#08b5d0" d="M519 107.5 523.2 105.4 526.6 107.1 522.4 109.2Z"/>
<path fill="#08b5d0" d="M526.6 107.1 530.7 105 534.1 106.8 529.9 108.9Z"/>
<path fill="#08b5d0" d="M534.1 106.8 538.2 104.7 541.6 106.6 537.4 108.6Z"/>
<path fill="#08b5d0" d="M541.6 106.6 545.7 104.5 549.1 106.4 544.9 108.4Z"/>
<path fill="#01b8ca" d="M549.1 106.4 553.3 104.3 556.6 106.2 552.4 108.3Z"/>
<path fill="#01b8ca" d="M556.6 106.2 560.8 104.1 564.1 106 559.9 108.1Z"/>
<path fill="#01b8ca" d="M564.1 106 568.3 103.9 571.6 105.9 567.4 108.1Z"/>
<path fill="#01b8ca" d="M571.6 105.9 575.8 103.8 579.1 105.9 574.9 108.1Z"/>
<path fill="#20a5e3" d="M484.8 113.4 489 111 492.3 112 488.2 114.3Z"/>
<path fill="#18addb" d="M492.3 112 496.5 109.7 499.9 110.9 495.7 113.1Z"/>
<path fill="#12b1d6" d="M499.9 110.9 504 108.7 507.4 110.1 503.2 112.2Z"/>
<path fill="#08b5d0" d="M507.4 110.1 511.5 108 514.9 109.6 510.7 111.6Z"/>
<path fill="#08b5d0" d="M514.9 109.6 519 107.5 522.4 109.2 518.2 111.2Z"/>
<path fill="#08b5d0" d="M522.4 109.2 526.6 107.1 529.9 108.9 525.7 110.9Z"/>
<path fill="#01b8ca" d="M529.9 108.9 534.1 106.8 537.4 108.6 533.2 110.7Z"/>
<path fill="#01b8ca" d="M537.4 108.6 541.6 106.6 544.9 108.4 540.7 110.5Z"/>
<path fill="#01b8ca" d="M544.9 108.4 549.1 106.4 552.4 108.3 548.2 110.3Z"/>
<path fill="#01b8ca" d="M552.4 108.3 556.6 106.2 559.9 108.1 555.8 110.2Z"/>
<path fill="#01b8ca" d="M559.9 108.1 564.1 106 567.4 108.1 563.3 110.2Z"/>
<path fill="#01b8ca" d="M567.4 108.1 571.6 105.9 574.9 108.1 570.8 110.3Z"/>
<path fill="#01b8ca" d="M574.9 108.1 579.1 105.9 582.5 108.2 578.3 110.5Z"/>
<path fill="#20a5e3" d="M480.7 115.8 484.8 113.4 488.2 114.3 484 116.5Z"/>
<path fill="#18addb" d="M488.2 114.3 492.3 112 495.7 113.1 491.5 115.2Z"/>
<path fill="#12b1d6" d="M495.7 113.1 499.9 110.9 503.2 112.2 499 114.3Z"/>
<path fill="#08b5d0" d="M503.2 112.2 507.4 110.1 510.7 111.6 506.5 113.6Z"/>
<path fill="#08b5d0" d="M510.7 111.6 514.9 109.6 518.2 111.2 514 113.2Z"/>
<path fill="#01b8ca" d="M518.2 111.2 522.4 109.2 525.7 110.9 521.5 112.9Z"/>
<path fill="#01b8ca" d="M525.7 110.9 529.9 108.9 533.2 110.7 529.1 112.7Z"/>
<path fill="#01b8ca" d="M533.2 110.7 537.4 108.6 540.7 110.5 536.6 112.6Z"/>
<path fill="#01b8ca" d="M540.7 110.5 544.9 108.4 548.2 110.3 544.1 112.4Z"/>
<path fill="#01b8ca" d="M548.2 110.3 552.4 108.3 555.8 110.2 551.6 112.4Z"/>
<path fill="#01b8ca" d="M555.8 110.2 559.9 108.1 563.3 110.2 559.1 112.4Z"/>
<path fill="#01b8ca" d="M563.3 110.2 567.4 108.1 570.8 110.3 566.6 112.5Z"/>
<path fill="#01b8ca" d="M570.8 110.3 574.9 108.1 578.3 110.5 574.1 112.8Z"/>
<path fill="#01b8ca" d="M578.3 110.5 582.5 108.2 585.8 110.8 581.6 113.2Z"/>
<path fill="#20a5e3" d="M476.5 118.2 480.7 115.8 484 116.5 479.8 118.7Z"/>
<path fill="#18addb" d="M484 116.5 488.2 114.3 491.5 115.2 487.3 117.3Z"/>
<path fill="#12b1d6" d="M491.5 115.2 495.7 113.1 499 114.3 494.8 116.3Z"/>
<path fill="#08b5d0" d="M499 114.3 503.2 112.2 506.5 113.6 502.3 115.6Z"/>
<path fill="#01b8ca" d="M506.5 113.6 510.7 111.6 514 113.2 509.9 115.2Z"/>
<path fill="#01b8ca" d="M514 113.2 518.2 111.2 521.5 112.9 517.4 114.9Z"/>
<path fill="#01b8ca" d="M521.5 112.9 525.7 110.9 529.1 112.7 524.9 114.7Z"/>
<path fill="#02bac3" d="M529.1 112.7 533.2 110.7 536.6 112.6 532.4 114.6Z"/>
<path fill="#02bac3" d="M536.6 112.6 540.7 110.5 544.1 112.4 539.9 114.5Z"/>
<path fill="#02bac3" d="M544.1 112.4 548.2 110.3 551.6 112.4 547.4 114.5Z"/>
<path fill="#02bac3" d="M551.6 112.4 555.8 110.2 559.1 112.4 554.9 114.6Z"/>
<path fill="#02bac3" d="M559.1 112.4 563.3 110.2 566.6 112.5 562.4 114.7Z"/>
<path fill="#01b8ca" d="M566.6 112.5 570.8 110.3 574.1 112.8 569.9 115.1Z"/>
<path fill="#01b8ca" d="M574.1 112.8 578.3 110.5 581.6 113.2 577.4 115.5Z"/>
<path fill="#08b5d0" d="M581.6 113.2 585.8 110.8 589.1 113.7 585 116.2Z"/>
<path fill="#20a5e3" d="M472.3 120.6 476.5 118.2 479.8 118.7 475.6 120.9Z"/>
<path fill="#18addb" d="M479.8 118.7 484 116.5 487.3 117.3 483.2 119.4Z"/>
<path fill="#08b5d0" d="M487.3 117.3 491.5 115.2 494.8 116.3 490.7 118.3Z"/>
<path fill="#01b8ca" d="M494.8 116.3 499 114.3 502.3 115.6 498.2 117.6Z"/>
<path fill="#01b8ca" d="M502.3 115.6 506.5 113.6 509.9 115.2 505.7 117.2Z"/>
<path fill="#02bac3" d="M509.9 115.2 514 113.2 517.4 114.9 513.2 116.9Z"/>
<path fill="#02bac3" d="M517.4 114.9 521.5 112.9 524.9 114.7 520.7 116.7Z"/>
<path fill="#02bac3" d="M524.9 114.7 529.1 112.7 532.4 114.6 528.2 116.6Z"/>
<path fill="#02bac3" d="M532.4 114.6 536.6 112.6 539.9 114.5 535.7 116.6Z"/>
<path fill="#02bac3" d="M539.9 114.5 544.1 112.4 547.4 114.5 543.2 116.6Z"/>
<path fill="#02bac3" d="M547.4 114.5 551.6 112.4 554.9 114.6 550.7 116.7Z"/>
<path fill="#02bac3" d="M554.9 114.6 559.1 112.4 562.4 114.7 558.2 117Z"/>
<path fill="#01b8ca" d="M562.4 114.7 566.6 112.5 569.9 115.1 565.8 117.4Z"/>
<path fill="#01b8ca" d="M569.9 115.1 574.1 112.8 577.4 115.5 573.3 118Z"/>
<path fill="#08b5d0" d="M577.4 115.5 581.6 113.2 585 116.2 580.8 118.7Z"/>
<path fill="#08b5d0" d="M585 116.2 589.1 113.7 592.5 116.9 588.3 119.5Z"/>
<path fill="#20a5e3" d="M468.1 122.9 472.3 120.6 475.6 120.9 471.5 123.1Z"/>
<path fill="#18addb" d="M475.6 120.9 479.8 118.7 483.2 119.4 479 121.4Z"/>
<path fill="#08b5d0" d="M483.2 119.4 487.3 117.3 490.7 118.3 486.5 120.2Z"/>
<path fill="#01b8ca" d="M490.7 118.3 494.8 116.3 498.2 117.6 494 119.5Z"/>
<path fill="#02bac3" d="M498.2 117.6 502.3 115.6 505.7 117.2 501.5 119.1Z"/>
<path fill="#02bac3" d="M505.7 117.2 509.9 115.2 513.2 116.9 509 118.8Z"/>
<path fill="#02bac3" d="M513.2 116.9 517.4 114.9 520.7 116.7 516.5 118.7Z"/>
<path fill="#02bac3" d="M520.7 116.7 524.9 114.7 528.2 116.6 524 118.6Z"/>
<path fill="#02bac3" d="M528.2 116.6 532.4 114.6 535.7 116.6 531.5 118.6Z"/>
<path fill="#02bac3" d="M535.7 116.6 539.9 114.5 543.2 116.6 539.1 118.7Z"/>
<path fill="#02bac3" d="M543.2 116.6 547.4 114.5 550.7 116.7 546.6 118.9Z"/>
<path fill="#02bac3" d="M550.7 116.7 554.9 114.6 558.2 117 554.1 119.3Z"/>
<path fill="#02bac3" d="M558.2 117 562.4 114.7 565.8 117.4 561.6 119.7Z"/>
<path fill="#01b8ca" d="M565.8 117.4 569.9 115.1 573.3 118 569.1 120.4Z"/>
<path fill="#08b5d0" d="M573.3 118 577.4 115.5 580.8 118.7 576.6 121.2Z"/>
<path fill="#08b5d0" d="M580.8 118.7 585 116.2 588.3 119.5 584.1 122.1Z"/>
<path fill="#12b1d6" d="M588.3 119.5 592.5 116.9 595.8 120.4 591.6 123Z"/>
<path fill="#20a5e3" d="M464 125.3 468.1 122.9 471.5 123.1 467.3 125.3Z"/>
<path fill="#12b1d6" d="M471.5 123.1 475.6 120.9 479 121.4 474.8 123.4Z"/>
<path fill="#08b5d0" d="M479 121.4 483.2 119.4 486.5 120.2 482.3 122.2Z"/>
<path fill="#01b8ca" d="M486.5 120.2 490.7 118.3 494 119.5 489.8 121.4Z"/>
<path fill="#02bac3" d="M494 119.5 498.2 117.6 501.5 119.1 497.3 120.9Z"/>
<path fill="#0bbdbd" d="M501.5 119.1 505.7 117.2 509 118.8 504.8 120.7Z"/>
<path fill="#0bbdbd" d="M509 118.8 513.2 116.9 516.5 118.7 512.4 120.6Z"/>
<path fill="#0bbdbd" d="M516.5 118.7 520.7 116.7 524 118.6 519.9 120.6Z"/>
<path fill="#0bbdbd" d="M524 118.6 528.2 116.6 531.5 118.6 527.4 120.7Z"/>
<path fill="#0bbdbd" d="M531.5 118.6 535.7 116.6 539.1 118.7 534.9 120.8Z"/>
<path fill="#02bac3" d="M539.1 118.7 543.2 116.6 546.6 118.9 542.4 121.1Z"/>
<path fill="#02bac3" d="M546.6 118.9 550.7 116.7 554.1 119.3 549.9 121.6Z"/>
<path fill="#02bac3" d="M554.1 119.3 558.2 117 561.6 119.7 557.4 122.1Z"/>
<path fill="#01b8ca" d="M561.6 119.7 565.8 117.4 569.1 120.4 564.9 122.9Z"/>
<path fill="#08b5d0" d="M569.1 120.4 573.3 118 576.6 121.2 572.4 123.7Z"/>
<path fill="#12b1d6" d="M576.6 121.2 580.8 118.7 584.1 122.1 579.9 124.7Z"/>
<path fill="#18addb" d="M584.1 122.1 588.3 119.5 591.6 123 587.4 125.7Z"/>
<path fill="#1ca9df" d="M591.6 123 595.8 120.4 599.1 124 595 126.7Z"/>
<path fill="#20a5e3" d="M459.8 127.7 464 125.3 467.3 125.3 463.1 127.5Z"/>
<path fill="#12b1d6" d="M467.3 125.3 471.5 123.1 474.8 123.4 470.6 125.4Z"/>
<path fill="#01b8ca" d="M474.8 123.4 479 121.4 482.3 122.2 478.1 124Z"/>
<path fill="#02bac3" d="M482.3 122.2 486.5 120.2 489.8 121.4 485.7 123.2Z"/>
<path fill="#0bbdbd" d="M489.8 121.4 494 119.5 497.3 120.9 493.2 122.8Z"/>
<path fill="#0bbdbd" d="M497.3 120.9 501.5 119.1 504.8 120.7 500.7 122.6Z"/>
<path fill="#0bbdbd" d="M504.8 120.7 509 118.8 512.4 120.6 508.2 122.5Z"/>
<path fill="#0bbdbd" d="M512.4 120.6 516.5 118.7 519.9 120.6 515.7 122.6Z"/>
<path fill="#0bbdbd" d="M519.9 120.6 524 118.6 527.4 120.7 523.2 122.7Z"/>
<path fill="#0bbdbd" d="M527.4 120.7 531.5 118.6 534.9 120.8 530.7 123Z"/>
<path fill="#0bbdbd" d="M534.9 120.8 539.1 118.7 542.4 121.1 538.2 123.3Z"/>
<path fill="#02bac3" d="M542.4 121.1 546.6 118.9 549.9 121.6 545.7 123.9Z"/>
<path fill="#02bac3" d="M549.9 121.6 554.1 119.3 557.4 122.1 553.2 124.5Z"/>
<path fill="#01b8ca" d="M557.4 122.1 561.6 119.7 564.9 122.9 560.7 125.4Z"/>
<path fill="#08b5d0" d="M564.9 122.9 569.1 120.4 572.4 123.7 568.3 126.3Z"/>
<path fill="#12b1d6" d="M572.4 123.7 576.6 121.2 579.9 124.7 575.8 127.4Z"/>
<path fill="#18addb" d="M579.9 124.7 584.1 122.1 587.4 125.7 583.3 128.5Z"/>
<path fill="#1ca9df" d="M587.4 125.7 591.6 123 595 126.7 590.8 129.5Z"/>
<path fill="#20a5e3" d="M595 126.7 599.1 124 602.5 127.7 598.3 130.4Z"/>
<path fill="#20a5e3" d="M455.6 130.1 459.8 127.7 463.1 127.5 458.9 129.6Z"/>
<path fill="#12b1d6" d="M463.1 127.5 467.3 125.3 470.6 125.4 466.5 127.4Z"/>
<path fill="#01b8ca" d="M470.6 125.4 474.8 123.4 478.1 124 474 125.9Z"/>
<path fill="#02bac3" d="M478.1 124 482.3 122.2 485.7 123.2 481.5 125Z"/>
<path fill="#0bbdbd" d="M485.7 123.2 489.8 121.4 493.2 122.8 489 124.5Z"/>
<path fill="#19bfb6" d="M493.2 122.8 497.3 120.9 500.7 122.6 496.5 124.4Z"/>
<path fill="#19bfb6" d="M500.7 122.6 504.8 120.7 508.2 122.5 504 124.4Z"/>
<path fill="#19bfb6" d="M508.2 122.5 512.4 120.6 515.7 122.6 511.5 124.5Z"/>
<path fill="#19bfb6" d="M515.7 122.6 519.9 120.6 523.2 122.7 519 124.8Z"/>
<path fill="#0bbdbd" d="M523.2 122.7 527.4 120.7 530.7 123 526.5 125.1Z"/>
<path fill="#0bbdbd" d="M530.7 123 534.9 120.8 538.2 123.3 534 125.6Z"/>
<path fill="#0bbdbd" d="M538.2 123.3 542.4 121.1 545.7 123.9 541.6 126.2Z"/>
<path fill="#02bac3" d="M545.7 123.9 549.9 121.6 553.2 124.5 549.1 127Z"/>
<path fill="#01b8ca" d="M553.2 124.5 557.4 122.1 560.7 125.4 556.6 127.9Z"/>
<path fill="#08b5d0" d="M560.7 125.4 564.9 122.9 568.3 126.3 564.1 129Z"/>
<path fill="#12b1d6" d="M568.3 126.3 572.4 123.7 575.8 127.4 571.6 130.1Z"/>
<path fill="#18addb" d="M575.8 127.4 579.9 124.7 583.3 128.5 579.1 131.2Z"/>
<path fill="#1ca9df" d="M583.3 128.5 587.4 125.7 590.8 129.5 586.6 132.3Z"/>
<path fill="#23a0e5" d="M590.8 129.5 595 126.7 598.3 130.4 594.1 133.2Z"/>
<path fill="#259be8" d="M598.3 130.4 602.5 127.7 605.8 131.2 601.6 133.9Z"/>
<path fill="#20a5e3" d="M451.4 132.5 455.6 130.1 458.9 129.6 454.8 131.7Z"/>
<path fill="#12b1d6" d="M458.9 129.6 463.1 127.5 466.5 127.4 462.3 129.3Z"/>
<path fill="#02bac3" d="M466.5 127.4 470.6 125.4 474 125.9 469.8 127.6Z"/>
<path fill="#0bbdbd" d="M474 125.9 478.1 124 481.5 125 477.3 126.7Z"/>
<path fill="#19bfb6" d="M481.5 125 485.7 123.2 489 124.5 484.8 126.3Z"/>
<path fill="#19bfb6" d="M489 124.5 493.2 122.8 496.5 124.4 492.3 126.2Z"/>
<path fill="#19bfb6" d="M496.5 124.4 500.7 122.6 504 124.4 499.8 126.2Z"/>
<path fill="#19bfb6" d="M504 124.4 508.2 122.5 511.5 124.5 507.3 126.5Z"/>
<path fill="#19bfb6" d="M511.5 124.5 515.7 122.6 519 124.8 514.8 126.8Z"/>
<path fill="#19bfb6" d="M519 124.8 523.2 122.7 526.5 125.1 522.4 127.2Z"/>
<path fill="#0bbdbd" d="M526.5 125.1 530.7 123 534 125.6 529.9 127.8Z"/>
<path fill="#0bbdbd" d="M534 125.6 538.2 123.3 541.6 126.2 537.4 128.6Z"/>
<path fill="#02bac3" d="M541.6 126.2 545.7 123.9 549.1 127 544.9 129.5Z"/>
<path fill="#01b8ca" d="M549.1 127 553.2 124.5 556.6 127.9 552.4 130.5Z"/>
<path fill="#08b5d0" d="M556.6 127.9 560.7 125.4 564.1 129 559.9 131.6Z"/>
<path fill="#12b1d6" d="M564.1 129 568.3 126.3 571.6 130.1 567.4 132.8Z"/>
<path fill="#1ca9df" d="M571.6 130.1 575.8 127.4 579.1 131.2 574.9 134Z"/>
<path fill="#20a5e3" d="M579.1 131.2 583.3 128.5 586.6 132.3 582.4 135.1Z"/>
<path fill="#23a0e5" d="M586.6 132.3 590.8 129.5 594.1 133.2 589.9 136Z"/>
<path fill="#259be8" d="M594.1 133.2 598.3 130.4 601.6 133.9 597.5 136.7Z"/>
<path fill="#2797eb" d="M601.6 133.9 605.8 131.2 609.1 134.4 605 137.2Z"/>
<path fill="#20a5e3" d="M447.3 134.9 451.4 132.5 454.8 131.7 450.6 133.8Z"/>
<path fill="#08b5d0" d="M454.8 131.7 458.9 129.6 462.3 129.3 458.1 131.2Z"/>
<path fill="#02bac3" d="M462.3 129.3 466.5 127.4 469.8 127.6 465.6 129.4Z"/>
<path fill="#19bfb6" d="M469.8 127.6 474 125.9 477.3 126.7 473.1 128.4Z"/>
<path fill="#24c1ae" d="M477.3 126.7 481.5 125 484.8 126.3 480.6 127.9Z"/>
<path fill="#24c1ae" d="M484.8 126.3 489 124.5 492.3 126.2 488.1 127.9Z"/>
<path fill="#24c1ae" d="M492.3 126.2 496.5 124.4 499.8 126.2 495.7 128Z"/>
<path fill="#24c1ae" d="M499.8 126.2 504 124.4 507.3 126.5 503.2 128.4Z"/>
<path fill="#24c1ae" d="M507.3 126.5 511.5 124.5 514.8 126.8 510.7 128.8Z"/>
<path fill="#19bfb6" d="M514.8 126.8 519 124.8 522.4 127.2 518.2 129.4Z"/>
<path fill="#0bbdbd" d="M522.4 127.2 526.5 125.1 529.9 127.8 525.7 130.1Z"/>
<path fill="#0bbdbd" d="M529.9 127.8 534 125.6 537.4 128.6 533.2 131Z"/>
<path fill="#02bac3" d="M537.4 128.6 541.6 126.2 544.9 129.5 540.7 132Z"/>
<path fill="#01b8ca" d="M544.9 129.5 549.1 127 552.4 130.5 548.2 133.1Z"/>
<path fill="#08b5d0" d="M552.4 130.5 556.6 127.9 559.9 131.6 555.7 134.4Z"/>
<path fill="#18addb" d="M559.9 131.6 564.1 129 567.4 132.8 563.2 135.6Z"/>
<path fill="#1ca9df" d="M567.4 132.8 571.6 130.1 574.9 134 570.7 136.9Z"/>
<path fill="#20a5e3" d="M574.9 134 579.1 131.2 582.4 135.1 578.3 138Z"/>
<path fill="#259be8" d="M582.4 135.1 586.6 132.3 589.9 136 585.8 138.9Z"/>
<path fill="#2797eb" d="M589.9 136 594.1 133.2 597.5 136.7 593.3 139.5Z"/>
<path fill="#2797eb" d="M597.5 136.7 601.6 133.9 605 137.2 600.8 139.9Z"/>
<path fill="#2b91ef" d="M605 137.2 609.1 134.4 612.5 137.4 608.3 140.1Z"/>
<path fill="#20a5e3" d="M443.1 137.2 447.3 134.9 450.6 133.8 446.4 135.9Z"/>
<path fill="#08b5d0" d="M450.6 133.8 454.8 131.7 458.1 131.2 453.9 133Z"/>
<path fill="#0bbdbd" d="M458.1 131.2 462.3 129.3 465.6 129.4 461.4 131Z"/>
<path fill="#19bfb6" d="M465.6 129.4 469.8 127.6 473.1 128.4 469 129.9Z"/>
<path fill="#24c1ae" d="M473.1 128.4 477.3 126.7 480.6 127.9 476.5 129.5Z"/>
<path fill="#2cc4a7" d="M480.6 127.9 484.8 126.3 488.1 127.9 484 129.6Z"/>
<path fill="#2cc4a7" d="M488.1 127.9 492.3 126.2 495.7 128 491.5 129.8Z"/>
<path fill="#24c1ae" d="M495.7 128 499.8 126.2 503.2 128.4 499 130.3Z"/>
<path fill="#24c1ae" d="M503.2 128.4 507.3 126.5 510.7 128.8 506.5 130.9Z"/>
<path fill="#19bfb6" d="M510.7 128.8 514.8 126.8 518.2 129.4 514 131.6Z"/>
<path fill="#19bfb6" d="M518.2 129.4 522.4 127.2 525.7 130.1 521.5 132.4Z"/>
<path fill="#0bbdbd" d="M525.7 130.1 529.9 127.8 533.2 131 529 133.4Z"/>
<path fill="#02bac3" d="M533.2 131 537.4 128.6 540.7 132 536.5 134.5Z"/>
<path fill="#01b8ca" d="M540.7 132 544.9 129.5 548.2 133.1 544 135.8Z"/>
<path fill="#12b1d6" d="M548.2 133.1 552.4 130.5 555.7 134.4 551.6 137.1Z"/>
<path fill="#18addb" d="M555.7 134.4 559.9 131.6 563.2 135.6 559.1 138.5Z"/>
<path fill="#1ca9df" d="M563.2 135.6 567.4 132.8 570.7 136.9 566.6 139.7Z"/>
<path fill="#23a0e5" d="M570.7 136.9 574.9 134 578.3 138 574.1 140.8Z"/>
<path fill="#259be8" d="M578.3 138 582.4 135.1 585.8 138.9 581.6 141.7Z"/>
<path fill="#2797eb" d="M585.8 138.9 589.9 136 593.3 139.5 589.1 142.3Z"/>
<path fill="#2b91ef" d="M593.3 139.5 597.5 136.7 600.8 139.9 596.6 142.7Z"/>
<path fill="#2b91ef" d="M600.8 139.9 605 137.2 608.3 140.1 604.1 142.8Z"/>
<path fill="#2d8cf3" d="M608.3 140.1 612.5 137.4 615.8 140.1 611.6 142.7Z"/>
<path fill="#20a5e3" d="M438.9 139.6 443.1 137.2 446.4 135.9 442.3 137.9Z"/>
<path fill="#08b5d0" d="M446.4 135.9 450.6 133.8 453.9 133 449.8 134.7Z"/>
<path fill="#0bbdbd" d="M453.9 133 458.1 131.2 461.4 131 457.3 132.6Z"/>
<path fill="#24c1ae" d="M461.4 131 465.6 129.4 469 129.9 464.8 131.5Z"/>
<path fill="#2cc4a7" d="M469 129.9 473.1 128.4 476.5 129.5 472.3 131.1Z"/>
<path fill="#31c69f" d="M476.5 129.5 480.6 127.9 484 129.6 479.8 131.2Z"/>
<path fill="#2cc4a7" d="M484 129.6 488.1 127.9 491.5 129.8 487.3 131.6Z"/>
<path fill="#2cc4a7" d="M491.5 129.8 495.7 128 499 130.3 494.8 132.2Z"/>
<path fill="#24c1ae" d="M499 130.3 503.2 128.4 506.5 130.9 502.3 132.9Z"/>
<path fill="#24c1ae" d="M506.5 130.9 510.7 128.8 514 131.6 509.8 133.8Z"/>
<path fill="#19bfb6" d="M514 131.6 518.2 129.4 521.5 132.4 517.3 134.8Z"/>
<path fill="#0bbdbd" d="M521.5 132.4 525.7 130.1 529 133.4 524.9 135.9Z"/>
<path fill="#02bac3" d="M529 133.4 533.2 131 536.5 134.5 532.4 137.1Z"/>
<path fill="#01b8ca" d="M536.5 134.5 540.7 132 544 135.8 539.9 138.5Z"/>
<path fill="#12b1d6" d="M544 135.8 548.2 133.1 551.6 137.1 547.4 139.9Z"/>
<path fill="#18addb" d="M551.6 137.1 555.7 134.4 559.1 138.5 554.9 141.3Z"/>
<path fill="#20a5e3" d="M559.1 138.5 563.2 135.6 566.6 139.7 562.4 142.6Z"/>
<path fill="#23a0e5" d="M566.6 139.7 570.7 136.9 574.1 140.8 569.9 143.7Z"/>
<path fill="#2797eb" d="M574.1 140.8 578.3 138 581.6 141.7 577.4 144.6Z"/>
<path fill="#2b91ef" d="M581.6 141.7 585.8 138.9 589.1 142.3 584.9 145.1Z"/>
<path fill="#2b91ef" d="M589.1 142.3 593.3 139.5 596.6 142.7 592.4 145.5Z"/>
<path fill="#2d8cf3" d="M596.6 142.7 600.8 139.9 604.1 142.8 599.9 145.5Z"/>
<path fill="#2d8cf3" d="M604.1 142.8 608.3 140.1 611.6 142.7 607.5 145.4Z"/>
<path fill="#2d8cf3" d="M611.6 142.7 615.8 140.1 619.1 142.4 615 145Z"/>
<path fill="#20a5e3" d="M434.7 142 438.9 139.6 442.3 137.9 438.1 139.9Z"/>
<path fill="#08b5d0" d="M442.3 137.9 446.4 135.9 449.8 134.7 445.6 136.4Z"/>
<path fill="#19bfb6" d="M449.8 134.7 453.9 133 457.3 132.6 453.1 134.1Z"/>
<path fill="#2cc4a7" d="M457.3 132.6 461.4 131 464.8 131.5 460.6 132.9Z"/>
<path fill="#31c69f" d="M464.8 131.5 469 129.9 472.3 131.1 468.1 132.6Z"/>
<path fill="#31c69f" d="M472.3 131.1 476.5 129.5 479.8 131.2 475.6 132.7Z"/>
<path fill="#31c69f" d="M479.8 131.2 484 129.6 487.3 131.6 483.1 133.3Z"/>
<path fill="#31c69f" d="M487.3 131.6 491.5 129.8 494.8 132.2 490.6 134Z"/>
<path fill="#2cc4a7" d="M494.8 132.2 499 130.3 502.3 132.9 498.2 134.9Z"/>
<path fill="#24c1ae" d="M502.3 132.9 506.5 130.9 509.8 133.8 505.7 136Z"/>
<path fill="#19bfb6" d="M509.8 133.8 514 131.6 517.3 134.8 513.2 137.1Z"/>
<path fill="#0bbdbd" d="M517.3 134.8 521.5 132.4 524.9 135.9 520.7 138.4Z"/>
<path fill="#02bac3" d="M524.9 135.9 529 133.4 532.4 137.1 528.2 139.8Z"/>
<path fill="#08b5d0" d="M532.4 137.1 536.5 134.5 539.9 138.5 535.7 141.3Z"/>
<path fill="#12b1d6" d="M539.9 138.5 544 135.8 547.4 139.9 543.2 142.8Z"/>
<path fill="#1ca9df" d="M547.4 139.9 551.6 137.1 554.9 141.3 550.7 144.2Z"/>
<path fill="#20a5e3" d="M554.9 141.3 559.1 138.5 562.4 142.6 558.2 145.5Z"/>
<path fill="#259be8" d="M562.4 142.6 566.6 139.7 569.9 143.7 565.7 146.6Z"/>
<path fill="#2797eb" d="M569.9 143.7 574.1 140.8 577.4 144.6 573.2 147.4Z"/>
<path fill="#2b91ef" d="M577.4 144.6 581.6 141.7 584.9 145.1 580.8 148Z"/>
<path fill="#2d8cf3" d="M584.9 145.1 589.1 142.3 592.4 145.5 588.3 148.2Z"/>
<path fill="#2d8cf3" d="M592.4 145.5 596.6 142.7 599.9 145.5 595.8 148.2Z"/>
<path fill="#2d8cf3" d="M599.9 145.5 604.1 142.8 607.5 145.4 603.3 148Z"/>
<path fill="#2d8cf3" d="M607.5 145.4 611.6 142.7 615 145 610.8 147.5Z"/>
<path fill="#2d8cf3" d="M615 145 619.1 142.4 622.5 144.4 618.3 146.8Z"/>
<path fill="#20a5e3" d="M430.6 144.4 434.7 142 438.1 139.9 433.9 141.9Z"/>
<path fill="#01b8ca" d="M438.1 139.9 442.3 137.9 445.6 136.4 441.4 138.1Z"/>
<path fill="#24c1ae" d="M445.6 136.4 449.8 134.7 453.1 134.1 448.9 135.5Z"/>
<path fill="#31c69f" d="M453.1 134.1 457.3 132.6 460.6 132.9 456.4 134.2Z"/>
<path fill="#37c897" d="M460.6 132.9 464.8 131.5 468.1 132.6 463.9 133.9Z"/>
<path fill="#37c897" d="M468.1 132.6 472.3 131.1 475.6 132.7 471.4 134.2Z"/>
<path fill="#37c897" d="M475.6 132.7 479.8 131.2 483.1 133.3 479 134.9Z"/>
<path fill="#31c69f" d="M483.1 133.3 487.3 131.6 490.6 134 486.5 135.9Z"/>
<path fill="#31c69f" d="M490.6 134 494.8 132.2 498.2 134.9 494 137Z"/>
<path fill="#24c1ae" d="M498.2 134.9 502.3 132.9 505.7 136 501.5 138.2Z"/>
<path fill="#19bfb6" d="M505.7 136 509.8 133.8 513.2 137.1 509 139.5Z"/>
<path fill="#0bbdbd" d="M513.2 137.1 517.3 134.8 520.7 138.4 516.5 141Z"/>
<path fill="#02bac3" d="M520.7 138.4 524.9 135.9 528.2 139.8 524 142.5Z"/>
<path fill="#08b5d0" d="M528.2 139.8 532.4 137.1 535.7 141.3 531.5 144.1Z"/>
<path fill="#18addb" d="M535.7 141.3 539.9 138.5 543.2 142.8 539 145.7Z"/>
<path fill="#1ca9df" d="M543.2 142.8 547.4 139.9 550.7 144.2 546.5 147.2Z"/>
<path fill="#23a0e5" d="M550.7 144.2 554.9 141.3 558.2 145.5 554.1 148.5Z"/>
<path fill="#259be8" d="M558.2 145.5 562.4 142.6 565.7 146.6 561.6 149.5Z"/>
<path fill="#2b91ef" d="M565.7 146.6 569.9 143.7 573.2 147.4 569.1 150.3Z"/>
<path fill="#2d8cf3" d="M573.2 147.4 577.4 144.6 580.8 148 576.6 150.8Z"/>
<path fill="#2d8cf3" d="M580.8 148 584.9 145.1 588.3 148.2 584.1 151Z"/>
<path fill="#2e87f7" d="M588.3 148.2 592.4 145.5 595.8 148.2 591.6 150.9Z"/>
<path fill="#2e87f7" d="M595.8 148.2 599.9 145.5 603.3 148 599.1 150.6Z"/>
<path fill="#2e87f7" d="M603.3 148 607.5 145.4 610.8 147.5 606.6 150Z"/>
<path fill="#2d8cf3" d="M610.8 147.5 615 145 618.3 146.8 614.1 149.3Z"/>
<path fill="#2b91ef" d="M618.3 146.8 622.5 144.4 625.8 146 621.6 148.4Z"/>
<path fill="#20a5e3" d="M426.4 146.8 430.6 144.4 433.9 141.9 429.7 143.8Z"/>
<path fill="#01b8ca" d="M433.9 141.9 438.1 139.9 441.4 138.1 437.2 139.6Z"/>
<path fill="#24c1ae" d="M441.4 138.1 445.6 136.4 448.9 135.5 444.7 136.8Z"/>
<path fill="#37c897" d="M448.9 135.5 453.1 134.1 456.4 134.2 452.3 135.5Z"/>
<path fill="#3fca8e" d="M456.4 134.2 460.6 132.9 463.9 133.9 459.8 135.2Z"/>
<path fill="#3fca8e" d="M463.9 133.9 468.1 132.6 471.4 134.2 467.3 135.7Z"/>
<path fill="#3fca8e" d="M471.4 134.2 475.6 132.7 479 134.9 474.8 136.6Z"/>
<path fill="#37c897" d="M479 134.9 483.1 133.3 486.5 135.9 482.3 137.7Z"/>
<path fill="#31c69f" d="M486.5 135.9 490.6 134 494 137 489.8 139Z"/>
<path fill="#2cc4a7" d="M494 137 498.2 134.9 501.5 138.2 497.3 140.5Z"/>
<path fill="#19bfb6" d="M501.5 138.2 505.7 136 509 139.5 504.8 142Z"/>
<path fill="#0bbdbd" d="M509 139.5 513.2 137.1 516.5 141 512.3 143.6Z"/>
<path fill="#01b8ca" d="M516.5 141 520.7 138.4 524 142.5 519.8 145.3Z"/>
<path fill="#08b5d0" d="M524 142.5 528.2 139.8 531.5 144.1 527.3 147Z"/>
<path fill="#18addb" d="M531.5 144.1 535.7 141.3 539 145.7 534.9 148.6Z"/>
<path fill="#20a5e3" d="M539 145.7 543.2 142.8 546.5 147.2 542.4 150.2Z"/>
<path fill="#259be8" d="M546.5 147.2 550.7 144.2 554.1 148.5 549.9 151.5Z"/>
<path fill="#2797eb" d="M554.1 148.5 558.2 145.5 561.6 149.5 557.4 152.5Z"/>
<path fill="#2b91ef" d="M561.6 149.5 565.7 146.6 569.1 150.3 564.9 153.2Z"/>
<path fill="#2d8cf3" d="M569.1 150.3 573.2 147.4 576.6 150.8 572.4 153.6Z"/>
<path fill="#2e87f7" d="M576.6 150.8 580.8 148 584.1 151 579.9 153.8Z"/>
<path fill="#2e87f7" d="M584.1 151 588.3 148.2 591.6 150.9 587.4 153.6Z"/>
<path fill="#2e87f7" d="M591.6 150.9 595.8 148.2 599.1 150.6 594.9 153.2Z"/>
<path fill="#2e87f7" d="M599.1 150.6 603.3 148 606.6 150 602.4 152.5Z"/>
<path fill="#2d8cf3" d="M606.6 150 610.8 147.5 614.1 149.3 610 151.7Z"/>
<path fill="#2d8cf3" d="M614.1 149.3 618.3 146.8 621.6 148.4 617.5 150.7Z"/>
<path fill="#2b91ef" d="M621.6 148.4 625.8 146 629.1 147.4 625 149.6Z"/>
<path fill="#20a5e3" d="M422.2 149.2 426.4 146.8 429.7 143.8 425.6 145.7Z"/>
<path fill="#02bac3" d="M429.7 143.8 433.9 141.9 437.2 139.6 433.1 141.1Z"/>
<path fill="#2cc4a7" d="M437.2 139.6 441.4 138.1 444.7 136.8 440.6 138.1Z"/>
<path fill="#3fca8e" d="M444.7 136.8 448.9 135.5 452.3 135.5 448.1 136.6Z"/>
<path fill="#4acb84" d="M452.3 135.5 456.4 134.2 459.8 135.2 455.6 136.5Z"/>
<path fill="#57cc7a" d="M459.8 135.2 463.9 133.9 467.3 135.7 463.1 137Z"/>
<path fill="#4acb84" d="M467.3 135.7 471.4 134.2 474.8 136.6 470.6 138.1Z"/>
<path fill="#3fca8e" d="M474.8 136.6 479 134.9 482.3 137.7 478.1 139.5Z"/>
<path fill="#37c897" d="M482.3 137.7 486.5 135.9 489.8 139 485.6 141.1Z"/>
<path fill="#2cc4a7" d="M489.8 139 494 137 497.3 140.5 493.1 142.7Z"/>
<path fill="#24c1ae" d="M497.3 140.5 501.5 138.2 504.8 142 500.6 144.5Z"/>
<path fill="#0bbdbd" d="M504.8 142 509 139.5 512.3 143.6 508.2 146.3Z"/>
<path fill="#01b8ca" d="M512.3 143.6 516.5 141 519.8 145.3 515.7 148.1Z"/>
<path fill="#12b1d6" d="M519.8 145.3 524 142.5 527.3 147 523.2 149.9Z"/>
<path fill="#1ca9df" d="M527.3 147 531.5 144.1 534.9 148.6 530.7 151.6Z"/>
<path fill="#20a5e3" d="M534.9 148.6 539 145.7 542.4 150.2 538.2 153.2Z"/>
<path fill="#259be8" d="M542.4 150.2 546.5 147.2 549.9 151.5 545.7 154.4Z"/>
<path fill="#2b91ef" d="M549.9 151.5 554.1 148.5 557.4 152.5 553.2 155.4Z"/>
<path fill="#2d8cf3" d="M557.4 152.5 561.6 149.5 564.9 153.2 560.7 156.1Z"/>
<path fill="#2e87f7" d="M564.9 153.2 569.1 150.3 572.4 153.6 568.2 156.4Z"/>
<path fill="#2e87f7" d="M572.4 153.6 576.6 150.8 579.9 153.8 575.7 156.5Z"/>
<path fill="#2e87f7" d="M579.9 153.8 584.1 151 587.4 153.6 583.2 156.3Z"/>
<path fill="#2e87f7" d="M587.4 153.6 591.6 150.9 594.9 153.2 590.8 155.7Z"/>
<path fill="#2e87f7" d="M594.9 153.2 599.1 150.6 602.4 152.5 598.3 155Z"/>
<path fill="#2d8cf3" d="M602.4 152.5 606.6 150 610 151.7 605.8 154Z"/>
<path fill="#2d8cf3" d="M610 151.7 614.1 149.3 617.5 150.7 613.3 153Z"/>
<path fill="#2b91ef" d="M617.5 150.7 621.6 148.4 625 149.6 620.8 151.9Z"/>
<path fill="#2797eb" d="M625 149.6 629.1 147.4 632.5 148.6 628.3 150.8Z"/>
<path fill="#20a5e3" d="M418 151.6 422.2 149.2 425.6 145.7 421.4 147.6Z"/>
<path fill="#02bac3" d="M425.6 145.7 429.7 143.8 433.1 141.1 428.9 142.5Z"/>
<path fill="#31c69f" d="M433.1 141.1 437.2 139.6 440.6 138.1 436.4 139.2Z"/>
<path fill="#4acb84" d="M440.6 138.1 444.7 136.8 448.1 136.6 443.9 137.7Z"/>
<path fill="#64cd6f" d="M448.1 136.6 452.3 135.5 455.6 136.5 451.4 137.6Z"/>
<path fill="#64cd6f" d="M455.6 136.5 459.8 135.2 463.1 137 458.9 138.3Z"/>
<path fill="#57cc7a" d="M463.1 137 467.3 135.7 470.6 138.1 466.4 139.7Z"/>
<path fill="#4acb84" d="M470.6 138.1 474.8 136.6 478.1 139.5 473.9 141.3Z"/>
<path fill="#37c897" d="M478.1 139.5 482.3 137.7 485.6 141.1 481.5 143.2Z"/>
<path fill="#31c69f" d="M485.6 141.1 489.8 139 493.1 142.7 489 145.1Z"/>
<path fill="#24c1ae" d="M493.1 142.7 497.3 140.5 500.6 144.5 496.5 147Z"/>
<path fill="#0bbdbd" d="M500.6 144.5 504.8 142 508.2 146.3 504 149Z"/>
<path fill="#01b8ca" d="M508.2 146.3 512.3 143.6 515.7 148.1 511.5 150.9Z"/>
<path fill="#12b1d6" d="M515.7 148.1 519.8 145.3 523.2 149.9 519 152.9Z"/>
<path fill="#1ca9df" d="M523.2 149.9 527.3 147 530.7 151.6 526.5 154.6Z"/>
<path fill="#23a0e5" d="M530.7 151.6 534.9 148.6 538.2 153.2 534 156.2Z"/>
<path fill="#2797eb" d="M538.2 153.2 542.4 150.2 545.7 154.4 541.5 157.4Z"/>
<path fill="#2b91ef" d="M545.7 154.4 549.9 151.5 553.2 155.4 549 158.4Z"/>
<path fill="#2d8cf3" d="M553.2 155.4 557.4 152.5 560.7 156.1 556.5 159Z"/>
<path fill="#2e87f7" d="M560.7 156.1 564.9 153.2 568.2 156.4 564.1 159.3Z"/>
<path fill="#2f81fa" d="M568.2 156.4 572.4 153.6 575.7 156.5 571.6 159.2Z"/>
<path fill="#2f81fa" d="M575.7 156.5 579.9 153.8 583.2 156.3 579.1 158.9Z"/>
<path fill="#2f81fa" d="M583.2 156.3 587.4 153.6 590.8 155.7 586.6 158.3Z"/>
<path fill="#2e87f7" d="M590.8 155.7 594.9 153.2 598.3 155 594.1 157.4Z"/>
<path fill="#2d8cf3" d="M598.3 155 602.4 152.5 605.8 154 601.6 156.4Z"/>
<path fill="#2d8cf3" d="M605.8 154 610 151.7 613.3 153 609.1 155.2Z"/>
<path fill="#2b91ef" d="M613.3 153 617.5 150.7 620.8 151.9 616.6 154.1Z"/>
<path fill="#259be8" d="M620.8 151.9 625 149.6 628.3 150.8 624.1 152.9Z"/>
<path fill="#23a0e5" d="M628.3 150.8 632.5 148.6 635.8 149.7 631.6 151.8Z"/>
<path fill="#20a5e3" d="M413.9 154 418 151.6 421.4 147.6 417.2 149.3Z"/>
<path fill="#0bbdbd" d="M421.4 147.6 425.6 145.7 428.9 142.5 424.7 143.8Z"/>
<path fill="#37c897" d="M428.9 142.5 433.1 141.1 436.4 139.2 432.2 140.2Z"/>
<path fill="#64cd6f" d="M436.4 139.2 440.6 138.1 443.9 137.7 439.7 138.6Z"/>
<path fill="#72cd64" d="M443.9 137.7 448.1 136.6 451.4 137.6 447.2 138.6Z"/>
<path fill="#72cd64" d="M451.4 137.6 455.6 136.5 458.9 138.3 454.8 139.5Z"/>
<path fill="#64cd6f" d="M458.9 138.3 463.1 137 466.4 139.7 462.3 141.2Z"/>
<path fill="#57cc7a" d="M466.4 139.7 470.6 138.1 473.9 141.3 469.8 143.1Z"/>
<path fill="#3fca8e" d="M473.9 141.3 478.1 139.5 481.5 143.2 477.3 145.2Z"/>
<path fill="#31c69f" d="M481.5 143.2 485.6 141.1 489 145.1 484.8 147.4Z"/>
<path fill="#24c1ae" d="M489 145.1 493.1 142.7 496.5 147 492.3 149.6Z"/>
<path fill="#0bbdbd" d="M496.5 147 500.6 144.5 504 149 499.8 151.7Z"/>
<path fill="#08b5d0" d="M504 149 508.2 146.3 511.5 150.9 507.3 153.9Z"/>
<path fill="#18addb" d="M511.5 150.9 515.7 148.1 519 152.9 514.8 155.9Z"/>
<path fill="#20a5e3" d="M519 152.9 523.2 149.9 526.5 154.6 522.3 157.7Z"/>
<path fill="#259be8" d="M526.5 154.6 530.7 151.6 534 156.2 529.8 159.3Z"/>
<path fill="#2b91ef" d="M534 156.2 538.2 153.2 541.5 157.4 537.4 160.5Z"/>
<path fill="#2d8cf3" d="M541.5 157.4 545.7 154.4 549 158.4 544.9 161.3Z"/>
<path fill="#2e87f7" d="M549 158.4 553.2 155.4 556.5 159 552.4 161.9Z"/>
<path fill="#2f81fa" d="M556.5 159 560.7 156.1 564.1 159.3 559.9 162.1Z"/>
<path fill="#2f81fa" d="M564.1 159.3 568.2 156.4 571.6 159.2 567.4 161.9Z"/>
<path fill="#2f81fa" d="M571.6 159.2 575.7 156.5 579.1 158.9 574.9 161.5Z"/>
<path fill="#2f81fa" d="M579.1 158.9 583.2 156.3 586.6 158.3 582.4 160.7Z"/>
<path fill="#2e87f7" d="M586.6 158.3 590.8 155.7 594.1 157.4 589.9 159.8Z"/>
<path fill="#2e87f7" d="M594.1 157.4 598.3 155 601.6 156.4 597.4 158.7Z"/>
<path fill="#2d8cf3" d="M601.6 156.4 605.8 154 609.1 155.2 604.9 157.5Z"/>
<path fill="#2797eb" d="M609.1 155.2 613.3 153 616.6 154.1 612.4 156.2Z"/>
<path fill="#259be8" d="M616.6 154.1 620.8 151.9 624.1 152.9 620 155Z"/>
<path fill="#23a0e5" d="M624.1 152.9 628.3 150.8 631.6 151.8 627.5 153.9Z"/>
<path fill="#20a5e3" d="M631.6 151.8 635.8 149.7 639.1 150.9 635 153Z"/>
<path fill="#20a5e3" d="M409.7 156.4 413.9 154 417.2 149.3 413 151.1Z"/>
<path fill="#0bbdbd" d="M417.2 149.3 421.4 147.6 424.7 143.8 420.5 145Z"/>
<path fill="#3fca8e" d="M424.7 143.8 428.9 142.5 432.2 140.2 428.1 141Z"/>
<path fill="#72cd64" d="M432.2 140.2 436.4 139.2 439.7 138.6 435.6 139.3Z"/>
<path fill="#8fcb4e" d="M439.7 138.6 443.9 137.7 447.2 138.6 443.1 139.4Z"/>
<path fill="#8fcb4e" d="M447.2 138.6 451.4 137.6 454.8 139.5 450.6 140.6Z"/>
<path fill="#72cd64" d="M454.8 139.5 458.9 138.3 462.3 141.2 458.1 142.6Z"/>
<path fill="#64cd6f" d="M462.3 141.2 466.4 139.7 469.8 143.1 465.6 144.9Z"/>
<path fill="#4acb84" d="M469.8 143.1 473.9 141.3 477.3 145.2 473.1 147.3Z"/>
<path fill="#31c69f" d="M477.3 145.2 481.5 143.2 484.8 147.4 480.6 149.8Z"/>
<path fill="#24c1ae" d="M484.8 147.4 489 145.1 492.3 149.6 488.1 152.2Z"/>
<path fill="#02bac3" d="M492.3 149.6 496.5 147 499.8 151.7 495.6 154.6Z"/>
<path fill="#08b5d0" d="M499.8 151.7 504 149 507.3 153.9 503.1 156.9Z"/>
<path fill="#18addb" d="M507.3 153.9 511.5 150.9 514.8 155.9 510.7 159Z"/>
<path fill="#23a0e5" d="M514.8 155.9 519 152.9 522.3 157.7 518.2 160.8Z"/>
<path fill="#2797eb" d="M522.3 157.7 526.5 154.6 529.8 159.3 525.7 162.3Z"/>
<path fill="#2b91ef" d="M529.8 159.3 534 156.2 537.4 160.5 533.2 163.5Z"/>
<path fill="#2e87f7" d="M537.4 160.5 541.5 157.4 544.9 161.3 540.7 164.3Z"/>
<path fill="#2f81fa" d="M544.9 161.3 549 158.4 552.4 161.9 548.2 164.8Z"/>
<path fill="#2f81fa" d="M552.4 161.9 556.5 159 559.9 162.1 555.7 164.9Z"/>
<path fill="#327cfc" d="M559.9 162.1 564.1 159.3 567.4 161.9 563.2 164.6Z"/>
<path fill="#327cfc" d="M567.4 161.9 571.6 159.2 574.9 161.5 570.7 164.1Z"/>
<path fill="#2f81fa" d="M574.9 161.5 579.1 158.9 582.4 160.7 578.2 163.2Z"/>
<path fill="#2e87f7" d="M582.4 160.7 586.6 158.3 589.9 159.8 585.7 162.2Z"/>
<path fill="#2e87f7" d="M589.9 159.8 594.1 157.4 597.4 158.7 593.3 161Z"/>
<path fill="#2b91ef" d="M597.4 158.7 601.6 156.4 604.9 157.5 600.8 159.7Z"/>
<path fill="#2797eb" d="M604.9 157.5 609.1 155.2 612.4 156.2 608.3 158.4Z"/>
<path fill="#259be8" d="M612.4 156.2 616.6 154.1 620 155 615.8 157.1Z"/>
<path fill="#23a0e5" d="M620 155 624.1 152.9 627.5 153.9 623.3 156Z"/>
<path fill="#20a5e3" d="M627.5 153.9 631.6 151.8 635 153 630.8 155.2Z"/>
<path fill="#1ca9df" d="M635 153 639.1 150.9 642.5 152.3 638.3 154.5Z"/>
<path fill="#20a5e3" d="M405.5 158.8 409.7 156.4 413 151.1 408.9 152.7Z"/>
<path fill="#19bfb6" d="M413 151.1 417.2 149.3 420.5 145 416.4 146Z"/>
<path fill="#57cc7a" d="M420.5 145 424.7 143.8 428.1 141 423.9 141.7Z"/>
<path fill="#8fcb4e" d="M428.1 141 432.2 140.2 435.6 139.3 431.4 140Z"/>
<path fill="#9dc943" d="M435.6 139.3 439.7 138.6 443.1 139.4 438.9 140.2Z"/>
<path fill="#9dc943" d="M443.1 139.4 447.2 138.6 450.6 140.6 446.4 141.7Z"/>
<path fill="#8fcb4e" d="M450.6 140.6 454.8 139.5 458.1 142.6 453.9 144Z"/>
<path fill="#72cd64" d="M458.1 142.6 462.3 141.2 465.6 144.9 461.4 146.6Z"/>
<path fill="#4acb84" d="M465.6 144.9 469.8 143.1 473.1 147.3 468.9 149.4Z"/>
<path fill="#31c69f" d="M473.1 147.3 477.3 145.2 480.6 149.8 476.4 152.2Z"/>
<path fill="#24c1ae" d="M480.6 149.8 484.8 147.4 488.1 152.2 484 154.9Z"/>
<path fill="#02bac3" d="M488.1 152.2 492.3 149.6 495.6 154.6 491.5 157.5Z"/>
<path fill="#08b5d0" d="M495.6 154.6 499.8 151.7 503.1 156.9 499 159.9Z"/>
<path fill="#1ca9df" d="M503.1 156.9 507.3 153.9 510.7 159 506.5 162.1Z"/>
<path fill="#23a0e5" d="M510.7 159 514.8 155.9 518.2 160.8 514 164Z"/>
<path fill="#2797eb" d="M518.2 160.8 522.3 157.7 525.7 162.3 521.5 165.5Z"/>
<path fill="#2d8cf3" d="M525.7 162.3 529.8 159.3 533.2 163.5 529 166.6Z"/>
<path fill="#2e87f7" d="M533.2 163.5 537.4 160.5 540.7 164.3 536.5 167.3Z"/>
<path fill="#2f81fa" d="M540.7 164.3 544.9 161.3 548.2 164.8 544 167.7Z"/>
<path fill="#327cfc" d="M548.2 164.8 552.4 161.9 555.7 164.9 551.5 167.7Z"/>
<path fill="#327cfc" d="M555.7 164.9 559.9 162.1 563.2 164.6 559 167.3Z"/>
<path fill="#327cfc" d="M563.2 164.6 567.4 161.9 570.7 164.1 566.6 166.6Z"/>
<path fill="#2f81fa" d="M570.7 164.1 574.9 161.5 578.2 163.2 574.1 165.6Z"/>
<path fill="#2f81fa" d="M578.2 163.2 582.4 160.7 585.7 162.2 581.6 164.5Z"/>
<path fill="#2e87f7" d="M585.7 162.2 589.9 159.8 593.3 161 589.1 163.2Z"/>
<path fill="#2b91ef" d="M593.3 161 597.4 158.7 600.8 159.7 596.6 161.8Z"/>
<path fill="#2797eb" d="M600.8 159.7 604.9 157.5 608.3 158.4 604.1 160.5Z"/>
<path fill="#259be8" d="M608.3 158.4 612.4 156.2 615.8 157.1 611.6 159.2Z"/>
<path fill="#23a0e5" d="M615.8 157.1 620 155 623.3 156 619.1 158.1Z"/>
<path fill="#20a5e3" d="M623.3 156 627.5 153.9 630.8 155.2 626.6 157.3Z"/>
<path fill="#1ca9df" d="M630.8 155.2 635 153 638.3 154.5 634.1 156.8Z"/>
<path fill="#18addb" d="M638.3 154.5 642.5 152.3 645.8 154 641.6 156.3Z"/>
<path fill="#20a5e3" d="M401.3 161.2 405.5 158.8 408.9 152.7 404.7 154.4Z"/>
<path fill="#24c1ae" d="M408.9 152.7 413 151.1 416.4 146 412.2 147Z"/>
<path fill="#64cd6f" d="M416.4 146 420.5 145 423.9 141.7 419.7 142.3Z"/>
<path fill="#9dc943" d="M423.9 141.7 428.1 141 431.4 140 427.2 140.4Z"/>
<path fill="#b9c431" d="M431.4 140 435.6 139.3 438.9 140.2 434.7 140.7Z"/>
<path fill="#b9c431" d="M438.9 140.2 443.1 139.4 446.4 141.7 442.2 142.6Z"/>
<path fill="#9dc943" d="M446.4 141.7 450.6 140.6 453.9 144 449.7 145.3Z"/>
<path fill="#81cc59" d="M453.9 144 458.1 142.6 461.4 146.6 457.2 148.4Z"/>
<path fill="#57cc7a" d="M461.4 146.6 465.6 144.9 468.9 149.4 464.8 151.6Z"/>
<path fill="#37c897" d="M468.9 149.4 473.1 147.3 476.4 152.2 472.3 154.7Z"/>
<path fill="#24c1ae" d="M476.4 152.2 480.6 149.8 484 154.9 479.8 157.7Z"/>
<path fill="#02bac3" d="M484 154.9 488.1 152.2 491.5 157.5 487.3 160.5Z"/>
<path fill="#12b1d6" d="M491.5 157.5 495.6 154.6 499 159.9 494.8 163Z"/>
<path fill="#20a5e3" d="M499 159.9 503.1 156.9 506.5 162.1 502.3 165.3Z"/>
<path fill="#259be8" d="M506.5 162.1 510.7 159 514 164 509.8 167.1Z"/>
<path fill="#2b91ef" d="M514 164 518.2 160.8 521.5 165.5 517.3 168.6Z"/>
<path fill="#2e87f7" d="M521.5 165.5 525.7 162.3 529 166.6 524.8 169.6Z"/>
<path fill="#2f81fa" d="M529 166.6 533.2 163.5 536.5 167.3 532.3 170.3Z"/>
<path fill="#327cfc" d="M536.5 167.3 540.7 164.3 544 167.7 539.9 170.5Z"/>
<path fill="#327cfc" d="M544 167.7 548.2 164.8 551.5 167.7 547.4 170.4Z"/>
<path fill="#3875fe" d="M551.5 167.7 555.7 164.9 559 167.3 554.9 169.9Z"/>
<path fill="#327cfc" d="M559 167.3 563.2 164.6 566.6 166.6 562.4 169.1Z"/>
<path fill="#327cfc" d="M566.6 166.6 570.7 164.1 574.1 165.6 569.9 168Z"/>
<path fill="#2f81fa" d="M574.1 165.6 578.2 163.2 581.6 164.5 577.4 166.8Z"/>
<path fill="#2e87f7" d="M581.6 164.5 585.7 162.2 589.1 163.2 584.9 165.4Z"/>
<path fill="#2b91ef" d="M589.1 163.2 593.3 161 596.6 161.8 592.4 164Z"/>
<path fill="#2797eb" d="M596.6 161.8 600.8 159.7 604.1 160.5 599.9 162.6Z"/>
<path fill="#259be8" d="M604.1 160.5 608.3 158.4 611.6 159.2 607.4 161.3Z"/>
<path fill="#20a5e3" d="M611.6 159.2 615.8 157.1 619.1 158.1 614.9 160.3Z"/>
<path fill="#1ca9df" d="M619.1 158.1 623.3 156 626.6 157.3 622.5 159.5Z"/>
<path fill="#18addb" d="M626.6 157.3 630.8 155.2 634.1 156.8 630 159Z"/>
<path fill="#18addb" d="M634.1 156.8 638.3 154.5 641.6 156.3 637.5 158.7Z"/>
<path fill="#18addb" d="M641.6 156.3 645.8 154 649.2 156 645 158.4Z"/>
<path fill="#20a5e3" d="M397.2 163.6 401.3 161.2 404.7 154.4 400.5 155.9Z"/>
<path fill="#2cc4a7" d="M404.7 154.4 408.9 152.7 412.2 147 408 147.8Z"/>
<path fill="#72cd64" d="M412.2 147 416.4 146 419.7 142.3 415.5 142.6Z"/>
<path fill="#b9c431" d="M419.7 142.3 423.9 141.7 427.2 140.4 423 140.6Z"/>
<path fill="#d1bf27" d="M427.2 140.4 431.4 140 434.7 140.7 430.5 141.2Z"/>
<path fill="#d1bf27" d="M434.7 140.7 438.9 140.2 442.2 142.6 438.1 143.3Z"/>
<path fill="#b9c431" d="M442.2 142.6 446.4 141.7 449.7 145.3 445.6 146.5Z"/>
<path fill="#8fcb4e" d="M449.7 145.3 453.9 144 457.2 148.4 453.1 150.1Z"/>
<path fill="#57cc7a" d="M457.2 148.4 461.4 146.6 464.8 151.6 460.6 153.7Z"/>
<path fill="#37c897" d="M464.8 151.6 468.9 149.4 472.3 154.7 468.1 157.2Z"/>
<path fill="#24c1ae" d="M472.3 154.7 476.4 152.2 479.8 157.7 475.6 160.5Z"/>
<path fill="#01b8ca" d="M479.8 157.7 484 154.9 487.3 160.5 483.1 163.5Z"/>
<path fill="#18addb" d="M487.3 160.5 491.5 157.5 494.8 163 490.6 166.2Z"/>
<path fill="#20a5e3" d="M494.8 163 499 159.9 502.3 165.3 498.1 168.5Z"/>
<path fill="#2797eb" d="M502.3 165.3 506.5 162.1 509.8 167.1 505.6 170.4Z"/>
<path fill="#2d8cf3" d="M509.8 167.1 514 164 517.3 168.6 513.1 171.7Z"/>
<path fill="#2f81fa" d="M517.3 168.6 521.5 165.5 524.8 169.6 520.7 172.7Z"/>
<path fill="#327cfc" d="M524.8 169.6 529 166.6 532.3 170.3 528.2 173.3Z"/>
<path fill="#3875fe" d="M532.3 170.3 536.5 167.3 539.9 170.5 535.7 173.4Z"/>
<path fill="#3875fe" d="M539.9 170.5 544 167.7 547.4 170.4 543.2 173.1Z"/>
<path fill="#3875fe" d="M547.4 170.4 551.5 167.7 554.9 169.9 550.7 172.5Z"/>
<path fill="#3875fe" d="M554.9 169.9 559 167.3 562.4 169.1 558.2 171.6Z"/>
<path fill="#327cfc" d="M562.4 169.1 566.6 166.6 569.9 168 565.7 170.4Z"/>
<path fill="#2f81fa" d="M569.9 168 574.1 165.6 577.4 166.8 573.2 169Z"/>
<path fill="#2d8cf3" d="M577.4 166.8 581.6 164.5 584.9 165.4 580.7 167.6Z"/>
<path fill="#2b91ef" d="M584.9 165.4 589.1 163.2 592.4 164 588.2 166.1Z"/>
<path fill="#2797eb" d="M592.4 164 596.6 161.8 599.9 162.6 595.8 164.6Z"/>
<path fill="#23a0e5" d="M599.9 162.6 604.1 160.5 607.4 161.3 603.3 163.4Z"/>
<path fill="#20a5e3" d="M607.4 161.3 611.6 159.2 614.9 160.3 610.8 162.4Z"/>
<path fill="#1ca9df" d="M614.9 160.3 619.1 158.1 622.5 159.5 618.3 161.7Z"/>
<path fill="#18addb" d="M622.5 159.5 626.6 157.3 630 159 625.8 161.4Z"/>
<path fill="#18addb" d="M630 159 634.1 156.8 637.5 158.7 633.3 161.1Z"/>
<path fill="#18addb" d="M637.5 158.7 641.6 156.3 645 158.4 640.8 161Z"/>
<path fill="#12b1d6" d="M645 158.4 649.2 156 652.5 158.2 648.3 160.8Z"/>
<path fill="#20a5e3" d="M393 166 397.2 163.6 400.5 155.9 396.3 157.3Z"/>
<path fill="#31c69f" d="M400.5 155.9 404.7 154.4 408 147.8 403.8 148.4Z"/>
<path fill="#8fcb4e" d="M408 147.8 412.2 147 415.5 142.6 411.4 142.8Z"/>
<path fill="#dcbd29" d="M415.5 142.6 419.7 142.3 423 140.6 418.9 140.7Z"/>
<path fill="#f0ba36" d="M423 140.6 427.2 140.4 430.5 141.2 426.4 141.4Z"/>
<path fill="#e6bb2d" d="M430.5 141.2 434.7 140.7 438.1 143.3 433.9 144Z"/>
<path fill="#d1bf27" d="M438.1 143.3 442.2 142.6 445.6 146.5 441.4 147.7Z"/>
<path fill="#9dc943" d="M445.6 146.5 449.7 145.3 453.1 150.1 448.9 151.8Z"/>
<path fill="#64cd6f" d="M453.1 150.1 457.2 148.4 460.6 153.7 456.4 155.9Z"/>
<path fill="#37c897" d="M460.6 153.7 464.8 151.6 468.1 157.2 463.9 159.8Z"/>
<path fill="#19bfb6" d="M468.1 157.2 472.3 154.7 475.6 160.5 471.4 163.4Z"/>
<path fill="#01b8ca" d="M475.6 160.5 479.8 157.7 483.1 163.5 478.9 166.6Z"/>
<path fill="#18addb" d="M483.1 163.5 487.3 160.5 490.6 166.2 486.4 169.5Z"/>
<path fill="#23a0e5" d="M490.6 166.2 494.8 163 498.1 168.5 494 171.8Z"/>
<path fill="#2b91ef" d="M498.1 168.5 502.3 165.3 505.6 170.4 501.5 173.6Z"/>
<path fill="#2e87f7" d="M505.6 170.4 509.8 167.1 513.1 171.7 509 174.9Z"/>
<path fill="#2f81fa" d="M513.1 171.7 517.3 168.6 520.7 172.7 516.5 175.8Z"/>
<path fill="#3875fe" d="M520.7 172.7 524.8 169.6 528.2 173.3 524 176.2Z"/>
<path fill="#3875fe" d="M528.2 173.3 532.3 170.3 535.7 173.4 531.5 176.2Z"/>
<path fill="#3875fe" d="M535.7 173.4 539.9 170.5 543.2 173.1 539 175.9Z"/>
<path fill="#3875fe" d="M543.2 173.1 547.4 170.4 550.7 172.5 546.5 175.1Z"/>
<path fill="#3875fe" d="M550.7 172.5 554.9 169.9 558.2 171.6 554 174Z"/>
<path fill="#327cfc" d="M558.2 171.6 562.4 169.1 565.7 170.4 561.5 172.7Z"/>
<path fill="#2f81fa" d="M565.7 170.4 569.9 168 573.2 169 569 171.2Z"/>
<path fill="#2d8cf3" d="M573.2 169 577.4 166.8 580.7 167.6 576.6 169.7Z"/>
<path fill="#2b91ef" d="M580.7 167.6 584.9 165.4 588.2 166.1 584.1 168.1Z"/>
<path fill="#259be8" d="M588.2 166.1 592.4 164 595.8 164.6 591.6 166.7Z"/>
<path fill="#23a0e5" d="M595.8 164.6 599.9 162.6 603.3 163.4 599.1 165.4Z"/>
<path fill="#20a5e3" d="M603.3 163.4 607.4 161.3 610.8 162.4 606.6 164.5Z"/>
<path fill="#1ca9df" d="M610.8 162.4 614.9 160.3 618.3 161.7 614.1 164Z"/>
<path fill="#18addb" d="M618.3 161.7 622.5 159.5 625.8 161.4 621.6 163.7Z"/>
<path fill="#18addb" d="M625.8 161.4 630 159 633.3 161.1 629.1 163.6Z"/>
<path fill="#18addb" d="M633.3 161.1 637.5 158.7 640.8 161 636.6 163.5Z"/>
<path fill="#12b1d6" d="M640.8 161 645 158.4 648.3 160.8 644.1 163.4Z"/>
<path fill="#12b1d6" d="M648.3 160.8 652.5 158.2 655.8 160.7 651.7 163.4Z"/>
<path fill="#37c897" d="M396.3 157.3 400.5 155.9 403.8 148.4 399.7 148.9Z"/>
<path fill="#abc739" d="M403.8 148.4 408 147.8 411.4 142.8 407.2 142.7Z"/>
<path fill="#f0ba36" d="M411.4 142.8 415.5 142.6 418.9 140.7 414.7 140.5Z"/>
<path fill="#febe3c" d="M418.9 140.7 423 140.6 426.4 141.4 422.2 141.5Z"/>
<path fill="#f8ba3d" d="M426.4 141.4 430.5 141.2 433.9 144 429.7 144.5Z"/>
<path fill="#dcbd29" d="M433.9 144 438.1 143.3 441.4 147.7 437.2 148.8Z"/>
<path fill="#abc739" d="M441.4 147.7 445.6 146.5 448.9 151.8 444.7 153.5Z"/>
<path fill="#72cd64" d="M448.9 151.8 453.1 150.1 456.4 155.9 452.2 158.2Z"/>
<path fill="#37c897" d="M456.4 155.9 460.6 153.7 463.9 159.8 459.7 162.5Z"/>
<path fill="#19bfb6" d="M463.9 159.8 468.1 157.2 471.4 163.4 467.3 166.4Z"/>
<path fill="#08b5d0" d="M471.4 163.4 475.6 160.5 478.9 166.6 474.8 169.9Z"/>
<path fill="#1ca9df" d="M478.9 166.6 483.1 163.5 486.4 169.5 482.3 172.8Z"/>
<path fill="#259be8" d="M486.4 169.5 490.6 166.2 494 171.8 489.8 175.1Z"/>
<path fill="#2d8cf3" d="M494 171.8 498.1 168.5 501.5 173.6 497.3 176.9Z"/>
<path fill="#2f81fa" d="M501.5 173.6 505.6 170.4 509 174.9 504.8 178.1Z"/>
<path fill="#327cfc" d="M509 174.9 513.1 171.7 516.5 175.8 512.3 178.9Z"/>
<path fill="#3875fe" d="M516.5 175.8 520.7 172.7 524 176.2 519.8 179.2Z"/>
<path fill="#3e6fff" d="M524 176.2 528.2 173.3 531.5 176.2 527.3 179.1Z"/>
<path fill="#3e6fff" d="M531.5 176.2 535.7 173.4 539 175.9 534.8 178.5Z"/>
<path fill="#3e6fff" d="M539 175.9 543.2 173.1 546.5 175.1 542.3 177.6Z"/>
<path fill="#3875fe" d="M546.5 175.1 550.7 172.5 554 174 549.9 176.4Z"/>
<path fill="#327cfc" d="M554 174 558.2 171.6 561.5 172.7 557.4 175Z"/>
<path fill="#2f81fa" d="M561.5 172.7 565.7 170.4 569 171.2 564.9 173.4Z"/>
<path fill="#2d8cf3" d="M569 171.2 573.2 169 576.6 169.7 572.4 171.8Z"/>
<path fill="#2b91ef" d="M576.6 169.7 580.7 167.6 584.1 168.1 579.9 170.2Z"/>
<path fill="#259be8" d="M584.1 168.1 588.2 166.1 591.6 166.7 587.4 168.7Z"/>
<path fill="#23a0e5" d="M591.6 166.7 595.8 164.6 599.1 165.4 594.9 167.5Z"/>
<path fill="#1ca9df" d="M599.1 165.4 603.3 163.4 606.6 164.5 602.4 166.7Z"/>
<path fill="#18addb" d="M606.6 164.5 610.8 162.4 614.1 164 609.9 166.3Z"/>
<path fill="#18addb" d="M614.1 164 618.3 161.7 621.6 163.7 617.4 166.1Z"/>
<path fill="#18addb" d="M621.6 163.7 625.8 161.4 629.1 163.6 624.9 166Z"/>
<path fill="#18addb" d="M629.1 163.6 633.3 161.1 636.6 163.5 632.5 166.1Z"/>
<path fill="#18addb" d="M636.6 163.5 640.8 161 644.1 163.4 640 166.1Z"/>
<path fill="#18addb" d="M644.1 163.4 648.3 160.8 651.7 163.4 647.5 166.1Z"/>
<path fill="#18addb" d="M651.7 163.4 655.8 160.7 659.2 163.3 655 166.1Z"/>
<path fill="#c5c22a" d="M399.7 148.9 403.8 148.4 407.2 142.7 403 142.4Z"/>
<path fill="#febe3c" d="M407.2 142.7 411.4 142.8 414.7 140.5 410.5 140.1Z"/>
<path fill="#fccf30" d="M414.7 140.5 418.9 140.7 422.2 141.5 418 141.3Z"/>
<path fill="#fec934" d="M422.2 141.5 426.4 141.4 429.7 144.5 425.5 144.9Z"/>
<path fill="#f0ba36" d="M429.7 144.5 433.9 144 437.2 148.8 433 149.9Z"/>
<path fill="#c5c22a" d="M437.2 148.8 441.4 147.7 444.7 153.5 440.6 155.2Z"/>
<path fill="#81cc59" d="M444.7 153.5 448.9 151.8 452.2 158.2 448.1 160.5Z"/>
<path fill="#3fca8e" d="M452.2 158.2 456.4 155.9 459.7 162.5 455.6 165.3Z"/>
<path fill="#19bfb6" d="M459.7 162.5 463.9 159.8 467.3 166.4 463.1 169.5Z"/>
<path fill="#08b5d0" d="M467.3 166.4 471.4 163.4 474.8 169.9 470.6 173.2Z"/>
<path fill="#20a5e3" d="M474.8 169.9 478.9 166.6 482.3 172.8 478.1 176.2Z"/>
<path fill="#2797eb" d="M482.3 172.8 486.4 169.5 489.8 175.1 485.6 178.5Z"/>
<path fill="#2e87f7" d="M489.8 175.1 494 171.8 497.3 176.9 493.1 180.2Z"/>
<path fill="#327cfc" d="M497.3 176.9 501.5 173.6 504.8 178.1 500.6 181.3Z"/>
<path fill="#3875fe" d="M504.8 178.1 509 174.9 512.3 178.9 508.1 182Z"/>
<path fill="#3e6fff" d="M512.3 178.9 516.5 175.8 519.8 179.2 515.6 182.1Z"/>
<path fill="#4269fe" d="M519.8 179.2 524 176.2 527.3 179.1 523.2 181.9Z"/>
<path fill="#3e6fff" d="M527.3 179.1 531.5 176.2 534.8 178.5 530.7 181.2Z"/>
<path fill="#3e6fff" d="M534.8 178.5 539 175.9 542.3 177.6 538.2 180.1Z"/>
<path fill="#3875fe" d="M542.3 177.6 546.5 175.1 549.9 176.4 545.7 178.7Z"/>
<path fill="#327cfc" d="M549.9 176.4 554 174 557.4 175 553.2 177.2Z"/>
<path fill="#2e87f7" d="M557.4 175 561.5 172.7 564.9 173.4 560.7 175.5Z"/>
<path fill="#2d8cf3" d="M564.9 173.4 569 171.2 572.4 171.8 568.2 173.8Z"/>
<path fill="#2797eb" d="M572.4 171.8 576.6 169.7 579.9 170.2 575.7 172.2Z"/>
<path fill="#259be8" d="M579.9 170.2 584.1 168.1 587.4 168.7 583.2 170.7Z"/>
<path fill="#20a5e3" d="M587.4 168.7 591.6 166.7 594.9 167.5 590.7 169.6Z"/>
<path fill="#1ca9df" d="M594.9 167.5 599.1 165.4 602.4 166.7 598.2 169Z"/>
<path fill="#18addb" d="M602.4 166.7 606.6 164.5 609.9 166.3 605.8 168.6Z"/>
<path fill="#18addb" d="M609.9 166.3 614.1 164 617.4 166.1 613.3 168.5Z"/>
<path fill="#18addb" d="M617.4 166.1 621.6 163.7 624.9 166 620.8 168.6Z"/>
<path fill="#18addb" d="M624.9 166 629.1 163.6 632.5 166.1 628.3 168.6Z"/>
<path fill="#18addb" d="M632.5 166.1 636.6 163.5 640 166.1 635.8 168.7Z"/>
<path fill="#18addb" d="M640 166.1 644.1 163.4 647.5 166.1 643.3 168.7Z"/>
<path fill="#18addb" d="M647.5 166.1 651.7 163.4 655 166.1 650.8 168.8Z"/>
<path fill="#18addb" d="M655 166.1 659.2 163.3 662.5 166 658.3 168.8Z"/>
<path fill="#fccf30" d="M403 142.4 407.2 142.7 410.5 140.1 406.3 139.4Z"/>
<path fill="#f5e327" d="M410.5 140.1 414.7 140.5 418 141.3 413.8 140.9Z"/>
<path fill="#fad62d" d="M418 141.3 422.2 141.5 425.5 144.9 421.4 145.1Z"/>
<path fill="#febe3c" d="M425.5 144.9 429.7 144.5 433 149.9 428.9 150.8Z"/>
<path fill="#d1bf27" d="M433 149.9 437.2 148.8 440.6 155.2 436.4 156.9Z"/>
<path fill="#81cc59" d="M440.6 155.2 444.7 153.5 448.1 160.5 443.9 162.8Z"/>
<path fill="#3fca8e" d="M448.1 160.5 452.2 158.2 455.6 165.3 451.4 168.1Z"/>
<path fill="#0bbdbd" d="M455.6 165.3 459.7 162.5 463.1 169.5 458.9 172.7Z"/>
<path fill="#12b1d6" d="M463.1 169.5 467.3 166.4 470.6 173.2 466.4 176.6Z"/>
<path fill="#23a0e5" d="M470.6 173.2 474.8 169.9 478.1 176.2 473.9 179.6Z"/>
<path fill="#2b91ef" d="M478.1 176.2 482.3 172.8 485.6 178.5 481.4 181.9Z"/>
<path fill="#2f81fa" d="M485.6 178.5 489.8 175.1 493.1 180.2 488.9 183.5Z"/>
<path fill="#3875fe" d="M493.1 180.2 497.3 176.9 500.6 181.3 496.5 184.6Z"/>
<path fill="#3e6fff" d="M500.6 181.3 504.8 178.1 508.1 182 504 185Z"/>
<path fill="#4269fe" d="M508.1 182 512.3 178.9 515.6 182.1 511.5 185.1Z"/>
<path fill="#4269fe" d="M515.6 182.1 519.8 179.2 523.2 181.9 519 184.6Z"/>
<path fill="#4269fe" d="M523.2 181.9 527.3 179.1 530.7 181.2 526.5 183.7Z"/>
<path fill="#3e6fff" d="M530.7 181.2 534.8 178.5 538.2 180.1 534 182.5Z"/>
<path fill="#3875fe" d="M538.2 180.1 542.3 177.6 545.7 178.7 541.5 181Z"/>
<path fill="#327cfc" d="M545.7 178.7 549.9 176.4 553.2 177.2 549 179.4Z"/>
<path fill="#2e87f7" d="M553.2 177.2 557.4 175 560.7 175.5 556.5 177.6Z"/>
<path fill="#2d8cf3" d="M560.7 175.5 564.9 173.4 568.2 173.8 564 175.8Z"/>
<path fill="#2797eb" d="M568.2 173.8 572.4 171.8 575.7 172.2 571.5 174.1Z"/>
<path fill="#23a0e5" d="M575.7 172.2 579.9 170.2 583.2 170.7 579.1 172.7Z"/>
<path fill="#20a5e3" d="M583.2 170.7 587.4 168.7 590.7 169.6 586.6 171.7Z"/>
<path fill="#1ca9df" d="M590.7 169.6 594.9 167.5 598.2 169 594.1 171.2Z"/>
<path fill="#18addb" d="M598.2 169 602.4 166.7 605.8 168.6 601.6 171Z"/>
<path fill="#18addb" d="M605.8 168.6 609.9 166.3 613.3 168.5 609.1 171Z"/>
<path fill="#18addb" d="M613.3 168.5 617.4 166.1 620.8 168.6 616.6 171.1Z"/>
<path fill="#18addb" d="M620.8 168.6 624.9 166 628.3 168.6 624.1 171.2Z"/>
<path fill="#18addb" d="M628.3 168.6 632.5 166.1 635.8 168.7 631.6 171.3Z"/>
<path fill="#18addb" d="M635.8 168.7 640 166.1 643.3 168.7 639.1 171.4Z"/>
<path fill="#18addb" d="M643.3 168.7 647.5 166.1 650.8 168.8 646.6 171.4Z"/>
<path fill="#18addb" d="M650.8 168.8 655 166.1 658.3 168.8 654.1 171.4Z"/>
<path fill="#1ca9df" d="M658.3 168.8 662.5 166 665.8 168.7 661.7 171.4Z"/>
<path fill="#f7f51b" d="M406.3 139.4 410.5 140.1 413.8 140.9 409.7 140.2Z"/>
<path fill="#f5e924" d="M413.8 140.9 418 141.3 421.4 145.1 417.2 145.2Z"/>
<path fill="#fccf30" d="M421.4 145.1 425.5 144.9 428.9 150.8 424.7 151.7Z"/>
<path fill="#e6bb2d" d="M428.9 150.8 433 149.9 436.4 156.9 432.2 158.6Z"/>
<path fill="#8fcb4e" d="M436.4 156.9 440.6 155.2 443.9 162.8 439.7 165.2Z"/>
<path fill="#3fca8e" d="M443.9 162.8 448.1 160.5 451.4 168.1 447.2 171Z"/>
<path fill="#0bbdbd" d="M451.4 168.1 455.6 165.3 458.9 172.7 454.7 176Z"/>
<path fill="#18addb" d="M458.9 172.7 463.1 169.5 466.4 176.6 462.2 180.1Z"/>
<path fill="#259be8" d="M466.4 176.6 470.6 173.2 473.9 179.6 469.7 183.2Z"/>
<path fill="#2e87f7" d="M473.9 179.6 478.1 176.2 481.4 181.9 477.3 185.4Z"/>
<path fill="#327cfc" d="M481.4 181.9 485.6 178.5 488.9 183.5 484.8 186.9Z"/>
<path fill="#3e6fff" d="M488.9 183.5 493.1 180.2 496.5 184.6 492.3 187.8Z"/>
<path fill="#4269fe" d="M496.5 184.6 500.6 181.3 504 185 499.8 188.1Z"/>
<path fill="#4563fd" d="M504 185 508.1 182 511.5 185.1 507.3 188Z"/>
<path fill="#4563fd" d="M511.5 185.1 515.6 182.1 519 184.6 514.8 187.3Z"/>
<path fill="#4269fe" d="M519 184.6 523.2 181.9 526.5 183.7 522.3 186.3Z"/>
<path fill="#3e6fff" d="M526.5 183.7 530.7 181.2 534 182.5 529.8 184.9Z"/>
<path fill="#3875fe" d="M534 182.5 538.2 180.1 541.5 181 537.3 183.3Z"/>
<path fill="#327cfc" d="M541.5 181 545.7 178.7 549 179.4 544.8 181.5Z"/>
<path fill="#2e87f7" d="M549 179.4 553.2 177.2 556.5 177.6 552.4 179.6Z"/>
<path fill="#2b91ef" d="M556.5 177.6 560.7 175.5 564 175.8 559.9 177.8Z"/>
<path fill="#2797eb" d="M564 175.8 568.2 173.8 571.5 174.1 567.4 176.1Z"/>
<path fill="#23a0e5" d="M571.5 174.1 575.7 172.2 579.1 172.7 574.9 174.8Z"/>
<path fill="#1ca9df" d="M579.1 172.7 583.2 170.7 586.6 171.7 582.4 173.9Z"/>
<path fill="#18addb" d="M586.6 171.7 590.7 169.6 594.1 171.2 589.9 173.5Z"/>
<path fill="#18addb" d="M594.1 171.2 598.2 169 601.6 171 597.4 173.4Z"/>
<path fill="#18addb" d="M601.6 171 605.8 168.6 609.1 171 604.9 173.5Z"/>
<path fill="#18addb" d="M609.1 171 613.3 168.5 616.6 171.1 612.4 173.6Z"/>
<path fill="#18addb" d="M616.6 171.1 620.8 168.6 624.1 171.2 619.9 173.8Z"/>
<path fill="#18addb" d="M624.1 171.2 628.3 168.6 631.6 171.3 627.4 173.9Z"/>
<path fill="#18addb" d="M631.6 171.3 635.8 168.7 639.1 171.4 635 174Z"/>
<path fill="#1ca9df" d="M639.1 171.4 643.3 168.7 646.6 171.4 642.5 174Z"/>
<path fill="#1ca9df" d="M646.6 171.4 650.8 168.8 654.1 171.4 650 174Z"/>
<path fill="#1ca9df" d="M654.1 171.4 658.3 168.8 661.7 171.4 657.5 174Z"/>
<path fill="#1ca9df" d="M661.7 171.4 665.8 168.7 669.2 171.3 665 173.9Z"/>
<path fill="#f9fb15" d="M409.7 140.2 413.8 140.9 417.2 145.2 413 145Z"/>
<path fill="#f7dc2a" d="M417.2 145.2 421.4 145.1 424.7 151.7 420.5 152.5Z"/>
<path fill="#f0ba36" d="M424.7 151.7 428.9 150.8 432.2 158.6 428 160.3Z"/>
<path fill="#9dc943" d="M432.2 158.6 436.4 156.9 439.7 165.2 435.5 167.7Z"/>
<path fill="#3fca8e" d="M439.7 165.2 443.9 162.8 447.2 171 443 174.1Z"/>
<path fill="#02bac3" d="M447.2 171 451.4 168.1 454.7 176 450.6 179.4Z"/>
<path fill="#1ca9df" d="M454.7 176 458.9 172.7 462.2 180.1 458.1 183.7Z"/>
<path fill="#2797eb" d="M462.2 180.1 466.4 176.6 469.7 183.2 465.6 186.8Z"/>
<path fill="#2f81fa" d="M469.7 183.2 473.9 179.6 477.3 185.4 473.1 189Z"/>
<path fill="#3875fe" d="M477.3 185.4 481.4 181.9 484.8 186.9 480.6 190.3Z"/>
<path fill="#4269fe" d="M484.8 186.9 488.9 183.5 492.3 187.8 488.1 191.1Z"/>
<path fill="#4563fd" d="M492.3 187.8 496.5 184.6 499.8 188.1 495.6 191.2Z"/>
<path fill="#4563fd" d="M499.8 188.1 504 185 507.3 188 503.1 190.9Z"/>
<path fill="#4563fd" d="M507.3 188 511.5 185.1 514.8 187.3 510.6 190Z"/>
<path fill="#4563fd" d="M514.8 187.3 519 184.6 522.3 186.3 518.1 188.8Z"/>
<path fill="#4269fe" d="M522.3 186.3 526.5 183.7 529.8 184.9 525.6 187.2Z"/>
<path fill="#3875fe" d="M529.8 184.9 534 182.5 537.3 183.3 533.2 185.5Z"/>
<path fill="#327cfc" d="M537.3 183.3 541.5 181 544.8 181.5 540.7 183.6Z"/>
<path fill="#2e87f7" d="M544.8 181.5 549 179.4 552.4 179.6 548.2 181.6Z"/>
<path fill="#2b91ef" d="M552.4 179.6 556.5 177.6 559.9 177.8 555.7 179.7Z"/>
<path fill="#259be8" d="M559.9 177.8 564 175.8 567.4 176.1 563.2 178.1Z"/>
<path fill="#20a5e3" d="M567.4 176.1 571.5 174.1 574.9 174.8 570.7 176.8Z"/>
<path fill="#1ca9df" d="M574.9 174.8 579.1 172.7 582.4 173.9 578.2 176.1Z"/>
<path fill="#18addb" d="M582.4 173.9 586.6 171.7 589.9 173.5 585.7 175.9Z"/>
<path fill="#18addb" d="M589.9 173.5 594.1 171.2 597.4 173.4 593.2 175.9Z"/>
<path fill="#18addb" d="M597.4 173.4 601.6 171 604.9 173.5 600.7 176Z"/>
<path fill="#18addb" d="M604.9 173.5 609.1 171 612.4 173.6 608.3 176.2Z"/>
<path fill="#18addb" d="M612.4 173.6 616.6 171.1 619.9 173.8 615.8 176.3Z"/>
<path fill="#18addb" d="M619.9 173.8 624.1 171.2 627.4 173.9 623.3 176.4Z"/>
<path fill="#1ca9df" d="M627.4 173.9 631.6 171.3 635 174 630.8 176.5Z"/>
<path fill="#1ca9df" d="M635 174 639.1 171.4 642.5 174 638.3 176.6Z"/>
<path fill="#1ca9df" d="M642.5 174 646.6 171.4 650 174 645.8 176.6Z"/>
<path fill="#1ca9df" d="M650 174 654.1 171.4 657.5 174 653.3 176.5Z"/>
<path fill="#1ca9df" d="M657.5 174 661.7 171.4 665 173.9 660.8 176.4Z"/>
<path fill="#1ca9df" d="M665 173.9 669.2 171.3 672.5 173.7 668.3 176.3Z"/>
<path fill="#f6ef20" d="M413 145 417.2 145.2 420.5 152.5 416.3 153.2Z"/>
<path fill="#febe3c" d="M420.5 152.5 424.7 151.7 428 160.3 423.9 162Z"/>
<path fill="#9dc943" d="M428 160.3 432.2 158.6 435.5 167.7 431.4 170.2Z"/>
<path fill="#3fca8e" d="M435.5 167.7 439.7 165.2 443 174.1 438.9 177.2Z"/>
<path fill="#02bac3" d="M443 174.1 447.2 171 450.6 179.4 446.4 183Z"/>
<path fill="#20a5e3" d="M450.6 179.4 454.7 176 458.1 183.7 453.9 187.4Z"/>
<path fill="#2d8cf3" d="M458.1 183.7 462.2 180.1 465.6 186.8 461.4 190.5Z"/>
<path fill="#327cfc" d="M465.6 186.8 469.7 183.2 473.1 189 468.9 192.6Z"/>
<path fill="#3e6fff" d="M473.1 189 477.3 185.4 480.6 190.3 476.4 193.8Z"/>
<path fill="#4563fd" d="M480.6 190.3 484.8 186.9 488.1 191.1 483.9 194.3Z"/>
<path fill="#465efb" d="M488.1 191.1 492.3 187.8 495.6 191.2 491.4 194.3Z"/>
<path fill="#465efb" d="M495.6 191.2 499.8 188.1 503.1 190.9 498.9 193.7Z"/>
<path fill="#465efb" d="M503.1 190.9 507.3 188 510.6 190 506.5 192.7Z"/>
<path fill="#4563fd" d="M510.6 190 514.8 187.3 518.1 188.8 514 191.2Z"/>
<path fill="#4269fe" d="M518.1 188.8 522.3 186.3 525.6 187.2 521.5 189.5Z"/>
<path fill="#3875fe" d="M525.6 187.2 529.8 184.9 533.2 185.5 529 187.6Z"/>
<path fill="#2f81fa" d="M533.2 185.5 537.3 183.3 540.7 183.6 536.5 185.6Z"/>
<path fill="#2e87f7" d="M540.7 183.6 544.8 181.5 548.2 181.6 544 183.6Z"/>
<path fill="#2b91ef" d="M548.2 181.6 552.4 179.6 555.7 179.7 551.5 181.7Z"/>
<path fill="#259be8" d="M555.7 179.7 559.9 177.8 563.2 178.1 559 180Z"/>
<path fill="#20a5e3" d="M563.2 178.1 567.4 176.1 570.7 176.8 566.5 179Z"/>
<path fill="#1ca9df" d="M570.7 176.8 574.9 174.8 578.2 176.1 574 178.4Z"/>
<path fill="#18addb" d="M578.2 176.1 582.4 173.9 585.7 175.9 581.5 178.3Z"/>
<path fill="#18addb" d="M585.7 175.9 589.9 173.5 593.2 175.9 589.1 178.4Z"/>
<path fill="#18addb" d="M593.2 175.9 597.4 173.4 600.7 176 596.6 178.5Z"/>
<path fill="#18addb" d="M600.7 176 604.9 173.5 608.3 176.2 604.1 178.7Z"/>
<path fill="#18addb" d="M608.3 176.2 612.4 173.6 615.8 176.3 611.6 178.9Z"/>
<path fill="#1ca9df" d="M615.8 176.3 619.9 173.8 623.3 176.4 619.1 179Z"/>
<path fill="#1ca9df" d="M623.3 176.4 627.4 173.9 630.8 176.5 626.6 179Z"/>
<path fill="#1ca9df" d="M630.8 176.5 635 174 638.3 176.6 634.1 179.1Z"/>
<path fill="#1ca9df" d="M638.3 176.6 642.5 174 645.8 176.6 641.6 179Z"/>
<path fill="#1ca9df" d="M645.8 176.6 650 174 653.3 176.5 649.1 179Z"/>
<path fill="#1ca9df" d="M653.3 176.5 657.5 174 660.8 176.4 656.6 178.9Z"/>
<path fill="#1ca9df" d="M660.8 176.4 665 173.9 668.3 176.3 664.2 178.8Z"/>
<path fill="#fec934" d="M416.3 153.2 420.5 152.5 423.9 162 419.7 163.8Z"/>
<path fill="#abc739" d="M423.9 162 428 160.3 431.4 170.2 427.2 172.9Z"/>
<path fill="#37c897" d="M431.4 170.2 435.5 167.7 438.9 177.2 434.7 180.6Z"/>
<path fill="#01b8ca" d="M438.9 177.2 443 174.1 446.4 183 442.2 186.7Z"/>
<path fill="#23a0e5" d="M446.4 183 450.6 179.4 453.9 187.4 449.7 191.2Z"/>
<path fill="#2e87f7" d="M453.9 187.4 458.1 183.7 461.4 190.5 457.2 194.3Z"/>
<path fill="#3e6fff" d="M461.4 190.5 465.6 186.8 468.9 192.6 464.7 196.3Z"/>
<path fill="#4563fd" d="M468.9 192.6 473.1 189 476.4 193.8 472.2 197.3Z"/>
<path fill="#465efb" d="M476.4 193.8 480.6 190.3 483.9 194.3 479.8 197.6Z"/>
<path fill="#4758f8" d="M483.9 194.3 488.1 191.1 491.4 194.3 487.3 197.4Z"/>
<path fill="#4758f8" d="M491.4 194.3 495.6 191.2 498.9 193.7 494.8 196.6Z"/>
<path fill="#465efb" d="M498.9 193.7 503.1 190.9 506.5 192.7 502.3 195.3Z"/>
<path fill="#4563fd" d="M506.5 192.7 510.6 190 514 191.2 509.8 193.6Z"/>
<path fill="#4269fe" d="M514 191.2 518.1 188.8 521.5 189.5 517.3 191.7Z"/>
<path fill="#3875fe" d="M521.5 189.5 525.6 187.2 529 187.6 524.8 189.7Z"/>
<path fill="#2f81fa" d="M529 187.6 533.2 185.5 536.5 185.6 532.3 187.6Z"/>
<path fill="#2d8cf3" d="M536.5 185.6 540.7 183.6 544 183.6 539.8 185.5Z"/>
<path fill="#2797eb" d="M544 183.6 548.2 181.6 551.5 181.7 547.3 183.6Z"/>
<path fill="#23a0e5" d="M551.5 181.7 555.7 179.7 559 180 554.8 182Z"/>
<path fill="#20a5e3" d="M559 180 563.2 178.1 566.5 179 562.4 181.1Z"/>
<path fill="#18addb" d="M566.5 179 570.7 176.8 574 178.4 569.9 180.7Z"/>
<path fill="#18addb" d="M574 178.4 578.2 176.1 581.5 178.3 577.4 180.7Z"/>
<path fill="#18addb" d="M581.5 178.3 585.7 175.9 589.1 178.4 584.9 180.9Z"/>
<path fill="#18addb" d="M589.1 178.4 593.2 175.9 596.6 178.5 592.4 181.1Z"/>
<path fill="#18addb" d="M596.6 178.5 600.7 176 604.1 178.7 599.9 181.2Z"/>
<path fill="#1ca9df" d="M604.1 178.7 608.3 176.2 611.6 178.9 607.4 181.4Z"/>
<path fill="#1ca9df" d="M611.6 178.9 615.8 176.3 619.1 179 614.9 181.5Z"/>
<path fill="#1ca9df" d="M619.1 179 623.3 176.4 626.6 179 622.4 181.5Z"/>
<path fill="#1ca9df" d="M626.6 179 630.8 176.5 634.1 179.1 629.9 181.5Z"/>
<path fill="#1ca9df" d="M634.1 179.1 638.3 176.6 641.6 179 637.4 181.5Z"/>
<path fill="#1ca9df" d="M641.6 179 645.8 176.6 649.1 179 645 181.4Z"/>
<path fill="#1ca9df" d="M649.1 179 653.3 176.5 656.6 178.9 652.5 181.4Z"/>
<path fill="#1ca9df" d="M656.6 178.9 660.8 176.4 664.2 178.8 660 181.3Z"/>
<path fill="#b9c431" d="M419.7 163.8 423.9 162 427.2 172.9 423 175.6Z"/>
<path fill="#37c897" d="M427.2 172.9 431.4 170.2 434.7 180.6 430.5 184Z"/>
<path fill="#08b5d0" d="M434.7 180.6 438.9 177.2 442.2 186.7 438 190.5Z"/>
<path fill="#2797eb" d="M442.2 186.7 446.4 183 449.7 191.2 445.5 195.2Z"/>
<path fill="#327cfc" d="M449.7 191.2 453.9 187.4 457.2 194.3 453.1 198.2Z"/>
<path fill="#4269fe" d="M457.2 194.3 461.4 190.5 464.7 196.3 460.6 200Z"/>
<path fill="#465efb" d="M464.7 196.3 468.9 192.6 472.2 197.3 468.1 200.9Z"/>
<path fill="#4758f8" d="M472.2 197.3 476.4 193.8 479.8 197.6 475.6 201Z"/>
<path fill="#4852f4" d="M479.8 197.6 483.9 194.3 487.3 197.4 483.1 200.4Z"/>
<path fill="#4852f4" d="M487.3 197.4 491.4 194.3 494.8 196.6 490.6 199.4Z"/>
<path fill="#4758f8" d="M494.8 196.6 498.9 193.7 502.3 195.3 498.1 197.8Z"/>
<path fill="#465efb" d="M502.3 195.3 506.5 192.7 509.8 193.6 505.6 196Z"/>
<path fill="#4269fe" d="M509.8 193.6 514 191.2 517.3 191.7 513.1 193.9Z"/>
<path fill="#3875fe" d="M517.3 191.7 521.5 189.5 524.8 189.7 520.6 191.8Z"/>
<path fill="#2f81fa" d="M524.8 189.7 529 187.6 532.3 187.6 528.1 189.6Z"/>
<path fill="#2d8cf3" d="M532.3 187.6 536.5 185.6 539.8 185.5 535.7 187.4Z"/>
<path fill="#2797eb" d="M539.8 185.5 544 183.6 547.3 183.6 543.2 185.5Z"/>
<path fill="#23a0e5" d="M547.3 183.6 551.5 181.7 554.8 182 550.7 184.1Z"/>
<path fill="#1ca9df" d="M554.8 182 559 180 562.4 181.1 558.2 183.3Z"/>
<path fill="#18addb" d="M562.4 181.1 566.5 179 569.9 180.7 565.7 183.1Z"/>
<path fill="#18addb" d="M569.9 180.7 574 178.4 577.4 180.7 573.2 183.2Z"/>
<path fill="#18addb" d="M577.4 180.7 581.5 178.3 584.9 180.9 580.7 183.4Z"/>
<path fill="#18addb" d="M584.9 180.9 589.1 178.4 592.4 181.1 588.2 183.6Z"/>
<path fill="#18addb" d="M592.4 181.1 596.6 178.5 599.9 181.2 595.7 183.8Z"/>
<path fill="#1ca9df" d="M599.9 181.2 604.1 178.7 607.4 181.4 603.2 183.9Z"/>
<path fill="#1ca9df" d="M607.4 181.4 611.6 178.9 614.9 181.5 610.7 184Z"/>
<path fill="#1ca9df" d="M614.9 181.5 619.1 179 622.4 181.5 618.3 184Z"/>
<path fill="#1ca9df" d="M622.4 181.5 626.6 179 629.9 181.5 625.8 184Z"/>
<path fill="#1ca9df" d="M629.9 181.5 634.1 179.1 637.4 181.5 633.3 183.9Z"/>
<path fill="#1ca9df" d="M637.4 181.5 641.6 179 645 181.4 640.8 183.8Z"/>
<path fill="#1ca9df" d="M645 181.4 649.1 179 652.5 181.4 648.3 183.8Z"/>
<path fill="#20a5e3" d="M652.5 181.4 656.6 178.9 660 181.3 655.8 183.7Z"/>
<path fill="#37c897" d="M423 175.6 427.2 172.9 430.5 184 426.4 187.7Z"/>
<path fill="#12b1d6" d="M430.5 184 434.7 180.6 438 190.5 433.9 194.6Z"/>
<path fill="#2b91ef" d="M438 190.5 442.2 186.7 445.5 195.2 441.4 199.4Z"/>
<path fill="#3875fe" d="M445.5 195.2 449.7 191.2 453.1 198.2 448.9 202.3Z"/>
<path fill="#465efb" d="M453.1 198.2 457.2 194.3 460.6 200 456.4 203.9Z"/>
<path fill="#4852f4" d="M460.6 200 464.7 196.3 468.1 200.9 463.9 204.5Z"/>
<path fill="#484df0" d="M468.1 200.9 472.2 197.3 475.6 201 471.4 204.3Z"/>
<path fill="#484df0" d="M475.6 201 479.8 197.6 483.1 200.4 478.9 203.5Z"/>
<path fill="#4852f4" d="M483.1 200.4 487.3 197.4 490.6 199.4 486.4 202.1Z"/>
<path fill="#4758f8" d="M490.6 199.4 494.8 196.6 498.1 197.8 493.9 200.3Z"/>
<path fill="#465efb" d="M498.1 197.8 502.3 195.3 505.6 196 501.4 198.3Z"/>
<path fill="#4269fe" d="M505.6 196 509.8 193.6 513.1 193.9 509 196.1Z"/>
<path fill="#3875fe" d="M513.1 193.9 517.3 191.7 520.6 191.8 516.5 193.7Z"/>
<path fill="#2f81fa" d="M520.6 191.8 524.8 189.7 528.1 189.6 524 191.5Z"/>
<path fill="#2b91ef" d="M528.1 189.6 532.3 187.6 535.7 187.4 531.5 189.3Z"/>
<path fill="#259be8" d="M535.7 187.4 539.8 185.5 543.2 185.5 539 187.4Z"/>
<path fill="#20a5e3" d="M543.2 185.5 547.3 183.6 550.7 184.1 546.5 186.2Z"/>
<path fill="#1ca9df" d="M550.7 184.1 554.8 182 558.2 183.3 554 185.6Z"/>
<path fill="#18addb" d="M558.2 183.3 562.4 181.1 565.7 183.1 561.5 185.5Z"/>
<path fill="#18addb" d="M565.7 183.1 569.9 180.7 573.2 183.2 569 185.7Z"/>
<path fill="#18addb" d="M573.2 183.2 577.4 180.7 580.7 183.4 576.5 185.9Z"/>
<path fill="#18addb" d="M580.7 183.4 584.9 180.9 588.2 183.6 584 186.1Z"/>
<path fill="#1ca9df" d="M588.2 183.6 592.4 181.1 595.7 183.8 591.6 186.3Z"/>
<path fill="#1ca9df" d="M595.7 183.8 599.9 181.2 603.2 183.9 599.1 186.4Z"/>
<path fill="#1ca9df" d="M603.2 183.9 607.4 181.4 610.7 184 606.6 186.4Z"/>
<path fill="#1ca9df" d="M610.7 184 614.9 181.5 618.3 184 614.1 186.4Z"/>
<path fill="#1ca9df" d="M618.3 184 622.4 181.5 625.8 184 621.6 186.4Z"/>
<path fill="#1ca9df" d="M625.8 184 629.9 181.5 633.3 183.9 629.1 186.3Z"/>
<path fill="#20a5e3" d="M633.3 183.9 637.4 181.5 640.8 183.8 636.6 186.2Z"/>
<path fill="#20a5e3" d="M640.8 183.8 645 181.4 648.3 183.8 644.1 186.2Z"/>
<path fill="#20a5e3" d="M648.3 183.8 652.5 181.4 655.8 183.7 651.6 186.1Z"/>
<path fill="#1ca9df" d="M426.4 187.7 430.5 184 433.9 194.6 429.7 198.8Z"/>
<path fill="#2e87f7" d="M433.9 194.6 438 190.5 441.4 199.4 437.2 203.7Z"/>
<path fill="#4269fe" d="M441.4 199.4 445.5 195.2 448.9 202.3 444.7 206.5Z"/>
<path fill="#4758f8" d="M448.9 202.3 453.1 198.2 456.4 203.9 452.2 207.8Z"/>
<path fill="#484df0" d="M456.4 203.9 460.6 200 463.9 204.5 459.7 208.1Z"/>
<path fill="#4747eb" d="M463.9 204.5 468.1 200.9 471.4 204.3 467.2 207.6Z"/>
<path fill="#4747eb" d="M471.4 204.3 475.6 201 478.9 203.5 474.7 206.5Z"/>
<path fill="#484df0" d="M478.9 203.5 483.1 200.4 486.4 202.1 482.2 204.8Z"/>
<path fill="#4852f4" d="M486.4 202.1 490.6 199.4 493.9 200.3 489.8 202.8Z"/>
<path fill="#465efb" d="M493.9 200.3 498.1 197.8 501.4 198.3 497.3 200.5Z"/>
<path fill="#4269fe" d="M501.4 198.3 505.6 196 509 196.1 504.8 198.1Z"/>
<path fill="#3875fe" d="M509 196.1 513.1 193.9 516.5 193.7 512.3 195.7Z"/>
<path fill="#2e87f7" d="M516.5 193.7 520.6 191.8 524 191.5 519.8 193.3Z"/>
<path fill="#2b91ef" d="M524 191.5 528.1 189.6 531.5 189.3 527.3 191.1Z"/>
<path fill="#259be8" d="M531.5 189.3 535.7 187.4 539 187.4 534.8 189.3Z"/>
<path fill="#20a5e3" d="M539 187.4 543.2 185.5 546.5 186.2 542.3 188.3Z"/>
<path fill="#18addb" d="M546.5 186.2 550.7 184.1 554 185.6 549.8 187.9Z"/>
<path fill="#18addb" d="M554 185.6 558.2 183.3 561.5 185.5 557.3 187.9Z"/>
<path fill="#18addb" d="M561.5 185.5 565.7 183.1 569 185.7 564.9 188.2Z"/>
<path fill="#18addb" d="M569 185.7 573.2 183.2 576.5 185.9 572.4 188.4Z"/>
<path fill="#18addb" d="M576.5 185.9 580.7 183.4 584 186.1 579.9 188.6Z"/>
<path fill="#1ca9df" d="M584 186.1 588.2 183.6 591.6 186.3 587.4 188.8Z"/>
<path fill="#1ca9df" d="M591.6 186.3 595.7 183.8 599.1 186.4 594.9 188.8Z"/>
<path fill="#1ca9df" d="M599.1 186.4 603.2 183.9 606.6 186.4 602.4 188.8Z"/>
<path fill="#1ca9df" d="M606.6 186.4 610.7 184 614.1 186.4 609.9 188.8Z"/>
<path fill="#1ca9df" d="M614.1 186.4 618.3 184 621.6 186.4 617.4 188.8Z"/>
<path fill="#20a5e3" d="M621.6 186.4 625.8 184 629.1 186.3 624.9 188.7Z"/>
<path fill="#20a5e3" d="M629.1 186.3 633.3 183.9 636.6 186.2 632.4 188.6Z"/>
<path fill="#20a5e3" d="M636.6 186.2 640.8 183.8 644.1 186.2 639.9 188.6Z"/>
<path fill="#20a5e3" d="M644.1 186.2 648.3 183.8 651.6 186.1 647.5 188.5Z"/>
<path fill="#327cfc" d="M429.7 198.8 433.9 194.6 437.2 203.7 433 208.2Z"/>
<path fill="#465efb" d="M437.2 203.7 441.4 199.4 444.7 206.5 440.5 210.8Z"/>
<path fill="#484df0" d="M444.7 206.5 448.9 202.3 452.2 207.8 448 211.9Z"/>
<path fill="#4741e5" d="M452.2 207.8 456.4 203.9 459.7 208.1 455.5 211.8Z"/>
<path fill="#4741e5" d="M459.7 208.1 463.9 204.5 467.2 207.6 463.1 211Z"/>
<path fill="#4741e5" d="M467.2 207.6 471.4 204.3 474.7 206.5 470.6 209.5Z"/>
<path fill="#4747eb" d="M474.7 206.5 478.9 203.5 482.2 204.8 478.1 207.5Z"/>
<path fill="#4852f4" d="M482.2 204.8 486.4 202.1 489.8 202.8 485.6 205.2Z"/>
<path fill="#465efb" d="M489.8 202.8 493.9 200.3 497.3 200.5 493.1 202.7Z"/>
<path fill="#4269fe" d="M497.3 200.5 501.4 198.3 504.8 198.1 500.6 200.2Z"/>
<path fill="#327cfc" d="M504.8 198.1 509 196.1 512.3 195.7 508.1 197.6Z"/>
<path fill="#2e87f7" d="M512.3 195.7 516.5 193.7 519.8 193.3 515.6 195.2Z"/>
<path fill="#2797eb" d="M519.8 193.3 524 191.5 527.3 191.1 523.1 192.9Z"/>
<path fill="#23a0e5" d="M527.3 191.1 531.5 189.3 534.8 189.3 530.6 191.3Z"/>
<path fill="#1ca9df" d="M534.8 189.3 539 187.4 542.3 188.3 538.1 190.5Z"/>
<path fill="#18addb" d="M542.3 188.3 546.5 186.2 549.8 187.9 545.7 190.3Z"/>
<path fill="#18addb" d="M549.8 187.9 554 185.6 557.3 187.9 553.2 190.4Z"/>
<path fill="#18addb" d="M557.3 187.9 561.5 185.5 564.9 188.2 560.7 190.7Z"/>
<path fill="#18addb" d="M564.9 188.2 569 185.7 572.4 188.4 568.2 190.9Z"/>
<path fill="#1ca9df" d="M572.4 188.4 576.5 185.9 579.9 188.6 575.7 191.1Z"/>
<path fill="#1ca9df" d="M579.9 188.6 584 186.1 587.4 188.8 583.2 191.2Z"/>
<path fill="#1ca9df" d="M587.4 188.8 591.6 186.3 594.9 188.8 590.7 191.3Z"/>
<path fill="#1ca9df" d="M594.9 188.8 599.1 186.4 602.4 188.8 598.2 191.3Z"/>
<path fill="#1ca9df" d="M602.4 188.8 606.6 186.4 609.9 188.8 605.7 191.2Z"/>
<path fill="#20a5e3" d="M609.9 188.8 614.1 186.4 617.4 188.8 613.2 191.2Z"/>
<path fill="#20a5e3" d="M617.4 188.8 621.6 186.4 624.9 188.7 620.8 191.1Z"/>
<path fill="#20a5e3" d="M624.9 188.7 629.1 186.3 632.4 188.6 628.3 191Z"/>
<path fill="#20a5e3" d="M632.4 188.6 636.6 186.2 639.9 188.6 635.8 190.9Z"/>
<path fill="#20a5e3" d="M639.9 188.6 644.1 186.2 647.5 188.5 643.3 190.9Z"/>
<path fill="#484df0" d="M433 208.2 437.2 203.7 440.5 210.8 436.4 215.3Z"/>
<path fill="#4741e5" d="M440.5 210.8 444.7 206.5 448 211.9 443.9 216Z"/>
<path fill="#4537d5" d="M448 211.9 452.2 207.8 455.5 211.8 451.4 215.6Z"/>
<path fill="#4537d5" d="M455.5 211.8 459.7 208.1 463.1 211 458.9 214.4Z"/>
<path fill="#463cde" d="M463.1 211 467.2 207.6 470.6 209.5 466.4 212.5Z"/>
<path fill="#4747eb" d="M470.6 209.5 474.7 206.5 478.1 207.5 473.9 210.2Z"/>
<path fill="#4852f4" d="M478.1 207.5 482.2 204.8 485.6 205.2 481.4 207.6Z"/>
<path fill="#465efb" d="M485.6 205.2 489.8 202.8 493.1 202.7 488.9 204.9Z"/>
<path fill="#3e6fff" d="M493.1 202.7 497.3 200.5 500.6 200.2 496.4 202.1Z"/>
<path fill="#327cfc" d="M500.6 200.2 504.8 198.1 508.1 197.6 503.9 199.5Z"/>
<path fill="#2d8cf3" d="M508.1 197.6 512.3 195.7 515.6 195.2 511.4 196.9Z"/>
<path fill="#2797eb" d="M515.6 195.2 519.8 193.3 523.1 192.9 519 194.8Z"/>
<path fill="#20a5e3" d="M523.1 192.9 527.3 191.1 530.6 191.3 526.5 193.4Z"/>
<path fill="#1ca9df" d="M530.6 191.3 534.8 189.3 538.1 190.5 534 192.8Z"/>
<path fill="#18addb" d="M538.1 190.5 542.3 188.3 545.7 190.3 541.5 192.7Z"/>
<path fill="#18addb" d="M545.7 190.3 549.8 187.9 553.2 190.4 549 192.9Z"/>
<path fill="#18addb" d="M553.2 190.4 557.3 187.9 560.7 190.7 556.5 193.2Z"/>
<path fill="#18addb" d="M560.7 190.7 564.9 188.2 568.2 190.9 564 193.4Z"/>
<path fill="#1ca9df" d="M568.2 190.9 572.4 188.4 575.7 191.1 571.5 193.6Z"/>
<path fill="#1ca9df" d="M575.7 191.1 579.9 188.6 583.2 191.2 579 193.7Z"/>
<path fill="#1ca9df" d="M583.2 191.2 587.4 188.8 590.7 191.3 586.5 193.7Z"/>
<path fill="#1ca9df" d="M590.7 191.3 594.9 188.8 598.2 191.3 594 193.7Z"/>
<path fill="#1ca9df" d="M598.2 191.3 602.4 188.8 605.7 191.2 601.6 193.6Z"/>
<path fill="#20a5e3" d="M605.7 191.2 609.9 188.8 613.2 191.2 609.1 193.5Z"/>
<path fill="#20a5e3" d="M613.2 191.2 617.4 188.8 620.8 191.1 616.6 193.5Z"/>
<path fill="#20a5e3" d="M620.8 191.1 624.9 188.7 628.3 191 624.1 193.4Z"/>
<path fill="#20a5e3" d="M628.3 191 632.4 188.6 635.8 190.9 631.6 193.3Z"/>
<path fill="#20a5e3" d="M635.8 190.9 639.9 188.6 643.3 190.9 639.1 193.2Z"/>
<path fill="#4332cb" d="M436.4 215.3 440.5 210.8 443.9 216 439.7 220.3Z"/>
<path fill="#422ec0" d="M443.9 216 448 211.9 451.4 215.6 447.2 219.5Z"/>
<path fill="#4332cb" d="M451.4 215.6 455.5 211.8 458.9 214.4 454.7 217.8Z"/>
<path fill="#4537d5" d="M458.9 214.4 463.1 211 466.4 212.5 462.2 215.5Z"/>
<path fill="#4741e5" d="M466.4 212.5 470.6 209.5 473.9 210.2 469.7 212.8Z"/>
<path fill="#484df0" d="M473.9 210.2 478.1 207.5 481.4 207.6 477.2 209.9Z"/>
<path fill="#465efb" d="M481.4 207.6 485.6 205.2 488.9 204.9 484.7 207Z"/>
<path fill="#3e6fff" d="M488.9 204.9 493.1 202.7 496.4 202.1 492.3 204.1Z"/>
<path fill="#2f81fa" d="M496.4 202.1 500.6 200.2 503.9 199.5 499.8 201.3Z"/>
<path fill="#2d8cf3" d="M503.9 199.5 508.1 197.6 511.4 196.9 507.3 198.7Z"/>
<path fill="#259be8" d="M511.4 196.9 515.6 195.2 519 194.8 514.8 196.7Z"/>
<path fill="#20a5e3" d="M519 194.8 523.1 192.9 526.5 193.4 522.3 195.5Z"/>
<path fill="#18addb" d="M526.5 193.4 530.6 191.3 534 192.8 529.8 195.1Z"/>
<path fill="#18addb" d="M534 192.8 538.1 190.5 541.5 192.7 537.3 195.1Z"/>
<path fill="#18addb" d="M541.5 192.7 545.7 190.3 549 192.9 544.8 195.4Z"/>
<path fill="#18addb" d="M549 192.9 553.2 190.4 556.5 193.2 552.3 195.7Z"/>
<path fill="#1ca9df" d="M556.5 193.2 560.7 190.7 564 193.4 559.8 195.9Z"/>
<path fill="#1ca9df" d="M564 193.4 568.2 190.9 571.5 193.6 567.3 196Z"/>
<path fill="#1ca9df" d="M571.5 193.6 575.7 191.1 579 193.7 574.9 196.1Z"/>
<path fill="#1ca9df" d="M579 193.7 583.2 191.2 586.5 193.7 582.4 196.1Z"/>
<path fill="#1ca9df" d="M586.5 193.7 590.7 191.3 594 193.7 589.9 196.1Z"/>
<path fill="#20a5e3" d="M594 193.7 598.2 191.3 601.6 193.6 597.4 196Z"/>
<path fill="#20a5e3" d="M601.6 193.6 605.7 191.2 609.1 193.5 604.9 195.9Z"/>
<path fill="#20a5e3" d="M609.1 193.5 613.2 191.2 616.6 193.5 612.4 195.9Z"/>
<path fill="#20a5e3" d="M616.6 193.5 620.8 191.1 624.1 193.4 619.9 195.8Z"/>
<path fill="#20a5e3" d="M624.1 193.4 628.3 191 631.6 193.3 627.4 195.7Z"/>
<path fill="#20a5e3" d="M631.6 193.3 635.8 190.9 639.1 193.2 634.9 195.6Z"/>
<path fill="#3e26a8" d="M439.7 220.3 443.9 216 447.2 219.5 443 223.5Z"/>
<path fill="#402ab4" d="M447.2 219.5 451.4 215.6 454.7 217.8 450.5 221.3Z"/>
<path fill="#4332cb" d="M454.7 217.8 458.9 214.4 462.2 215.5 458 218.5Z"/>
<path fill="#463cde" d="M462.2 215.5 466.4 212.5 469.7 212.8 465.6 215.4Z"/>
<path fill="#484df0" d="M469.7 212.8 473.9 210.2 477.2 209.9 473.1 212.2Z"/>
<path fill="#465efb" d="M477.2 209.9 481.4 207.6 484.7 207 480.6 209Z"/>
<path fill="#3e6fff" d="M484.7 207 488.9 204.9 492.3 204.1 488.1 205.9Z"/>
<path fill="#2f81fa" d="M492.3 204.1 496.4 202.1 499.8 201.3 495.6 203Z"/>
<path fill="#2b91ef" d="M499.8 201.3 503.9 199.5 507.3 198.7 503.1 200.5Z"/>
<path fill="#23a0e5" d="M507.3 198.7 511.4 196.9 514.8 196.7 510.6 198.6Z"/>
<path fill="#1ca9df" d="M514.8 196.7 519 194.8 522.3 195.5 518.1 197.7Z"/>
<path fill="#18addb" d="M522.3 195.5 526.5 193.4 529.8 195.1 525.6 197.4Z"/>
<path fill="#18addb" d="M529.8 195.1 534 192.8 537.3 195.1 533.1 197.6Z"/>
<path fill="#18addb" d="M537.3 195.1 541.5 192.7 544.8 195.4 540.6 197.9Z"/>
<path fill="#18addb" d="M544.8 195.4 549 192.9 552.3 195.7 548.2 198.2Z"/>
<path fill="#1ca9df" d="M552.3 195.7 556.5 193.2 559.8 195.9 555.7 198.4Z"/>
<path fill="#1ca9df" d="M559.8 195.9 564 193.4 567.3 196 563.2 198.5Z"/>
<path fill="#1ca9df" d="M567.3 196 571.5 193.6 574.9 196.1 570.7 198.5Z"/>
<path fill="#1ca9df" d="M574.9 196.1 579 193.7 582.4 196.1 578.2 198.5Z"/>
<path fill="#20a5e3" d="M582.4 196.1 586.5 193.7 589.9 196.1 585.7 198.4Z"/>
<path fill="#20a5e3" d="M589.9 196.1 594 193.7 597.4 196 593.2 198.4Z"/>
<path fill="#20a5e3" d="M597.4 196 601.6 193.6 604.9 195.9 600.7 198.3Z"/>
<path fill="#20a5e3" d="M604.9 195.9 609.1 193.5 612.4 195.9 608.2 198.2Z"/>
<path fill="#20a5e3" d="M612.4 195.9 616.6 193.5 619.9 195.8 615.7 198.2Z"/>
<path fill="#20a5e3" d="M619.9 195.8 624.1 193.4 627.4 195.7 623.2 198.1Z"/>
<path fill="#20a5e3" d="M627.4 195.7 631.6 193.3 634.9 195.6 630.8 198Z"/>
<path fill="#3e26a8" d="M443 223.5 447.2 219.5 450.5 221.3 446.4 224.7Z"/>
<path fill="#422ec0" d="M450.5 221.3 454.7 217.8 458 218.5 453.9 221.4Z"/>
<path fill="#463cde" d="M458 218.5 462.2 215.5 465.6 215.4 461.4 217.9Z"/>
<path fill="#484df0" d="M465.6 215.4 469.7 212.8 473.1 212.2 468.9 214.4Z"/>
<path fill="#465efb" d="M473.1 212.2 477.2 209.9 480.6 209 476.4 211Z"/>
<path fill="#3e6fff" d="M480.6 209 484.7 207 488.1 205.9 483.9 207.8Z"/>
<path fill="#2e87f7" d="M488.1 205.9 492.3 204.1 495.6 203 491.4 204.8Z"/>
<path fill="#2797eb" d="M495.6 203 499.8 201.3 503.1 200.5 498.9 202.2Z"/>
<path fill="#23a0e5" d="M503.1 200.5 507.3 198.7 510.6 198.6 506.4 200.6Z"/>
<path fill="#1ca9df" d="M510.6 198.6 514.8 196.7 518.1 197.7 513.9 199.9Z"/>
<path fill="#18addb" d="M518.1 197.7 522.3 195.5 525.6 197.4 521.5 199.8Z"/>
<path fill="#18addb" d="M525.6 197.4 529.8 195.1 533.1 197.6 529 200.1Z"/>
<path fill="#18addb" d="M533.1 197.6 537.3 195.1 540.6 197.9 536.5 200.4Z"/>
<path fill="#18addb" d="M540.6 197.9 544.8 195.4 548.2 198.2 544 200.7Z"/>
<path fill="#1ca9df" d="M548.2 198.2 552.3 195.7 555.7 198.4 551.5 200.8Z"/>
<path fill="#1ca9df" d="M555.7 198.4 559.8 195.9 563.2 198.5 559 200.9Z"/>
<path fill="#1ca9df" d="M563.2 198.5 567.3 196 570.7 198.5 566.5 200.9Z"/>
<path fill="#1ca9df" d="M570.7 198.5 574.9 196.1 578.2 198.5 574 200.9Z"/>
<path fill="#20a5e3" d="M578.2 198.5 582.4 196.1 585.7 198.4 581.5 200.8Z"/>
<path fill="#20a5e3" d="M585.7 198.4 589.9 196.1 593.2 198.4 589 200.8Z"/>
<path fill="#20a5e3" d="M593.2 198.4 597.4 196 600.7 198.3 596.5 200.7Z"/>
<path fill="#20a5e3" d="M600.7 198.3 604.9 195.9 608.2 198.2 604.1 200.6Z"/>
<path fill="#20a5e3" d="M608.2 198.2 612.4 195.9 615.7 198.2 611.6 200.5Z"/>
<path fill="#20a5e3" d="M615.7 198.2 619.9 195.8 623.2 198.1 619.1 200.4Z"/>
<path fill="#20a5e3" d="M623.2 198.1 627.4 195.7 630.8 198 626.6 200.4Z"/>
<path fill="#402ab4" d="M446.4 224.7 450.5 221.3 453.9 221.4 449.7 224.4Z"/>
<path fill="#4537d5" d="M453.9 221.4 458 218.5 461.4 217.9 457.2 220.4Z"/>
<path fill="#484df0" d="M461.4 217.9 465.6 215.4 468.9 214.4 464.7 216.6Z"/>
<path fill="#465efb" d="M468.9 214.4 473.1 212.2 476.4 211 472.2 212.9Z"/>
<path fill="#3875fe" d="M476.4 211 480.6 209 483.9 207.8 479.7 209.5Z"/>
<path fill="#2e87f7" d="M483.9 207.8 488.1 205.9 491.4 204.8 487.2 206.5Z"/>
<path fill="#2797eb" d="M491.4 204.8 495.6 203 498.9 202.2 494.8 204Z"/>
<path fill="#20a5e3" d="M498.9 202.2 503.1 200.5 506.4 200.6 502.3 202.7Z"/>
<path fill="#18addb" d="M506.4 200.6 510.6 198.6 513.9 199.9 509.8 202.2Z"/>
<path fill="#18addb" d="M513.9 199.9 518.1 197.7 521.5 199.8 517.3 202.3Z"/>
<path fill="#18addb" d="M521.5 199.8 525.6 197.4 529 200.1 524.8 202.6Z"/>
<path fill="#18addb" d="M529 200.1 533.1 197.6 536.5 200.4 532.3 202.9Z"/>
<path fill="#1ca9df" d="M536.5 200.4 540.6 197.9 544 200.7 539.8 203.2Z"/>
<path fill="#1ca9df" d="M544 200.7 548.2 198.2 551.5 200.8 547.3 203.3Z"/>
<path fill="#1ca9df" d="M551.5 200.8 555.7 198.4 559 200.9 554.8 203.3Z"/>
<path fill="#1ca9df" d="M559 200.9 563.2 198.5 566.5 200.9 562.3 203.3Z"/>
<path fill="#20a5e3" d="M566.5 200.9 570.7 198.5 574 200.9 569.8 203.3Z"/>
<path fill="#20a5e3" d="M574 200.9 578.2 198.5 581.5 200.8 577.4 203.2Z"/>
<path fill="#20a5e3" d="M581.5 200.8 585.7 198.4 589 200.8 584.9 203.1Z"/>
<path fill="#20a5e3" d="M589 200.8 593.2 198.4 596.5 200.7 592.4 203.1Z"/>
<path fill="#20a5e3" d="M596.5 200.7 600.7 198.3 604.1 200.6 599.9 203Z"/>
<path fill="#20a5e3" d="M604.1 200.6 608.2 198.2 611.6 200.5 607.4 202.9Z"/>
<path fill="#20a5e3" d="M611.6 200.5 615.7 198.2 619.1 200.4 614.9 202.8Z"/>
<path fill="#20a5e3" d="M619.1 200.4 623.2 198.1 626.6 200.4 622.4 202.7Z"/>
<path fill="#4332cb" d="M449.7 224.4 453.9 221.4 457.2 220.4 453 222.9Z"/>
<path fill="#4747eb" d="M457.2 220.4 461.4 217.9 464.7 216.6 460.5 218.7Z"/>
<path fill="#4563fd" d="M464.7 216.6 468.9 214.4 472.2 212.9 468 214.8Z"/>
<path fill="#3875fe" d="M472.2 212.9 476.4 211 479.7 209.5 475.6 211.2Z"/>
<path fill="#2d8cf3" d="M479.7 209.5 483.9 207.8 487.2 206.5 483.1 208.2Z"/>
<path fill="#259be8" d="M487.2 206.5 491.4 204.8 494.8 204 490.6 205.9Z"/>
<path fill="#20a5e3" d="M494.8 204 498.9 202.2 502.3 202.7 498.1 204.7Z"/>
<path fill="#18addb" d="M502.3 202.7 506.4 200.6 509.8 202.2 505.6 204.5Z"/>
<path fill="#18addb" d="M509.8 202.2 513.9 199.9 517.3 202.3 513.1 204.7Z"/>
<path fill="#18addb" d="M517.3 202.3 521.5 199.8 524.8 202.6 520.6 205.1Z"/>
<path fill="#18addb" d="M524.8 202.6 529 200.1 532.3 202.9 528.1 205.4Z"/>
<path fill="#1ca9df" d="M532.3 202.9 536.5 200.4 539.8 203.2 535.6 205.6Z"/>
<path fill="#1ca9df" d="M539.8 203.2 544 200.7 547.3 203.3 543.1 205.7Z"/>
<path fill="#1ca9df" d="M547.3 203.3 551.5 200.8 554.8 203.3 550.7 205.7Z"/>
<path fill="#1ca9df" d="M554.8 203.3 559 200.9 562.3 203.3 558.2 205.7Z"/>
<path fill="#20a5e3" d="M562.3 203.3 566.5 200.9 569.8 203.3 565.7 205.7Z"/>
<path fill="#20a5e3" d="M569.8 203.3 574 200.9 577.4 203.2 573.2 205.6Z"/>
<path fill="#20a5e3" d="M577.4 203.2 581.5 200.8 584.9 203.1 580.7 205.5Z"/>
<path fill="#20a5e3" d="M584.9 203.1 589 200.8 592.4 203.1 588.2 205.4Z"/>
<path fill="#20a5e3" d="M592.4 203.1 596.5 200.7 599.9 203 595.7 205.4Z"/>
<path fill="#20a5e3" d="M599.9 203 604.1 200.6 607.4 202.9 603.2 205.3Z"/>
<path fill="#20a5e3" d="M607.4 202.9 611.6 200.5 614.9 202.8 610.7 205.2Z"/>
<path fill="#20a5e3" d="M614.9 202.8 619.1 200.4 622.4 202.7 618.2 205.1Z"/>
<path fill="#4747eb" d="M453 222.9 457.2 220.4 460.5 218.7 456.4 220.7Z"/>
<path fill="#4563fd" d="M460.5 218.7 464.7 216.6 468 214.8 463.9 216.6Z"/>
<path fill="#327cfc" d="M468 214.8 472.2 212.9 475.6 211.2 471.4 212.9Z"/>
<path fill="#2b91ef" d="M475.6 211.2 479.7 209.5 483.1 208.2 478.9 209.8Z"/>
<path fill="#23a0e5" d="M483.1 208.2 487.2 206.5 490.6 205.9 486.4 207.7Z"/>
<path fill="#1ca9df" d="M490.6 205.9 494.8 204 498.1 204.7 493.9 206.7Z"/>
<path fill="#18addb" d="M498.1 204.7 502.3 202.7 505.6 204.5 501.4 206.7Z"/>
<path fill="#18addb" d="M505.6 204.5 509.8 202.2 513.1 204.7 508.9 207.2Z"/>
<path fill="#18addb" d="M513.1 204.7 517.3 202.3 520.6 205.1 516.4 207.6Z"/>
<path fill="#18addb" d="M520.6 205.1 524.8 202.6 528.1 205.4 523.9 207.9Z"/>
<path fill="#1ca9df" d="M528.1 205.4 532.3 202.9 535.6 205.6 531.5 208.1Z"/>
<path fill="#1ca9df" d="M535.6 205.6 539.8 203.2 543.1 205.7 539 208.1Z"/>
<path fill="#1ca9df" d="M543.1 205.7 547.3 203.3 550.7 205.7 546.5 208.1Z"/>
<path fill="#20a5e3" d="M550.7 205.7 554.8 203.3 558.2 205.7 554 208.1Z"/>
<path fill="#20a5e3" d="M558.2 205.7 562.3 203.3 565.7 205.7 561.5 208Z"/>
<path fill="#20a5e3" d="M565.7 205.7 569.8 203.3 573.2 205.6 569 208Z"/>
<path fill="#20a5e3" d="M573.2 205.6 577.4 203.2 580.7 205.5 576.5 207.9Z"/>
<path fill="#20a5e3" d="M580.7 205.5 584.9 203.1 588.2 205.4 584 207.8Z"/>
<path fill="#20a5e3" d="M588.2 205.4 592.4 203.1 595.7 205.4 591.5 207.7Z"/>
<path fill="#20a5e3" d="M595.7 205.4 599.9 203 603.2 205.3 599 207.7Z"/>
<path fill="#20a5e3" d="M603.2 205.3 607.4 202.9 610.7 205.2 606.6 207.6Z"/>
<path fill="#20a5e3" d="M610.7 205.2 614.9 202.8 618.2 205.1 614.1 207.5Z"/>
<path fill="#4563fd" d="M456.4 220.7 460.5 218.7 463.9 216.6 459.7 218.3Z"/>
<path fill="#327cfc" d="M463.9 216.6 468 214.8 471.4 212.9 467.2 214.6Z"/>
<path fill="#2b91ef" d="M471.4 212.9 475.6 211.2 478.9 209.8 474.7 211.5Z"/>
<path fill="#23a0e5" d="M478.9 209.8 483.1 208.2 486.4 207.7 482.2 209.5Z"/>
<path fill="#18addb" d="M486.4 207.7 490.6 205.9 493.9 206.7 489.7 208.7Z"/>
<path fill="#12b1d6" d="M493.9 206.7 498.1 204.7 501.4 206.7 497.2 208.8Z"/>
<path fill="#12b1d6" d="M501.4 206.7 505.6 204.5 508.9 207.2 504.8 209.4Z"/>
<path fill="#18addb" d="M508.9 207.2 513.1 204.7 516.4 207.6 512.3 210.1Z"/>
<path fill="#1ca9df" d="M516.4 207.6 520.6 205.1 523.9 207.9 519.8 210.4Z"/>
<path fill="#1ca9df" d="M523.9 207.9 528.1 205.4 531.5 208.1 527.3 210.5Z"/>
<path fill="#1ca9df" d="M531.5 208.1 535.6 205.6 539 208.1 534.8 210.6Z"/>
<path fill="#1ca9df" d="M539 208.1 543.1 205.7 546.5 208.1 542.3 210.5Z"/>
<path fill="#20a5e3" d="M546.5 208.1 550.7 205.7 554 208.1 549.8 210.5Z"/>
<path fill="#20a5e3" d="M554 208.1 558.2 205.7 561.5 208 557.3 210.4Z"/>
<path fill="#20a5e3" d="M561.5 208 565.7 205.7 569 208 564.8 210.3Z"/>
<path fill="#20a5e3" d="M569 208 573.2 205.6 576.5 207.9 572.3 210.3Z"/>
<path fill="#20a5e3" d="M576.5 207.9 580.7 205.5 584 207.8 579.8 210.2Z"/>
<path fill="#20a5e3" d="M584 207.8 588.2 205.4 591.5 207.7 587.4 210.1Z"/>
<path fill="#20a5e3" d="M591.5 207.7 595.7 205.4 599 207.7 594.9 210Z"/>
<path fill="#20a5e3" d="M599 207.7 603.2 205.3 606.6 207.6 602.4 209.9Z"/>
<path fill="#20a5e3" d="M606.6 207.6 610.7 205.2 614.1 207.5 609.9 209.9Z"/>
<path fill="#2f81fa" d="M459.7 218.3 463.9 216.6 467.2 214.6 463 216.2Z"/>
<path fill="#2797eb" d="M467.2 214.6 471.4 212.9 474.7 211.5 470.5 213.1Z"/>
<path fill="#20a5e3" d="M474.7 211.5 478.9 209.8 482.2 209.5 478.1 211.2Z"/>
<path fill="#18addb" d="M482.2 209.5 486.4 207.7 489.7 208.7 485.6 210.6Z"/>
<path fill="#12b1d6" d="M489.7 208.7 493.9 206.7 497.2 208.8 493.1 210.9Z"/>
<path fill="#12b1d6" d="M497.2 208.8 501.4 206.7 504.8 209.4 500.6 211.6Z"/>
<path fill="#18addb" d="M504.8 209.4 508.9 207.2 512.3 210.1 508.1 212.4Z"/>
<path fill="#1ca9df" d="M512.3 210.1 516.4 207.6 519.8 210.4 515.6 212.8Z"/>
<path fill="#1ca9df" d="M519.8 210.4 523.9 207.9 527.3 210.5 523.1 212.9Z"/>
<path fill="#1ca9df" d="M527.3 210.5 531.5 208.1 534.8 210.6 530.6 213Z"/>
<path fill="#1ca9df" d="M534.8 210.6 539 208.1 542.3 210.5 538.1 212.9Z"/>
<path fill="#20a5e3" d="M542.3 210.5 546.5 208.1 549.8 210.5 545.6 212.9Z"/>
<path fill="#20a5e3" d="M549.8 210.5 554 208.1 557.3 210.4 553.1 212.8Z"/>
<path fill="#20a5e3" d="M557.3 210.4 561.5 208 564.8 210.3 560.7 212.7Z"/>
<path fill="#20a5e3" d="M564.8 210.3 569 208 572.3 210.3 568.2 212.6Z"/>
<path fill="#20a5e3" d="M572.3 210.3 576.5 207.9 579.8 210.2 575.7 212.6Z"/>
<path fill="#20a5e3" d="M579.8 210.2 584 207.8 587.4 210.1 583.2 212.5Z"/>
<path fill="#20a5e3" d="M587.4 210.1 591.5 207.7 594.9 210 590.7 212.4Z"/>
<path fill="#20a5e3" d="M594.9 210 599 207.7 602.4 209.9 598.2 212.3Z"/>
<path fill="#20a5e3" d="M602.4 209.9 606.6 207.6 609.9 209.9 605.7 212.2Z"/>
<path fill="#259be8" d="M463 216.2 467.2 214.6 470.5 213.1 466.4 214.7Z"/>
<path fill="#1ca9df" d="M470.5 213.1 474.7 211.5 478.1 211.2 473.9 212.9Z"/>
<path fill="#12b1d6" d="M478.1 211.2 482.2 209.5 485.6 210.6 481.4 212.4Z"/>
<path fill="#08b5d0" d="M485.6 210.6 489.7 208.7 493.1 210.9 488.9 212.8Z"/>
<path fill="#12b1d6" d="M493.1 210.9 497.2 208.8 500.6 211.6 496.4 213.7Z"/>
<path fill="#18addb" d="M500.6 211.6 504.8 209.4 508.1 212.4 503.9 214.6Z"/>
<path fill="#1ca9df" d="M508.1 212.4 512.3 210.1 515.6 212.8 511.4 215.1Z"/>
<path fill="#1ca9df" d="M515.6 212.8 519.8 210.4 523.1 212.9 518.9 215.4Z"/>
<path fill="#1ca9df" d="M523.1 212.9 527.3 210.5 530.6 213 526.4 215.4Z"/>
<path fill="#20a5e3" d="M530.6 213 534.8 210.6 538.1 212.9 534 215.3Z"/>
<path fill="#20a5e3" d="M538.1 212.9 542.3 210.5 545.6 212.9 541.5 215.2Z"/>
<path fill="#20a5e3" d="M545.6 212.9 549.8 210.5 553.1 212.8 549 215.2Z"/>
<path fill="#20a5e3" d="M553.1 212.8 557.3 210.4 560.7 212.7 556.5 215.1Z"/>
<path fill="#20a5e3" d="M560.7 212.7 564.8 210.3 568.2 212.6 564 215Z"/>
<path fill="#20a5e3" d="M568.2 212.6 572.3 210.3 575.7 212.6 571.5 214.9Z"/>
<path fill="#20a5e3" d="M575.7 212.6 579.8 210.2 583.2 212.5 579 214.9Z"/>
<path fill="#20a5e3" d="M583.2 212.5 587.4 210.1 590.7 212.4 586.5 214.8Z"/>
<path fill="#20a5e3" d="M590.7 212.4 594.9 210 598.2 212.3 594 214.7Z"/>
<path fill="#20a5e3" d="M598.2 212.3 602.4 209.9 605.7 212.2 601.5 214.6Z"/>
<path fill="#18addb" d="M466.4 214.7 470.5 213.1 473.9 212.9 469.7 214.4Z"/>
<path fill="#08b5d0" d="M473.9 212.9 478.1 211.2 481.4 212.4 477.2 214Z"/>
<path fill="#08b5d0" d="M481.4 212.4 485.6 210.6 488.9 212.8 484.7 214.6Z"/>
<path fill="#08b5d0" d="M488.9 212.8 493.1 210.9 496.4 213.7 492.2 215.7Z"/>
<path fill="#12b1d6" d="M496.4 213.7 500.6 211.6 503.9 214.6 499.7 216.7Z"/>
<path fill="#18addb" d="M503.9 214.6 508.1 212.4 511.4 215.1 507.3 217.4Z"/>
<path fill="#1ca9df" d="M511.4 215.1 515.6 212.8 518.9 215.4 514.8 217.7Z"/>
<path fill="#1ca9df" d="M518.9 215.4 523.1 212.9 526.4 215.4 522.3 217.8Z"/>
<path fill="#20a5e3" d="M526.4 215.4 530.6 213 534 215.3 529.8 217.7Z"/>
<path fill="#20a5e3" d="M534 215.3 538.1 212.9 541.5 215.2 537.3 217.6Z"/>
<path fill="#20a5e3" d="M541.5 215.2 545.6 212.9 549 215.2 544.8 217.5Z"/>
<path fill="#20a5e3" d="M549 215.2 553.1 212.8 556.5 215.1 552.3 217.5Z"/>
<path fill="#20a5e3" d="M556.5 215.1 560.7 212.7 564 215 559.8 217.4Z"/>
<path fill="#20a5e3" d="M564 215 568.2 212.6 571.5 214.9 567.3 217.3Z"/>
<path fill="#20a5e3" d="M571.5 214.9 575.7 212.6 579 214.9 574.8 217.2Z"/>
<path fill="#20a5e3" d="M579 214.9 583.2 212.5 586.5 214.8 582.3 217.1Z"/>
<path fill="#20a5e3" d="M586.5 214.8 590.7 212.4 594 214.7 589.9 217.1Z"/>
<path fill="#20a5e3" d="M594 214.7 598.2 212.3 601.5 214.6 597.4 217Z"/>
<path fill="#01b8ca" d="M469.7 214.4 473.9 212.9 477.2 214 473 215.3Z"/>
<path fill="#01b8ca" d="M477.2 214 481.4 212.4 484.7 214.6 480.5 216.1Z"/>
<path fill="#08b5d0" d="M484.7 214.6 488.9 212.8 492.2 215.7 488.1 217.4Z"/>
<path fill="#12b1d6" d="M492.2 215.7 496.4 213.7 499.7 216.7 495.6 218.7Z"/>
<path fill="#18addb" d="M499.7 216.7 503.9 214.6 507.3 217.4 503.1 219.6Z"/>
<path fill="#1ca9df" d="M507.3 217.4 511.4 215.1 514.8 217.7 510.6 220Z"/>
<path fill="#1ca9df" d="M514.8 217.7 518.9 215.4 522.3 217.8 518.1 220.1Z"/>
<path fill="#20a5e3" d="M522.3 217.8 526.4 215.4 529.8 217.7 525.6 220.1Z"/>
<path fill="#20a5e3" d="M529.8 217.7 534 215.3 537.3 217.6 533.1 220Z"/>
<path fill="#20a5e3" d="M537.3 217.6 541.5 215.2 544.8 217.5 540.6 219.9Z"/>
<path fill="#20a5e3" d="M544.8 217.5 549 215.2 552.3 217.5 548.1 219.8Z"/>
<path fill="#20a5e3" d="M552.3 217.5 556.5 215.1 559.8 217.4 555.6 219.8Z"/>
<path fill="#20a5e3" d="M559.8 217.4 564 215 567.3 217.3 563.2 219.7Z"/>
<path fill="#20a5e3" d="M567.3 217.3 571.5 214.9 574.8 217.2 570.7 219.6Z"/>
<path fill="#20a5e3" d="M574.8 217.2 579 214.9 582.3 217.1 578.2 219.5Z"/>
<path fill="#20a5e3" d="M582.3 217.1 586.5 214.8 589.9 217.1 585.7 219.4Z"/>
<path fill="#20a5e3" d="M589.9 217.1 594 214.7 597.4 217 593.2 219.4Z"/>
<path fill="#02bac3" d="M473 215.3 477.2 214 480.5 216.1 476.4 217.2Z"/>
<path fill="#01b8ca" d="M480.5 216.1 484.7 214.6 488.1 217.4 483.9 218.8Z"/>
<path fill="#08b5d0" d="M488.1 217.4 492.2 215.7 495.6 218.7 491.4 220.5Z"/>
<path fill="#18addb" d="M495.6 218.7 499.7 216.7 503.1 219.6 498.9 221.7Z"/>
<path fill="#1ca9df" d="M503.1 219.6 507.3 217.4 510.6 220 506.4 222.3Z"/>
<path fill="#1ca9df" d="M510.6 220 514.8 217.7 518.1 220.1 513.9 222.5Z"/>
<path fill="#20a5e3" d="M518.1 220.1 522.3 217.8 525.6 220.1 521.4 222.4Z"/>
<path fill="#20a5e3" d="M525.6 220.1 529.8 217.7 533.1 220 528.9 222.4Z"/>
<path fill="#20a5e3" d="M533.1 220 537.3 217.6 540.6 219.9 536.4 222.3Z"/>
<path fill="#20a5e3" d="M540.6 219.9 544.8 217.5 548.1 219.8 544 222.2Z"/>
<path fill="#20a5e3" d="M548.1 219.8 552.3 217.5 555.6 219.8 551.5 222.1Z"/>
<path fill="#20a5e3" d="M555.6 219.8 559.8 217.4 563.2 219.7 559 222.1Z"/>
<path fill="#20a5e3" d="M563.2 219.7 567.3 217.3 570.7 219.6 566.5 222Z"/>
<path fill="#20a5e3" d="M570.7 219.6 574.8 217.2 578.2 219.5 574 221.9Z"/>
<path fill="#20a5e3" d="M578.2 219.5 582.3 217.1 585.7 219.4 581.5 221.8Z"/>
<path fill="#20a5e3" d="M585.7 219.4 589.9 217.1 593.2 219.4 589 221.7Z"/>
<path fill="#0bbdbd" d="M476.4 217.2 480.5 216.1 483.9 218.8 479.7 219.7Z"/>
<path fill="#01b8ca" d="M483.9 218.8 488.1 217.4 491.4 220.5 487.2 222Z"/>
<path fill="#12b1d6" d="M491.4 220.5 495.6 218.7 498.9 221.7 494.7 223.6Z"/>
<path fill="#1ca9df" d="M498.9 221.7 503.1 219.6 506.4 222.3 502.2 224.5Z"/>
<path fill="#1ca9df" d="M506.4 222.3 510.6 220 513.9 222.5 509.7 224.8Z"/>
<path fill="#20a5e3" d="M513.9 222.5 518.1 220.1 521.4 222.4 517.3 224.8Z"/>
<path fill="#20a5e3" d="M521.4 222.4 525.6 220.1 528.9 222.4 524.8 224.8Z"/>
<path fill="#20a5e3" d="M528.9 222.4 533.1 220 536.4 222.3 532.3 224.7Z"/>
<path fill="#20a5e3" d="M536.4 222.3 540.6 219.9 544 222.2 539.8 224.6Z"/>
<path fill="#20a5e3" d="M544 222.2 548.1 219.8 551.5 222.1 547.3 224.5Z"/>
<path fill="#20a5e3" d="M551.5 222.1 555.6 219.8 559 222.1 554.8 224.4Z"/>
<path fill="#20a5e3" d="M559 222.1 563.2 219.7 566.5 222 562.3 224.4Z"/>
<path fill="#20a5e3" d="M566.5 222 570.7 219.6 574 221.9 569.8 224.3Z"/>
<path fill="#20a5e3" d="M574 221.9 578.2 219.5 581.5 221.8 577.3 224.2Z"/>
<path fill="#20a5e3" d="M581.5 221.8 585.7 219.4 589 221.7 584.8 224.1Z"/>
<path fill="#02bac3" d="M479.7 219.7 483.9 218.8 487.2 222 483 222.8Z"/>
<path fill="#08b5d0" d="M487.2 222 491.4 220.5 494.7 223.6 490.6 225.2Z"/>
<path fill="#18addb" d="M494.7 223.6 498.9 221.7 502.2 224.5 498.1 226.6Z"/>
<path fill="#1ca9df" d="M502.2 224.5 506.4 222.3 509.7 224.8 505.6 227.1Z"/>
<path fill="#1ca9df" d="M509.7 224.8 513.9 222.5 517.3 224.8 513.1 227.2Z"/>
<path fill="#20a5e3" d="M517.3 224.8 521.4 222.4 524.8 224.8 520.6 227.1Z"/>
<path fill="#20a5e3" d="M524.8 224.8 528.9 222.4 532.3 224.7 528.1 227Z"/>
<path fill="#20a5e3" d="M532.3 224.7 536.4 222.3 539.8 224.6 535.6 227Z"/>
<path fill="#20a5e3" d="M539.8 224.6 544 222.2 547.3 224.5 543.1 226.9Z"/>
<path fill="#20a5e3" d="M547.3 224.5 551.5 222.1 554.8 224.4 550.6 226.8Z"/>
<path fill="#20a5e3" d="M554.8 224.4 559 222.1 562.3 224.4 558.1 226.7Z"/>
<path fill="#20a5e3" d="M562.3 224.4 566.5 222 569.8 224.3 565.6 226.6Z"/>
<path fill="#20a5e3" d="M569.8 224.3 574 221.9 577.3 224.2 573.2 226.6Z"/>
<path fill="#20a5e3" d="M577.3 224.2 581.5 221.8 584.8 224.1 580.7 226.5Z"/>
<path fill="#01b8ca" d="M483 222.8 487.2 222 490.6 225.2 486.4 226.1Z"/>
<path fill="#12b1d6" d="M490.6 225.2 494.7 223.6 498.1 226.6 493.9 228.3Z"/>
<path fill="#1ca9df" d="M498.1 226.6 502.2 224.5 505.6 227.1 501.4 229.3Z"/>
<path fill="#1ca9df" d="M505.6 227.1 509.7 224.8 513.1 227.2 508.9 229.5Z"/>
<path fill="#20a5e3" d="M513.1 227.2 517.3 224.8 520.6 227.1 516.4 229.5Z"/>
<path fill="#20a5e3" d="M520.6 227.1 524.8 224.8 528.1 227 523.9 229.4Z"/>
<path fill="#20a5e3" d="M528.1 227 532.3 224.7 535.6 227 531.4 229.3Z"/>
<path fill="#20a5e3" d="M535.6 227 539.8 224.6 543.1 226.9 538.9 229.3Z"/>
<path fill="#20a5e3" d="M543.1 226.9 547.3 224.5 550.6 226.8 546.5 229.2Z"/>
<path fill="#20a5e3" d="M550.6 226.8 554.8 224.4 558.1 226.7 554 229.1Z"/>
<path fill="#20a5e3" d="M558.1 226.7 562.3 224.4 565.6 226.6 561.5 229Z"/>
<path fill="#20a5e3" d="M565.6 226.6 569.8 224.3 573.2 226.6 569 228.9Z"/>
<path fill="#20a5e3" d="M573.2 226.6 577.3 224.2 580.7 226.5 576.5 228.9Z"/>
<path fill="#08b5d0" d="M486.4 226.1 490.6 225.2 493.9 228.3 489.7 229.5Z"/>
<path fill="#18addb" d="M493.9 228.3 498.1 226.6 501.4 229.3 497.2 231.2Z"/>
<path fill="#1ca9df" d="M501.4 229.3 505.6 227.1 508.9 229.5 504.7 231.8Z"/>
<path fill="#20a5e3" d="M508.9 229.5 513.1 227.2 516.4 229.5 512.2 231.8Z"/>
<path fill="#20a5e3" d="M516.4 229.5 520.6 227.1 523.9 229.4 519.8 231.8Z"/>
<path fill="#20a5e3" d="M523.9 229.4 528.1 227 531.4 229.3 527.3 231.7Z"/>
<path fill="#20a5e3" d="M531.4 229.3 535.6 227 538.9 229.3 534.8 231.6Z"/>
<path fill="#20a5e3" d="M538.9 229.3 543.1 226.9 546.5 229.2 542.3 231.6Z"/>
<path fill="#20a5e3" d="M546.5 229.2 550.6 226.8 554 229.1 549.8 231.5Z"/>
<path fill="#20a5e3" d="M554 229.1 558.1 226.7 561.5 229 557.3 231.4Z"/>
<path fill="#20a5e3" d="M561.5 229 565.6 226.6 569 228.9 564.8 231.3Z"/>
<path fill="#20a5e3" d="M569 228.9 573.2 226.6 576.5 228.9 572.3 231.2Z"/>
<path fill="#12b1d6" d="M489.7 229.5 493.9 228.3 497.2 231.2 493.1 232.7Z"/>
<path fill="#1ca9df" d="M497.2 231.2 501.4 229.3 504.7 231.8 500.6 233.9Z"/>
<path fill="#1ca9df" d="M504.7 231.8 508.9 229.5 512.2 231.8 508.1 234.2Z"/>
<path fill="#20a5e3" d="M512.2 231.8 516.4 229.5 519.8 231.8 515.6 234.2Z"/>
<path fill="#20a5e3" d="M519.8 231.8 523.9 229.4 527.3 231.7 523.1 234.1Z"/>
<path fill="#20a5e3" d="M527.3 231.7 531.4 229.3 534.8 231.6 530.6 234Z"/>
<path fill="#20a5e3" d="M534.8 231.6 538.9 229.3 542.3 231.6 538.1 233.9Z"/>
<path fill="#20a5e3" d="M542.3 231.6 546.5 229.2 549.8 231.5 545.6 233.8Z"/>
<path fill="#20a5e3" d="M549.8 231.5 554 229.1 557.3 231.4 553.1 233.8Z"/>
<path fill="#20a5e3" d="M557.3 231.4 561.5 229 564.8 231.3 560.6 233.7Z"/>
<path fill="#20a5e3" d="M564.8 231.3 569 228.9 572.3 231.2 568.1 233.6Z"/>
<path fill="#18addb" d="M493.1 232.7 497.2 231.2 500.6 233.9 496.4 235.6Z"/>
<path fill="#1ca9df" d="M500.6 233.9 504.7 231.8 508.1 234.2 503.9 236.4Z"/>
<path fill="#20a5e3" d="M508.1 234.2 512.2 231.8 515.6 234.2 511.4 236.5Z"/>
<path fill="#20a5e3" d="M515.6 234.2 519.8 231.8 523.1 234.1 518.9 236.5Z"/>
<path fill="#20a5e3" d="M523.1 234.1 527.3 231.7 530.6 234 526.4 236.4Z"/>
<path fill="#20a5e3" d="M530.6 234 534.8 231.6 538.1 233.9 533.9 236.3Z"/>
<path fill="#20a5e3" d="M538.1 233.9 542.3 231.6 545.6 233.8 541.4 236.2Z"/>
<path fill="#20a5e3" d="M545.6 233.8 549.8 231.5 553.1 233.8 549 236.1Z"/>
<path fill="#20a5e3" d="M553.1 233.8 557.3 231.4 560.6 233.7 556.5 236.1Z"/>
<path fill="#20a5e3" d="M560.6 233.7 564.8 231.3 568.1 233.6 564 236Z"/>
<path fill="#18addb" d="M496.4 235.6 500.6 233.9 503.9 236.4 499.7 238.2Z"/>
<path fill="#1ca9df" d="M503.9 236.4 508.1 234.2 511.4 236.5 507.2 238.8Z"/>
<path fill="#20a5e3" d="M511.4 236.5 515.6 234.2 518.9 236.5 514.7 238.8Z"/>
<path fill="#20a5e3" d="M518.9 236.5 523.1 234.1 526.4 236.4 522.2 238.8Z"/>
<path fill="#20a5e3" d="M526.4 236.4 530.6 234 533.9 236.3 529.8 238.7Z"/>
<path fill="#20a5e3" d="M533.9 236.3 538.1 233.9 541.4 236.2 537.3 238.6Z"/>
<path fill="#20a5e3" d="M541.4 236.2 545.6 233.8 549 236.1 544.8 238.5Z"/>
<path fill="#20a5e3" d="M549 236.1 553.1 233.8 556.5 236.1 552.3 238.4Z"/>
<path fill="#20a5e3" d="M556.5 236.1 560.6 233.7 564 236 559.8 238.4Z"/>
<path fill="#1ca9df" d="M499.7 238.2 503.9 236.4 507.2 238.8 503.1 240.7Z"/>
<path fill="#1ca9df" d="M507.2 238.8 511.4 236.5 514.7 238.8 510.6 241.1Z"/>
<path fill="#20a5e3" d="M514.7 238.8 518.9 236.5 522.2 238.8 518.1 241.1Z"/>
<path fill="#20a5e3" d="M522.2 238.8 526.4 236.4 529.8 238.7 525.6 241.1Z"/>
<path fill="#20a5e3" d="M529.8 238.7 533.9 236.3 537.3 238.6 533.1 241Z"/>
<path fill="#20a5e3" d="M537.3 238.6 541.4 236.2 544.8 238.5 540.6 240.9Z"/>
<path fill="#20a5e3" d="M544.8 238.5 549 236.1 552.3 238.4 548.1 240.8Z"/>
<path fill="#20a5e3" d="M552.3 238.4 556.5 236.1 559.8 238.4 555.6 240.7Z"/>
<path fill="#1ca9df" d="M503.1 240.7 507.2 238.8 510.6 241.1 506.4 243Z"/>
<path fill="#1ca9df" d="M510.6 241.1 514.7 238.8 518.1 241.1 513.9 243.4Z"/>
<path fill="#20a5e3" d="M518.1 241.1 522.2 238.8 525.6 241.1 521.4 243.4Z"/>
<path fill="#20a5e3" d="M525.6 241.1 529.8 238.7 533.1 241 528.9 243.3Z"/>
<path fill="#20a5e3" d="M533.1 241 537.3 238.6 540.6 240.9 536.4 243.3Z"/>
<path fill="#20a5e3" d="M540.6 240.9 544.8 238.5 548.1 240.8 543.9 243.2Z"/>
<path fill="#20a5e3" d="M548.1 240.8 552.3 238.4 555.6 240.7 551.4 243.1Z"/>
<path fill="#1ca9df" d="M506.4 243 510.6 241.1 513.9 243.4 509.7 245.2Z"/>
<path fill="#1ca9df" d="M513.9 243.4 518.1 241.1 521.4 243.4 517.2 245.7Z"/>
<path fill="#20a5e3" d="M521.4 243.4 525.6 241.1 528.9 243.3 524.7 245.7Z"/>
<path fill="#20a5e3" d="M528.9 243.3 533.1 241 536.4 243.3 532.3 245.6Z"/>
<path fill="#20a5e3" d="M536.4 243.3 540.6 240.9 543.9 243.2 539.8 245.6Z"/>
<path fill="#20a5e3" d="M543.9 243.2 548.1 240.8 551.4 243.1 547.3 245.5Z"/>
<path fill="#1ca9df" d="M509.7 245.2 513.9 243.4 517.2 245.7 513.1 247.3Z"/>
<path fill="#20a5e3" d="M517.2 245.7 521.4 243.4 524.7 245.7 520.6 248Z"/>
<path fill="#20a5e3" d="M524.7 245.7 528.9 243.3 532.3 245.6 528.1 248Z"/>
<path fill="#20a5e3" d="M532.3 245.6 536.4 243.3 539.8 245.6 535.6 247.9Z"/>
<path fill="#20a5e3" d="M539.8 245.6 543.9 243.2 547.3 245.5 543.1 247.9Z"/>
<path fill="#1ca9df" d="M513.1 247.3 517.2 245.7 520.6 248 516.4 249.5Z"/>
<path fill="#20a5e3" d="M520.6 248 524.7 245.7 528.1 248 523.9 250.3Z"/>
<path fill="#20a5e3" d="M528.1 248 532.3 245.6 535.6 247.9 531.4 250.3Z"/>
<path fill="#20a5e3" d="M535.6 247.9 539.8 245.6 543.1 247.9 538.9 250.2Z"/>
<path fill="#1ca9df" d="M516.4 249.5 520.6 248 523.9 250.3 519.7 251.8Z"/>
<path fill="#20a5e3" d="M523.9 250.3 528.1 248 531.4 250.3 527.2 252.6Z"/>
<path fill="#20a5e3" d="M531.4 250.3 535.6 247.9 538.9 250.2 534.7 252.6Z"/>
<path fill="#1ca9df" d="M519.7 251.8 523.9 250.3 527.2 252.6 523.1 254.1Z"/>
<path fill="#20a5e3" d="M527.2 252.6 531.4 250.3 534.7 252.6 530.6 254.9Z"/>
<path fill="#1ca9df" d="M523.1 254.1 527.2 252.6 530.6 254.9 526.4 256.5Z"/>
</g>
<text x="89.3" y="296" class="m">ω</text>
<text x="215.5" y="300" class="m">q</text><text x="223.9" y="293.6" class="s">2</text>
<text x="459.3" y="296" class="m">ω</text>
<text x="585.5" y="300" class="m">q</text><text x="593.9" y="293.6" class="s">2</text>
<text transform="translate(38.4 13) scale(1.22 1)" class="ti" font-style="italic">R</text>
<text x="51" y="13" class="ti" font-style="italic">e</text>
<text x="58.6" y="13" class="ti">(</text>
<text x="64.6" y="13" class="ti" font-style="italic">σ</text>
<text x="73.3" y="16.1" class="ti" style="font-size:10.6px" textLength="6.0" lengthAdjust="spacingAndGlyphs">3</text>
<text x="80.4" y="13" class="ti">)</text>
<text x="87.4" y="13" class="ti">,</text>
<text x="99.3" y="13" class="ti" font-style="italic">κ</text>
<text x="108.1" y="13" class="ti" font-style="italic">μ</text>
<line x1="111.3" y1="3.3" x2="116.9" y2="3.3" stroke="#000" stroke-width="0.8"/>
<text x="118.3" y="16.1" class="ti" style="font-size:10.6px" textLength="5.6" lengthAdjust="spacingAndGlyphs">5</text>
<path d="M130.2 7.45H141.1M130.2 10.4H141.1" stroke="#000" stroke-width="0.85"/>
<text x="146.5" y="13" class="ti">0.0625</text>
<text x="192.7" y="13" class="ti">,</text>
<text x="204.7" y="13" class="ti" font-style="italic">κ</text>
<text x="213.5" y="13" class="ti" font-style="italic">μ</text>
<line x1="216.7" y1="3.3" x2="222.3" y2="3.3" stroke="#000" stroke-width="0.8"/>
<path d="M229.2 7.45H240.1M229.2 10.4H240.1" stroke="#000" stroke-width="0.85"/>
<text x="245.5" y="13" class="ti">0.0625</text>
<text x="405.1" y="13" class="ti" font-style="italic">I</text>
<text x="412.4" y="13" class="ti" font-style="italic" textLength="14.6" lengthAdjust="spacingAndGlyphs">m</text>
<text x="427.4" y="13" class="ti">(</text>
<text x="433.4" y="13" class="ti" font-style="italic">σ</text>
<text x="442.1" y="16.1" class="ti" style="font-size:10.6px" textLength="6.0" lengthAdjust="spacingAndGlyphs">3</text>
<text x="449.2" y="13" class="ti">)</text>
<text x="456.2" y="13" class="ti">,</text>
<text x="468.1" y="13" class="ti" font-style="italic">κ</text>
<text x="476.9" y="13" class="ti" font-style="italic">μ</text>
<line x1="480.1" y1="3.3" x2="485.7" y2="3.3" stroke="#000" stroke-width="0.8"/>
<text x="487.1" y="16.1" class="ti" style="font-size:10.6px" textLength="5.6" lengthAdjust="spacingAndGlyphs">5</text>
<path d="M499 7.45H509.9M499 10.4H509.9" stroke="#000" stroke-width="0.85"/>
<text x="515.3" y="13" class="ti">0.0625</text>
<text x="561.5" y="13" class="ti">,</text>
<text x="573.5" y="13" class="ti" font-style="italic">κ</text>
<text x="582.3" y="13" class="ti" font-style="italic">μ</text>
<line x1="585.5" y1="3.3" x2="591.1" y2="3.3" stroke="#000" stroke-width="0.8"/>
<path d="M598 7.45H608.9M598 10.4H608.9" stroke="#000" stroke-width="0.85"/>
<text x="614.3" y="13" class="ti">0.0625</text>
</svg></body></html>
